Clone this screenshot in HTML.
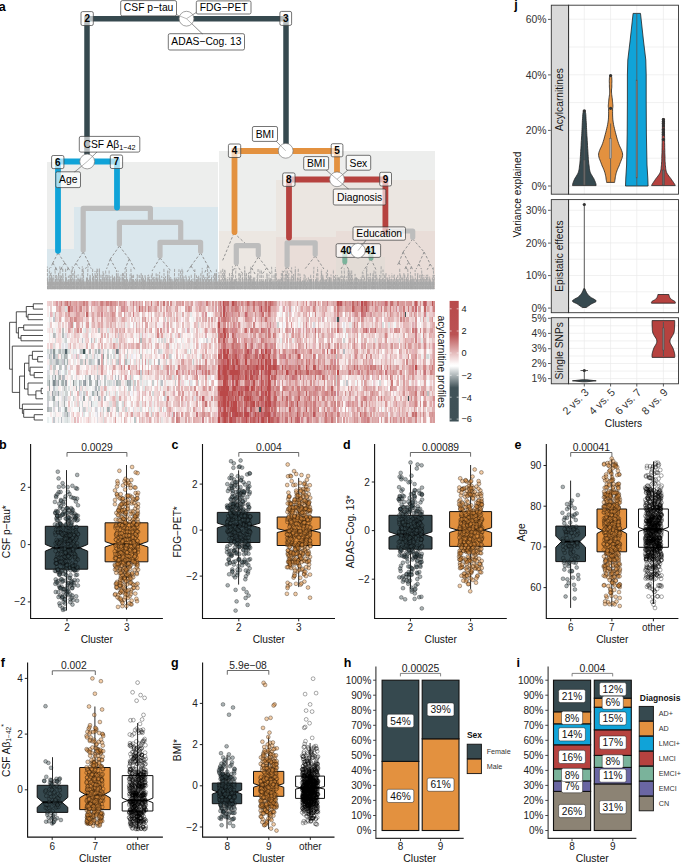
<!DOCTYPE html>
<html><head><meta charset="utf-8"><style>
html,body{margin:0;padding:0;background:#fff;}
svg{display:block;font-family:"Liberation Sans",sans-serif;}
</style></head><body>
<svg width="685" height="862" viewBox="0 0 685 862">
<g shape-rendering="crispEdges">
<rect x="47.2" y="162.3" width="171" height="127" fill="#edeeed"/>
<rect x="73.6" y="207" width="144.6" height="82.3" fill="#dae7ed"/>
<rect x="47.2" y="249" width="26.4" height="40.3" fill="#dae7ed"/>
<rect x="219.2" y="151" width="215.5" height="138.3" fill="#edeeed"/>
<rect x="275.5" y="179.5" width="159.2" height="109.8" fill="#ebe6e1"/>
<rect x="219.2" y="231" width="56.3" height="58.3" fill="#ece7e2"/>
<rect x="275.5" y="237" width="60" height="52.3" fill="#e9ddd8"/>
<rect x="335.5" y="231" width="99.2" height="58.3" fill="#e9ddd8"/>
<rect x="335.5" y="256.6" width="49.9" height="32.7" fill="#e3dcd6"/>
</g>
<path d="M58 253L52.8 263M58 253L64.8 263M52.8 263L50.7 267.9M52.8 263L55.9 267.9M55.9 267.9L54.4 271.4M55.9 267.9L57.5 271.4M64.8 263L61.4 267.9M64.8 263L68.2 267.9M61.4 267.9L59.7 271.4M61.4 267.9L63.2 271.4M68.2 267.9L66.8 271.4M68.2 267.9L70.2 271.4M83.2 252L75.9 263.3M83.2 252L88.9 263.3M75.9 263.3L72.6 268.8M75.9 263.3L79.9 268.8M88.9 263.3L85.5 268.7M88.9 263.3L91.2 268.7M119.4 246L110.3 259M119.4 246L129.3 259M110.3 259L106.6 268.9M110.3 259L115.7 268.9M129.3 259L124.8 269.3M129.3 259L134.7 269.3M160 258L152 271M160 258L171 271M200.6 253L191 266M200.6 253L208 266M191 266L186.1 273.4M191 266L195.7 273.4M208 266L204.5 273.1M208 266L211.9 273.1M236.3 264L231.8 274M236.3 264L242.8 274M258.3 257L251.7 267.9M258.3 257L266.7 267.9M251.7 267.9L248.5 274M251.7 267.9L255.1 274M266.7 267.9L262.3 274M266.7 267.9L270.7 274M287.1 267L282 274M287.1 267L293 274M315.2 256L304.9 269M315.2 256L323.9 269M344.8 263L340.2 270.2M344.8 263L349.2 270.2M371 259L363.5 270.8M371 259L376.5 270.8M412.7 239L403.1 252M412.7 239L424.1 252M403.1 252L399 262.5M403.1 252L408.6 262.5M399 262.5L396.8 266M399 262.5L400.8 266M408.6 262.5L405.9 266.7M408.6 262.5L411.4 266.7M405.9 266.7L404.4 270.2M405.9 266.7L407.2 270.2M411.4 266.7L410 270.2M411.4 266.7L412.8 270.2M424.1 252L418.8 264M424.1 252L430.2 264M418.8 264L416.1 269.1M418.8 264L421.4 269.1M430.2 264L427.2 269.7M430.2 264L433.3 269.7M234 233L222 262M234 233L247 245" fill="none" stroke="#939393" stroke-width="1" stroke-dasharray="2.6 1.9"/>
<rect x="47.5" y="281.5" width="386.8" height="7.6" fill="#b6b6b6"/>
<path d="M47.5 289.2L47.4 266.6M49 289.2L49.3 276.3M50.8 289.2L50.6 271.9M52.3 289.2L51.6 278M53.3 289.2L52.6 275.8M54.4 289.2L53.6 275.1M55.7 289.2L56.4 275M57.4 289.2L57.1 278.3M59.1 289.2L58.5 273M60.2 289.2L60.4 277.8M61.3 289.2L61.1 278.3M62.8 289.2L62.8 268.7M64.2 289.2L65 280.8M65.8 289.2L65.6 267.8M67.1 289.2L66.2 276.8M68 289.2L67.7 280.1M69 289.2L68.2 280.1M70.2 289.2L70.4 275.1M71.2 289.2L71 278.8M72.3 289.2L72.2 266.3M73.6 289.2L73.3 280.5M74.7 289.2L73.8 272.9M76.5 289.2L76.6 280.2M77.4 289.2L78.1 274.4M78.9 289.2L78.3 278.6M80.5 289.2L80.2 275.7M81.6 289.2L82.3 266.3M83.3 289.2L82.7 268.3M84.6 289.2L83.7 281M85.8 289.2L86.7 276.4M87.1 289.2L88 266.3M88.3 289.2L87.7 279.6M89.4 289.2L90.1 274.9M90.7 289.2L89.9 275.6M92.2 289.2L92.7 267.9M93.5 289.2L93.2 275.7M95.2 289.2L95 271M96.9 289.2L96.2 280M97.9 289.2L97.2 267.7M99.6 289.2L99.3 268.9M101 289.2L101.9 281.1M102.5 289.2L102.3 274.7M104.2 289.2L103.7 272.5M105.3 289.2L104.8 277.1M106.6 289.2L106.3 274.8M107.9 289.2L107.8 274.9M109.6 289.2L109.7 277.5M110.6 289.2L109.6 279.9M112.2 289.2L112.6 277.9M113.6 289.2L113.7 277.6M115.2 289.2L114.7 277.3M116.3 289.2L116.5 270.1M117.9 289.2L118.1 270.7M119.3 289.2L119.2 276.4M120.6 289.2L121 274.6M122.3 289.2L122.5 272.1M124.1 289.2L123.3 273.1M125.4 289.2L124.5 279.5M126.9 289.2L126.2 267M128.4 289.2L129.2 280.2M130.2 289.2L130 274.5M131.5 289.2L130.9 267.5M132.8 289.2L132.2 278.8M134 289.2L134.1 281.1M135.3 289.2L135.6 278.9M136.7 289.2L137.2 274.3M138.4 289.2L137.5 279.3M140 289.2L139.9 280.3M141.8 289.2L141.1 272.1M143.5 289.2L142.7 276.3M144.4 289.2L143.6 278.2M146.2 289.2L145.4 275.6M147.9 289.2L147.8 275.2M149.1 289.2L148.6 274.7M150.1 289.2L149.3 279.5M151.1 289.2L150.8 279.8M152.3 289.2L152.3 271.9M153.4 289.2L152.9 281.1M154.3 289.2L153.7 277.3M155.6 289.2L156.2 273.3M156.9 289.2L156.7 275.4M158.2 289.2L157.9 274.3M159.9 289.2L159.7 276.7M161.1 289.2L160.3 280.3M162.7 289.2L161.8 280.1M164.3 289.2L163.9 268.8M165.5 289.2L164.8 278M166.8 289.2L167.7 274.5M168.1 289.2L167.8 274.4M169.4 289.2L169.3 278.5M170.7 289.2L169.7 277.7M171.9 289.2L170.9 278.4M172.8 289.2L172.9 279.6M174.2 289.2L174.6 268.9M175.8 289.2L176.8 278.9M176.9 289.2L176 276.7M178.5 289.2L179 269.2M180.2 289.2L180.2 277.5M181.8 289.2L182 267.6M183.5 289.2L183 276.3M184.4 289.2L183.7 278.7M186.1 289.2L186.3 276.8M187.6 289.2L188.2 281.2M189.2 289.2L189.5 277.5M190.1 289.2L189.3 279.4M191.3 289.2L191.8 279.8M193.1 289.2L193 278.5M194.6 289.2L194.9 269.3M195.5 289.2L196 279.4M196.7 289.2L195.8 281.1M197.9 289.2L198.2 276.4M199 289.2L199 277.9M200 289.2L201 272.6M201.8 289.2L202.4 278M203.5 289.2L203 279.3M205.3 289.2L204.6 277.1M206.7 289.2L207.3 273.1M208 289.2L207.5 268.6M209.7 289.2L208.7 281M211.1 289.2L210.4 279.1M212.3 289.2L211.3 275.3M213.9 289.2L214.7 273.2M215.4 289.2L215.1 271.9M216.7 289.2L216.4 269.5M217.9 289.2L217.1 280.9M219.6 289.2L219.1 274.7M220.7 289.2L220.5 279.9M222.5 289.2L222.8 267.7M224.2 289.2L224.7 269.8M225.2 289.2L225.7 278M226.6 289.2L227.5 280.9M227.7 289.2L227.2 278.8M229.2 289.2L229.5 272.1M230.4 289.2L229.7 278.4M231.4 289.2L231.4 274.9M232.5 289.2L232.4 266.2M233.6 289.2L233.2 280.6M234.5 289.2L234.7 279.4M236.2 289.2L236.1 278.3M237.6 289.2L236.7 278.8M238.8 289.2L238.8 273.2M240.2 289.2L239.8 272.5M241.3 289.2L242.3 278.1M243 289.2L242.1 274M244.6 289.2L244.7 270.4M245.5 289.2L246.1 274.7M247.1 289.2L246.3 272.2M248.2 289.2L249 276.4M249.7 289.2L249.6 275.8M251.1 289.2L250.6 275.7M252.8 289.2L252.1 279.1M254 289.2L253.2 276.3M254.9 289.2L254.7 277.1M256 289.2L255.6 281.1M257.3 289.2L258.1 269M258.7 289.2L259.6 279.5M260.2 289.2L260.2 281M261.7 289.2L262 279.4M263.4 289.2L263.1 281M264.7 289.2L265.3 279.8M266.3 289.2L267.2 279.8M267.5 289.2L266.9 272.4M269.1 289.2L269 274.5M270.1 289.2L270.4 278.3M271.9 289.2L271.3 278.4M273.6 289.2L272.8 280.8M274.9 289.2L275.4 267.1M276.7 289.2L276.1 271.6M278.4 289.2L278.8 281M279.7 289.2L279 278.9M280.6 289.2L281.5 278.7M281.6 289.2L281.3 272.5M283.2 289.2L282.3 270.7M284.6 289.2L284 274.8M285.8 289.2L285.6 274M287.4 289.2L286.5 273.9M288.4 289.2L288.9 272.1M290.1 289.2L291 279.3M291.5 289.2L291.2 276.2M292.7 289.2L293.5 275.9M294.2 289.2L293.6 274M295.5 289.2L295.3 266.6M296.6 289.2L297.5 277.7M297.7 289.2L298.3 268.3M299.3 289.2L298.9 278.9M300.5 289.2L299.9 273.6M302.1 289.2L301.1 280.7M303.5 289.2L304.2 274.3M305.3 289.2L304.5 280.6M306.6 289.2L306.1 278.1M307.9 289.2L308.4 276.5M309.6 289.2L310.2 280.4M310.7 289.2L311.2 278.6M311.8 289.2L311.1 279.5M313.5 289.2L313.3 278.9M315.3 289.2L315.9 279.6M316.8 289.2L316.7 273.4M318.4 289.2L317.5 266.9M319.6 289.2L320.5 279.9M321 289.2L321.7 271.2M322.3 289.2L323.2 275.8M323.3 289.2L322.7 276.9M324.5 289.2L324 279.8M326 289.2L325 279.8M327.2 289.2L326.8 279.9M328.2 289.2L327.4 269.8M329.2 289.2L329.5 277.3M330.2 289.2L330 276.3M331.4 289.2L331 274.5M332.8 289.2L333.5 278.3M334.6 289.2L335 279.8M335.7 289.2L335.5 274.9M337.3 289.2L337.2 275M338.3 289.2L338.6 277.3M340.1 289.2L339.8 276.8M341.4 289.2L341.5 279.2M343.2 289.2L343.8 277.8M344.9 289.2L345.8 280.3M346.7 289.2L347.6 280.8M348 289.2L348.6 269.2M349 289.2L348.8 272.4M350.7 289.2L350.1 272.7M351.9 289.2L351.2 278.5M353 289.2L352.1 274.9M354.4 289.2L355.1 273.9M355.5 289.2L355.7 277.3M356.6 289.2L356.5 277.1M358.1 289.2L357.2 278.1M359.6 289.2L360.1 279.6M361.2 289.2L361.1 279.9M362.2 289.2L361.4 278.2M363.5 289.2L363.7 280.9M364.4 289.2L364.5 275.8M365.4 289.2L366.3 278.6M366.4 289.2L366.9 266.2M368.1 289.2L368 274.3M369.8 289.2L370.4 272.9M371.6 289.2L372.1 278.7M372.6 289.2L373.2 272M373.6 289.2L373 274.8M374.8 289.2L373.8 279M375.8 289.2L376.2 274.6M377.5 289.2L376.8 275.7M378.9 289.2L379.7 278.7M380.3 289.2L379.5 275M382.1 289.2L382.7 278.4M383.2 289.2L383 269.6M384.8 289.2L385.3 280M385.8 289.2L386 272.2M387.6 289.2L387.2 276.6M388.5 289.2L388.7 280.2M389.7 289.2L389 274.9M390.9 289.2L389.9 281M392.1 289.2L391.5 278.7M393.5 289.2L393.7 279.8M394.8 289.2L394.3 274.6M395.9 289.2L396.6 276.7M397.5 289.2L396.5 279.4M398.9 289.2L399.2 278.7M400.2 289.2L399.7 268.3M402 289.2L401.8 277.5M403.1 289.2L402.1 275.7M404.5 289.2L403.9 273.1M405.9 289.2L406.5 276.7M407 289.2L406.1 279.1M408.7 289.2L407.7 268.5M410.3 289.2L410.8 277.9M411.6 289.2L411.1 280.5M412.6 289.2L413 276M414.2 289.2L414.3 279.3M415.5 289.2L415.1 270M417 289.2L417.8 272.5M417.9 289.2L418.4 279.5M419.7 289.2L420.4 278.9M420.9 289.2L421.1 274.8M422.4 289.2L422.3 274.3M424 289.2L423.9 275.2M425.6 289.2L425 279M427.1 289.2L426.3 274.8M428 289.2L427.7 274.7M429 289.2L429.4 280.9M430.5 289.2L429.6 276M431.9 289.2L432.5 275.5M433.6 289.2L434.4 275.1" fill="none" stroke="#a3a3a3" stroke-width="0.95" stroke-dasharray="3.2 1.1" stroke-dashoffset="0"/>
<path d="M48.2 289.2L47.4 279.8M49.1 289.2L49.4 267.7M50.8 289.2L50 279.2M51.7 289.2L51.4 272.6M53 289.2L52.6 279.4M54.6 289.2L55.5 279M55.9 289.2L55 269.3M57.2 289.2L56.9 275.8M58.7 289.2L59.5 279.7M59.7 289.2L58.7 272.8M60.8 289.2L59.8 266.4M62.1 289.2L61.5 275.6M63.5 289.2L63 275.4M65.2 289.2L65.6 279.7M66.6 289.2L65.7 276.7M68.2 289.2L68.4 275.7M69.4 289.2L70.2 278.4M70.4 289.2L69.8 274M71.5 289.2L71.3 270.2M73.2 289.2L73.3 278M74.8 289.2L74.5 269M76 289.2L76.3 275.3M77.6 289.2L78.1 278.1M79 289.2L79.7 278M80.1 289.2L80.5 279.1M81.7 289.2L81.2 280.1M82.9 289.2L82.6 280.1M84 289.2L83.2 268.4M85.8 289.2L86.7 278.5M87.4 289.2L86.8 278.2M88.9 289.2L88.6 279.8M89.8 289.2L90.2 275.7M91.2 289.2L90.4 278M92.6 289.2L93.4 276M93.9 289.2L93.7 276M95 289.2L95.5 275M96.5 289.2L96.8 268.8M97.8 289.2L97 276.8M99.1 289.2L99.4 268.5M100.2 289.2L100.5 278M101.5 289.2L100.9 274.7M103 289.2L103 271.1M104.8 289.2L104.1 277.4M106.4 289.2L105.6 270M107.8 289.2L107.8 276.2M109.3 289.2L109.1 270M111 289.2L110.8 276.4M112.6 289.2L112.3 274.3M113.5 289.2L112.6 278.4M114.8 289.2L114.5 276.3M116 289.2L116.8 276M117.3 289.2L117.1 275.6M118.4 289.2L119 275.8M119.9 289.2L119.4 277.3M121.7 289.2L122.3 276.7M123.3 289.2L123.4 279.1M124.3 289.2L125 271.4M125.5 289.2L125.3 279.4M126.5 289.2L126.1 276.1M127.6 289.2L127.5 277.8M129.1 289.2L130 278.7M130.8 289.2L131.6 275.4M132.4 289.2L132.7 275.4M133.3 289.2L133.6 274.5M134.4 289.2L133.9 280.2M136 289.2L136.8 280.1M137.6 289.2L137.9 275M139.2 289.2L139.8 274.9M140.9 289.2L141 276.4M142.5 289.2L142.6 275M143.6 289.2L143.6 280.2M144.6 289.2L144.5 280.2M145.9 289.2L144.9 275.2M147.6 289.2L147.9 277.3M149.2 289.2L150.1 278.3M150.2 289.2L149.2 276.7M151.6 289.2L151.3 274.7M153.4 289.2L154.2 277.8M154.4 289.2L154 276.8M156 289.2L156.1 277.9M157.6 289.2L157.5 278.2M159 289.2L159.7 271.9M160.3 289.2L160.3 279.3M162.1 289.2L161.7 275.7M163.2 289.2L163.5 277.1M164.8 289.2L165.6 276.1M166.2 289.2L165.3 279.1M167.3 289.2L167.6 269.3M168.9 289.2L169.2 269.3M170.4 289.2L170.7 277M171.5 289.2L172 278M172.5 289.2L173 280.9M174.2 289.2L174.8 278.6M175.8 289.2L175.4 279.4M177.1 289.2L177.4 278.2M178.8 289.2L177.9 277.2M179.8 289.2L180.7 269.6M181.1 289.2L181.3 278.5M182.9 289.2L182.7 270.4M183.9 289.2L183.2 279.7M184.8 289.2L184 276.4M186.5 289.2L185.8 275.1M187.5 289.2L187.9 279.5M188.5 289.2L189 275.8M190.2 289.2L190.5 280.6M191.7 289.2L191.2 274.7M193.5 289.2L192.5 281.1M195 289.2L194.6 273.6M196.6 289.2L196.5 275.2M197.5 289.2L197.4 277.2M199 289.2L198.7 275.6M200.5 289.2L200.3 278.3M202.1 289.2L202.2 267.9M203.3 289.2L203.7 274.4M204.9 289.2L205.9 277M206.6 289.2L206.4 279M208.3 289.2L208.5 276.4M210 289.2L209 271.9M211.1 289.2L211.7 277.1M212.8 289.2L213.4 275.4M214.5 289.2L215.2 279.3M216.1 289.2L215.8 274.8M217.1 289.2L216.5 275.6M218.7 289.2L218.9 272.3M220.2 289.2L219.7 279.8M221.7 289.2L220.9 270.5M223.4 289.2L223.5 272.3M225.1 289.2L225 270M226.5 289.2L225.9 279.9M228 289.2L227.8 277.2M229.4 289.2L230.4 280.9M230.6 289.2L231.2 276.8M231.7 289.2L231.7 278.8M232.6 289.2L233.3 274.3M233.9 289.2L234.5 279.4M235.2 289.2L235.9 268.1M237 289.2L236.4 280.9M238 289.2L238.2 280.8M239.7 289.2L240.6 274.6M240.7 289.2L239.9 278.4M242.5 289.2L242.7 277.2M244.2 289.2L244.1 278.4M245.3 289.2L244.7 266.3M246.2 289.2L247 278.7M247.9 289.2L248.5 273.8M249.4 289.2L248.6 274.3M250.5 289.2L250.8 266.7M251.6 289.2L250.9 275.9M252.8 289.2L252.8 280.3M253.9 289.2L254.2 280.2M254.8 289.2L253.9 279.8M256.5 289.2L257.3 274.7M258.2 289.2L257.4 278.1M260 289.2L259.9 269.2M261.2 289.2L261.4 270.4M262.2 289.2L262.6 280.8M263.6 289.2L263.1 275.1M264.9 289.2L265.6 279.3M266.1 289.2L265.7 277.8M267.8 289.2L266.9 274.3M269.5 289.2L269.4 279.7M270.7 289.2L270.4 279.8M272.4 289.2L271.6 266.8M273.6 289.2L274.1 273.7M274.8 289.2L275.4 274.1M276 289.2L276.6 281.2M277.3 289.2L278.2 278.2M278.4 289.2L277.8 280.2M280 289.2L279.2 279.8M281 289.2L280.6 277.7M282.1 289.2L282.7 276.2M283.5 289.2L284 280.7M284.8 289.2L285.4 280.8M286 289.2L286 267.3M286.9 289.2L287.7 270.4M288 289.2L287.8 275.4M289.1 289.2L288.1 277M290.5 289.2L289.7 277.6M292 289.2L291.6 267.3M293.5 289.2L292.7 275.9M295.2 289.2L295.3 270.2M296.6 289.2L297.5 281.1M297.7 289.2L297.2 280.5M299.3 289.2L299.7 280.5M300.4 289.2L300.6 277M301.8 289.2L302.5 280.5M303.3 289.2L303.3 280.3M304.7 289.2L304.5 280.3M305.7 289.2L305 275.2M307.1 289.2L307.8 280M308.9 289.2L309.6 278.3M310.2 289.2L310.8 274.6M311.4 289.2L311.3 278.9M313.2 289.2L313.9 266.9M314.9 289.2L315.8 277.6M316.6 289.2L316.9 278.2M317.9 289.2L317.7 280.7M319.2 289.2L320.2 280.2M320.8 289.2L321.4 269.1M322.5 289.2L322.8 273.9M323.7 289.2L323.7 279.3M325.4 289.2L325.4 279.4M326.7 289.2L326.3 271.9M328.2 289.2L329.1 277M329.5 289.2L329.6 277.9M330.6 289.2L330.1 280.3M331.8 289.2L331 279.5M333.2 289.2L333.4 269.3M334.7 289.2L334.6 276.2M336.1 289.2L335.7 277.9M337.2 289.2L337 277.6M338.6 289.2L339.4 278.7M339.7 289.2L339.3 277.8M341.5 289.2L340.9 275.8M342.5 289.2L341.6 270.7M343.7 289.2L343 276.1M344.9 289.2L344.2 268.3M346.1 289.2L346.3 276.5M347.7 289.2L348.2 270.1M349.3 289.2L349.9 270.4M350.8 289.2L351.6 273.2M351.7 289.2L351.7 269.5M353.5 289.2L354.1 278.3M355.2 289.2L355.1 278.5M356.5 289.2L356.3 279.1M357.9 289.2L358.5 278.9M359.6 289.2L358.9 278.1M360.7 289.2L360.9 277.2M361.7 289.2L362.4 271.6M363.4 289.2L363.2 272.6M365.1 289.2L365.2 280.9M366.4 289.2L366.5 268M368.2 289.2L368.6 277.6M369.5 289.2L369.2 277M371.2 289.2L370.4 277.5M372.5 289.2L372.6 277.3M374.2 289.2L374 270.3M375.6 289.2L375.7 271.5M377.3 289.2L378.2 279M378.9 289.2L379.7 280.4M380.4 289.2L381.2 266.3M381.7 289.2L381.7 279.2M383.1 289.2L383.3 279.9M384.5 289.2L384.8 274.2M385.4 289.2L385.1 275.7M387 289.2L387.6 279.1M388.4 289.2L388.4 279.8M389.8 289.2L389.8 276.7M391.6 289.2L390.8 278.3M392.6 289.2L391.8 273.3M393.7 289.2L393.9 275.4M395.3 289.2L395.8 281.1M396.5 289.2L395.8 278.7M397.6 289.2L397.8 274.9M398.8 289.2L398 278.5M400.5 289.2L400.4 274.5M402 289.2L402.9 280.9M403.7 289.2L404.3 274.9M404.8 289.2L404.8 274.5M406.6 289.2L407 278.5M407.7 289.2L407.7 275.1M409.3 289.2L409 280M410.4 289.2L410.5 271.9M411.4 289.2L411.2 278.5M412.3 289.2L412 275.4M413.5 289.2L412.9 279.2M414.4 289.2L413.7 278.8M415.9 289.2L416.6 279.3M416.9 289.2L417.6 275.3M418 289.2L417.7 276.1M419.8 289.2L419.8 274.5M420.9 289.2L421.3 280.3M422 289.2L421.7 269.5M423.1 289.2L423.9 279.7M424.1 289.2L423.7 277.4M425.7 289.2L425.9 276.6M426.9 289.2L426.3 280.6M428.6 289.2L427.8 276.6M430 289.2L429.6 277.7M430.9 289.2L430.2 279.6M432.5 289.2L433.3 278.4M434.1 289.2L433.3 267.3" fill="none" stroke="#a8a8a8" stroke-width="0.95" stroke-dasharray="3.2 1.1" stroke-dashoffset="1.7"/>
<path d="M83.2 250V208.3H150.4V222.3M119.4 244V222.3H180.7V242.3M160 256V242.3H200.6V251.3M236.3 262.7V245.6H258.3V255.1M287.1 265.2V242.8H315.2V254.2M385.4 231H412.7V237.3" fill="none" stroke="#bdbdbd" stroke-width="5.2" stroke-linecap="round" stroke-linejoin="round"/>
<path d="M344.8 261.7V250.6H371V257.9" fill="none" stroke="#7ab39b" stroke-width="5" stroke-linecap="round"/>
<path d="M289 237.5V179.5H385.4V232" fill="none" stroke="#b6423f" stroke-width="5.8" stroke-linecap="round"/>
<path d="M234.5 232V151H337V179.5" fill="none" stroke="#e3913f" stroke-width="5.8" stroke-linecap="round"/>
<path d="M58 250.8V161.5H117V207.5" fill="none" stroke="#10a3d8" stroke-width="5.8" stroke-linecap="round"/>
<path d="M87 161.5V18.7H286V151" fill="none" stroke="#36494f" stroke-width="5.5"/>
<path d="M186.5 18.7L176 14.5M186.5 18.7L197 12M186.5 18.7L203 34.5M87.2 161.5L97 152M87.2 161.5L74 172.5M285.7 150.8L276 141M337 179.3L326 170M337 179.3L348 170M337 179.3L349 189.5M358 250.6L366 240" stroke="#8a8a8a" stroke-width="0.6" fill="none"/>
<circle cx="186.5" cy="18.7" r="7.4" fill="#fff" stroke="#7a7a7a" stroke-width="0.7"/>
<circle cx="87.2" cy="161.5" r="7.4" fill="#fff" stroke="#7a7a7a" stroke-width="0.7"/>
<circle cx="285.7" cy="150.8" r="7.4" fill="#fff" stroke="#7a7a7a" stroke-width="0.7"/>
<circle cx="337" cy="179.3" r="7.4" fill="#fff" stroke="#7a7a7a" stroke-width="0.7"/>
<circle cx="358" cy="250.6" r="7.4" fill="#fff" stroke="#7a7a7a" stroke-width="0.7"/>
<path d="M186.5 18.7L176 14.5M186.5 18.7L197 12M186.5 18.7L203 34.5M87.2 161.5L97 152M87.2 161.5L74 172.5M285.7 150.8L276 141M337 179.3L326 170M337 179.3L348 170M337 179.3L349 189.5M358 250.6L366 240" stroke="#8a8a8a" stroke-width="0.6" fill="none"/>
<rect x="120.7" y="0.6" width="55.8" height="15.3" rx="1.6" fill="#fff" fill-opacity="0.63" stroke="#3a3a3a" stroke-width="0.7"/>
<text x="148.6" y="11" font-size="10.3" text-anchor="middle" fill="#000">CSF p−tau</text>
<rect x="196.3" y="0.9" width="54.7" height="13.1" rx="1.6" fill="#fff" fill-opacity="0.63" stroke="#3a3a3a" stroke-width="0.7"/>
<text x="223.7" y="11" font-size="10.3" text-anchor="middle" fill="#000">FDG−PET</text>
<rect x="168.3" y="33.7" width="76.2" height="16.3" rx="1.6" fill="#fff" fill-opacity="0.63" stroke="#3a3a3a" stroke-width="0.7"/>
<text x="206.4" y="44.9" font-size="10.3" text-anchor="middle" fill="#000">ADAS−Cog. 13</text>
<rect x="81" y="11.6" width="12.3" height="13.9" rx="1.6" fill="#fff" fill-opacity="0.63" stroke="#3a3a3a" stroke-width="0.7"/>
<text x="87.2" y="22.1" font-size="10" text-anchor="middle" font-weight="bold" fill="#000">2</text>
<rect x="279.9" y="11.4" width="11.7" height="14" rx="1.6" fill="#fff" fill-opacity="0.63" stroke="#3a3a3a" stroke-width="0.7"/>
<text x="285.8" y="22" font-size="10" text-anchor="middle" font-weight="bold" fill="#000">3</text>
<rect x="252.4" y="126.5" width="25.1" height="14.9" rx="1.6" fill="#fff" fill-opacity="0.63" stroke="#3a3a3a" stroke-width="0.7"/>
<text x="264.9" y="137.7" font-size="10.3" text-anchor="middle" fill="#000">BMI</text>
<rect x="228.4" y="144" width="12.3" height="13.5" rx="1.6" fill="#fff" fill-opacity="0.63" stroke="#3a3a3a" stroke-width="0.7"/>
<text x="234.6" y="154.3" font-size="10" text-anchor="middle" font-weight="bold" fill="#000">4</text>
<rect x="331.2" y="143.7" width="11.7" height="13.1" rx="1.6" fill="#fff" fill-opacity="0.63" stroke="#3a3a3a" stroke-width="0.7"/>
<text x="337" y="153.8" font-size="10" text-anchor="middle" font-weight="bold" fill="#000">5</text>
<rect x="303.7" y="156.6" width="24.9" height="13.4" rx="1.6" fill="#fff" fill-opacity="0.63" stroke="#3a3a3a" stroke-width="0.7"/>
<text x="316.1" y="167" font-size="10.3" text-anchor="middle" fill="#000">BMI</text>
<rect x="346.2" y="155.3" width="24.5" height="14.9" rx="1.6" fill="#fff" fill-opacity="0.63" stroke="#3a3a3a" stroke-width="0.7"/>
<text x="358.4" y="166.5" font-size="10.3" text-anchor="middle" fill="#000">Sex</text>
<rect x="282.7" y="172.9" width="12.3" height="13.5" rx="1.6" fill="#fff" fill-opacity="0.63" stroke="#3a3a3a" stroke-width="0.7"/>
<text x="288.9" y="183.2" font-size="10" text-anchor="middle" font-weight="bold" fill="#000">8</text>
<rect x="379.7" y="172.3" width="11.8" height="13.7" rx="1.6" fill="#fff" fill-opacity="0.63" stroke="#3a3a3a" stroke-width="0.7"/>
<text x="385.6" y="182.8" font-size="10" text-anchor="middle" font-weight="bold" fill="#000">9</text>
<rect x="333.3" y="189" width="52.5" height="16" rx="1.6" fill="#fff" fill-opacity="0.63" stroke="#3a3a3a" stroke-width="0.7"/>
<text x="359.6" y="200.7" font-size="10.3" text-anchor="middle" fill="#000">Diagnosis</text>
<rect x="79.3" y="136.4" width="60.5" height="15.7" rx="1.6" fill="#fff" fill-opacity="0.63" stroke="#3a3a3a" stroke-width="0.7"/>
<text x="109.6" y="148" font-size="10.3" text-anchor="middle" fill="#000">CSF Aβ<tspan font-size="7.3" dy="2">1−42</tspan></text>
<rect x="51.6" y="155.5" width="12.3" height="13.1" rx="1.6" fill="#fff" fill-opacity="0.63" stroke="#3a3a3a" stroke-width="0.7"/>
<text x="57.8" y="165.7" font-size="10" text-anchor="middle" font-weight="bold" fill="#000">6</text>
<rect x="110.3" y="155" width="12.3" height="13.5" rx="1.6" fill="#fff" fill-opacity="0.63" stroke="#3a3a3a" stroke-width="0.7"/>
<text x="116.4" y="165.3" font-size="10" text-anchor="middle" font-weight="bold" fill="#000">7</text>
<rect x="55.8" y="171.8" width="24.7" height="15.8" rx="1.6" fill="#fff" fill-opacity="0.63" stroke="#3a3a3a" stroke-width="0.7"/>
<text x="68.2" y="183.4" font-size="10.3" text-anchor="middle" fill="#000">Age</text>
<rect x="353" y="226.9" width="52.5" height="13.3" rx="1.6" fill="#fff" fill-opacity="0.63" stroke="#3a3a3a" stroke-width="0.7"/>
<text x="379.2" y="237.3" font-size="10.3" text-anchor="middle" fill="#000">Education</text>
<rect x="336.1" y="243.7" width="19.9" height="13.7" rx="1.6" fill="#fff" fill-opacity="0.63" stroke="#3a3a3a" stroke-width="0.7"/>
<text x="346.1" y="254.1" font-size="10" text-anchor="middle" font-weight="bold" fill="#000">40</text>
<rect x="360" y="243.7" width="20.6" height="13.7" rx="1.6" fill="#fff" fill-opacity="0.63" stroke="#3a3a3a" stroke-width="0.7"/>
<text x="370.3" y="254.1" font-size="10" text-anchor="middle" font-weight="bold" fill="#000">41</text>
<circle cx="358" cy="250.6" r="7.2" fill="#fff" stroke="#7a7a7a" stroke-width="0.7"/>
<path d="M358 250.6L366 240.5" stroke="#8a8a8a" stroke-width="0.6"/>
<text x="-1.2" y="10.8" font-size="12.5" font-weight="bold" fill="#000">a</text>
<g transform="translate(47.3 301.2) scale(1.5019 5.2783)" fill="none" stroke-width="1.08" shape-rendering="crispEdges">
<path stroke="#f0d2d2" d="M0.5 0v1M3.5 8v1M7.5 6v2M7.5 10v1M8.5 4v1M8.5 8v1M10.5 2v1M16.5 5v1M20.5 18v1M20.5 21v1M21.5 5v1M21.5 8v1M25.5 6v2M26.5 7v1M27.5 12v1M29.5 6v1M34.5 3v1M35.5 5v1M35.5 12v1M36.5 16v1M39.5 5v1M41.5 17v1M42.5 5v1M45.5 21v1M46.5 6v1M49.5 22v1M50.5 13v1M52.5 6v1M52.5 21v1M55.5 6v1M58.5 2v1M58.5 8v1M59.5 11v1M68.5 0v1M69.5 20v1M71.5 17v1M72.5 3v1M72.5 16v1M73.5 2v1M75.5 12v1M77.5 8v1M80.5 19v1M82.5 5v1M82.5 9v1M83.5 17v1M84.5 0v1M84.5 13v1M85.5 6v1M86.5 12v1M88.5 1v1M88.5 10v1M88.5 20v1M88.5 22v1M89.5 13v1M90.5 18v1M90.5 21v1M92.5 11v1M93.5 7v1M93.5 10v1M93.5 13v1M94.5 19v1M96.5 16v1M98.5 13v1M98.5 19v1M100.5 2v1M100.5 16v1M100.5 21v1M101.5 6v1M101.5 14v1M101.5 19v1M102.5 15v1M103.5 6v1M107.5 17v1M107.5 22v1M108.5 5v1M108.5 14v1M109.5 17v1M109.5 20v1M110.5 2v1M111.5 2v1M111.5 4v1M111.5 8v1M112.5 9v1M113.5 12v1M131.5 1v1M131.5 3v1M139.5 3v1M139.5 6v1M141.5 9v1M144.5 4v1M150.5 3v1M156.5 2v1M156.5 6v1M157.5 0v1M160.5 6v1M163.5 8v1M166.5 2v1M171.5 0v1M173.5 4v1M173.5 15v1M175.5 1v1M176.5 3v1M177.5 3v1M179.5 0v1M181.5 2v1M182.5 14v2M182.5 20v1M186.5 2v1M187.5 19v1M189.5 4v1M196.5 2v1M196.5 9v1M197.5 12v1M201.5 8v1M205.5 6v1M205.5 14v1M205.5 20v1M207.5 17v1M208.5 14v1M208.5 22v1M213.5 3v1M213.5 6v1M214.5 4v1M214.5 7v1M215.5 6v1M218.5 14v1M219.5 10v1M221.5 3v2M223.5 1v1M224.5 7v1M225.5 4v1M227.5 20v1M228.5 4v1M231.5 14v1M232.5 4v1M233.5 13v1M235.5 4v1M235.5 17v1M237.5 9v1M238.5 12v1M239.5 19v1M240.5 17v1M242.5 3v1M248.5 14v1M249.5 14v1M252.5 6v1M252.5 13v2M253.5 18v1M255.5 8v1M255.5 15v1M256.5 14v1"/>
<path stroke="#f6eaea" d="M0.5 1v2M0.5 5v1M0.5 11v1M1.5 6v2M2.5 3v1M2.5 5v1M2.5 17v1M2.5 21v1M3.5 7v1M3.5 10v1M6.5 6v1M7.5 16v1M11.5 3v1M12.5 14v1M13.5 5v1M13.5 15v1M15.5 14v2M15.5 18v1M18.5 16v1M19.5 7v2M20.5 8v1M20.5 14v1M21.5 11v1M22.5 4v1M22.5 7v1M22.5 10v1M23.5 6v1M23.5 14v1M24.5 8v1M24.5 22v1M25.5 2v1M27.5 10v1M27.5 13v1M31.5 6v1M31.5 8v1M32.5 14v1M33.5 8v1M34.5 22v1M35.5 6v1M35.5 17v1M36.5 20v1M38.5 5v1M38.5 12v1M39.5 10v1M39.5 19v1M40.5 8v1M40.5 14v1M41.5 18v1M41.5 22v1M42.5 6v1M42.5 20v1M43.5 16v1M44.5 6v1M44.5 16v1M45.5 15v1M46.5 4v1M46.5 12v1M47.5 3v1M47.5 7v1M47.5 13v1M49.5 15v1M50.5 18v1M51.5 6v1M52.5 16v1M53.5 6v1M53.5 8v1M54.5 14v1M54.5 21v1M57.5 18v1M58.5 1v1M58.5 19v1M59.5 20v1M60.5 6v1M60.5 11v2M64.5 14v1M65.5 2v1M65.5 22v1M66.5 7v1M66.5 17v1M67.5 5v1M67.5 10v1M68.5 2v1M68.5 6v1M68.5 21v1M70.5 14v1M71.5 3v2M71.5 14v1M72.5 19v1M73.5 10v1M74.5 0v2M74.5 8v1M76.5 4v1M77.5 22v1M78.5 1v1M78.5 5v1M80.5 15v1M81.5 17v1M82.5 16v1M82.5 19v1M83.5 2v1M83.5 16v1M84.5 10v1M85.5 3v1M85.5 13v1M85.5 17v1M88.5 11v1M88.5 16v1M89.5 5v1M90.5 16v1M91.5 14v1M91.5 17v2M91.5 21v1M92.5 10v1M93.5 6v1M93.5 8v1M93.5 17v1M93.5 22v1M94.5 6v1M94.5 16v1M95.5 6v2M96.5 1v2M98.5 15v1M100.5 5v1M100.5 7v1M101.5 10v1M101.5 17v1M102.5 19v1M104.5 6v1M104.5 9v1M104.5 14v1M104.5 22v1M106.5 15v1M107.5 6v2M108.5 4v1M108.5 6v1M109.5 6v1M110.5 4v1M110.5 19v2M112.5 3v1M113.5 3v1M113.5 8v1M126.5 7v1M129.5 5v1M134.5 5v1M136.5 4v1M152.5 15v1M153.5 7v1M154.5 1v1M155.5 5v1M155.5 8v1M157.5 8v1M158.5 1v1M163.5 1v1M165.5 4v1M166.5 8v1M168.5 3v1M173.5 7v1M179.5 8v1M182.5 5v1M183.5 4v1M185.5 9v1M185.5 15v1M190.5 4v1M192.5 5v1M192.5 16v1M195.5 9v1M196.5 11v1M196.5 14v1M196.5 20v1M197.5 10v1M197.5 14v1M198.5 7v1M198.5 16v1M202.5 11v1M202.5 21v1M205.5 7v1M206.5 14v1M207.5 14v1M208.5 3v1M208.5 9v1M211.5 6v1M216.5 7v1M218.5 9v1M219.5 16v1M221.5 11v1M223.5 7v1M223.5 12v1M223.5 22v1M224.5 13v2M227.5 10v1M227.5 15v1M227.5 19v1M230.5 9v1M230.5 14v1M230.5 18v1M231.5 6v1M232.5 9v1M234.5 6v1M240.5 2v1M247.5 19v1M248.5 9v1M249.5 4v1M249.5 15v1M253.5 4v1M253.5 6v1M253.5 19v1M254.5 4v1M254.5 9v1M254.5 11v1"/>
<path stroke="#fcfcfc" d="M0.5 3v1M0.5 6v2M0.5 21v1M1.5 1v1M1.5 19v1M1.5 21v1M2.5 19v1M3.5 1v1M3.5 3v2M3.5 19v1M3.5 21v1M4.5 1v1M5.5 1v1M6.5 20v1M7.5 12v1M9.5 16v1M9.5 20v1M10.5 3v1M10.5 12v1M11.5 5v1M13.5 7v1M13.5 19v1M14.5 10v1M14.5 17v1M15.5 10v1M15.5 19v1M15.5 21v1M16.5 11v1M16.5 13v1M16.5 18v1M17.5 14v1M17.5 17v1M17.5 19v2M19.5 11v1M19.5 17v1M19.5 20v1M20.5 9v1M21.5 18v1M21.5 22v1M22.5 14v1M22.5 21v1M23.5 5v1M23.5 22v1M24.5 10v1M24.5 14v1M25.5 12v1M25.5 18v1M25.5 21v1M26.5 9v1M26.5 21v1M27.5 8v1M27.5 15v1M27.5 17v1M28.5 3v1M28.5 6v2M29.5 9v1M29.5 14v1M29.5 16v1M30.5 14v1M30.5 18v1M30.5 20v1M31.5 15v1M33.5 7v1M34.5 20v1M35.5 11v1M35.5 14v1M37.5 7v2M37.5 14v2M37.5 19v1M38.5 7v1M38.5 11v1M40.5 12v2M40.5 18v1M41.5 10v1M41.5 21v1M42.5 9v1M43.5 10v1M43.5 22v1M46.5 1v1M46.5 13v1M46.5 16v1M47.5 17v1M48.5 19v1M49.5 11v1M50.5 2v1M50.5 14v1M50.5 21v2M53.5 19v1M54.5 7v1M54.5 13v1M54.5 19v1M54.5 22v1M55.5 3v1M55.5 9v1M55.5 20v1M56.5 4v1M56.5 11v1M56.5 16v1M56.5 18v1M57.5 19v1M57.5 22v1M58.5 7v1M58.5 14v1M59.5 14v2M60.5 14v1M60.5 22v1M62.5 2v1M62.5 12v1M62.5 16v1M64.5 0v1M64.5 18v1M64.5 20v1M66.5 12v1M66.5 20v1M67.5 4v1M67.5 15v1M68.5 12v1M68.5 15v1M70.5 2v1M70.5 5v1M70.5 9v1M70.5 16v1M72.5 11v1M72.5 15v1M73.5 7v1M74.5 3v1M74.5 5v1M74.5 18v1M75.5 17v1M76.5 3v1M76.5 18v1M76.5 20v1M78.5 10v1M80.5 7v1M81.5 4v2M83.5 10v1M85.5 4v2M85.5 10v1M85.5 16v1M85.5 20v3M87.5 7v1M87.5 9v1M88.5 5v1M88.5 7v1M88.5 18v1M88.5 21v1M89.5 4v1M90.5 14v1M91.5 1v1M92.5 7v1M94.5 9v1M95.5 3v1M95.5 19v1M96.5 6v1M97.5 9v1M97.5 15v1M98.5 8v1M100.5 14v1M100.5 19v1M102.5 7v1M102.5 11v1M102.5 20v1M103.5 7v1M104.5 15v1M106.5 6v1M108.5 2v1M109.5 10v1M110.5 8v1M110.5 14v1M110.5 16v1M111.5 15v1M112.5 15v1M152.5 3v1M154.5 2v1M155.5 4v1M157.5 2v2M158.5 7v1M160.5 3v1M160.5 7v2M163.5 2v1M164.5 1v1M164.5 4v2M175.5 2v1M179.5 7v1M185.5 3v1M188.5 4v1M188.5 7v1M190.5 7v1M192.5 6v1M192.5 22v1M194.5 20v1M195.5 15v1M196.5 4v1M196.5 7v1M196.5 15v1M197.5 2v1M197.5 6v1M197.5 20v1M199.5 14v1M199.5 20v1M201.5 15v1M207.5 7v1M208.5 6v1M208.5 15v1M215.5 14v1M220.5 15v1M223.5 3v1M223.5 9v1M224.5 4v1M224.5 15v1M225.5 15v1M227.5 16v1M233.5 9v1M234.5 8v1M234.5 14v2M238.5 6v1M238.5 13v1M246.5 3v1M246.5 20v1M247.5 15v1M248.5 4v1M249.5 18v1M253.5 9v1M253.5 15v1M253.5 22v1"/>
<path stroke="#fcf6f6" d="M0.5 4v1M1.5 8v1M2.5 7v1M2.5 16v1M3.5 13v1M3.5 16v1M4.5 4v1M6.5 8v1M6.5 12v1M6.5 18v1M7.5 8v1M8.5 18v1M9.5 21v1M11.5 4v1M14.5 7v1M14.5 14v1M15.5 6v1M17.5 12v1M18.5 4v1M18.5 21v1M20.5 16v1M22.5 20v1M23.5 13v1M24.5 12v1M26.5 18v1M28.5 1v1M30.5 22v1M31.5 21v1M32.5 8v1M32.5 11v1M32.5 22v1M33.5 6v1M34.5 6v1M34.5 21v1M35.5 10v1M37.5 18v1M38.5 10v1M38.5 21v1M39.5 9v1M39.5 18v1M40.5 22v1M41.5 9v1M41.5 11v1M41.5 14v1M42.5 13v1M42.5 16v1M44.5 20v2M46.5 2v1M46.5 22v1M48.5 20v1M48.5 22v1M50.5 10v1M50.5 16v1M52.5 9v1M53.5 14v1M56.5 20v1M56.5 22v1M58.5 17v2M60.5 10v1M61.5 10v1M62.5 17v2M64.5 4v1M64.5 11v1M65.5 9v1M66.5 2v1M67.5 9v1M67.5 17v1M70.5 10v1M70.5 22v1M71.5 5v1M71.5 7v2M72.5 20v1M73.5 9v1M73.5 11v1M74.5 10v1M75.5 3v1M75.5 7v1M75.5 11v1M76.5 8v1M77.5 15v1M81.5 6v1M82.5 15v1M83.5 19v1M84.5 7v1M87.5 5v1M87.5 10v1M88.5 19v1M89.5 8v1M90.5 6v1M91.5 2v3M92.5 6v1M92.5 15v1M95.5 5v1M96.5 4v1M98.5 2v1M98.5 5v1M98.5 7v1M101.5 9v1M101.5 15v1M105.5 7v1M106.5 2v1M106.5 9v1M106.5 22v1M109.5 21v1M110.5 9v1M113.5 7v1M113.5 9v2M152.5 8v1M153.5 2v1M154.5 4v1M155.5 6v1M155.5 16v1M158.5 4v1M162.5 3v1M166.5 1v1M174.5 4v1M179.5 4v1M179.5 6v1M182.5 0v1M184.5 7v1M185.5 7v1M188.5 5v1M190.5 15v1M192.5 9v1M196.5 22v1M197.5 19v1M198.5 4v1M199.5 7v1M202.5 3v1M202.5 8v1M207.5 15v1M208.5 16v1M217.5 11v1M218.5 6v1M221.5 14v1M221.5 20v1M221.5 22v1M226.5 20v1M230.5 15v1M238.5 11v1M241.5 10v1M246.5 4v1M246.5 11v1M249.5 9v1M249.5 19v1"/>
<path stroke="#f0d8d8" d="M0.5 8v1M7.5 2v1M7.5 5v1M8.5 6v2M12.5 4v1M14.5 8v1M14.5 13v1M15.5 7v1M16.5 7v1M18.5 7v1M21.5 6v1M21.5 21v1M22.5 16v1M24.5 3v1M26.5 12v1M27.5 5v1M27.5 18v1M28.5 0v1M28.5 21v1M29.5 4v1M29.5 12v1M30.5 1v1M30.5 5v1M31.5 13v1M32.5 3v2M32.5 12v1M34.5 13v1M35.5 13v1M36.5 9v1M37.5 2v1M37.5 4v1M37.5 13v1M37.5 17v1M38.5 3v1M38.5 13v1M39.5 8v1M39.5 13v1M39.5 22v1M41.5 4v1M41.5 8v1M41.5 12v1M42.5 14v1M43.5 6v1M43.5 8v1M43.5 19v1M44.5 22v1M45.5 10v2M46.5 3v1M47.5 0v1M48.5 21v1M49.5 17v1M50.5 4v1M50.5 8v1M51.5 20v1M53.5 5v1M54.5 1v1M54.5 3v2M56.5 5v1M57.5 17v1M58.5 13v1M58.5 21v1M59.5 21v2M61.5 16v1M64.5 19v1M65.5 12v1M66.5 5v1M66.5 8v1M67.5 7v1M68.5 4v1M68.5 10v1M70.5 12v1M71.5 2v1M71.5 18v1M72.5 10v1M72.5 17v1M72.5 22v1M74.5 12v2M75.5 2v1M75.5 6v1M77.5 7v1M77.5 11v1M77.5 16v1M77.5 19v1M78.5 0v1M78.5 13v1M78.5 15v2M79.5 17v1M80.5 17v1M81.5 7v1M81.5 11v1M82.5 17v1M83.5 1v1M83.5 7v1M83.5 12v1M84.5 1v1M86.5 11v1M87.5 2v2M87.5 20v1M88.5 2v2M89.5 6v1M89.5 15v1M89.5 17v1M89.5 20v1M91.5 22v1M93.5 11v2M96.5 17v1M96.5 21v1M97.5 16v1M97.5 19v1M98.5 6v1M98.5 21v1M100.5 3v1M101.5 16v1M101.5 20v1M102.5 2v1M102.5 16v1M102.5 18v1M102.5 22v1M103.5 8v1M104.5 2v1M105.5 10v1M106.5 12v1M109.5 22v1M111.5 0v1M111.5 14v1M112.5 13v1M121.5 4v1M133.5 8v1M138.5 4v1M144.5 2v1M152.5 7v1M153.5 6v1M153.5 8v1M155.5 3v1M156.5 4v1M157.5 15v1M158.5 2v1M160.5 1v1M160.5 4v1M164.5 0v1M164.5 2v2M164.5 6v2M165.5 0v1M166.5 4v1M167.5 0v1M168.5 2v1M169.5 6v1M171.5 3v1M173.5 8v1M175.5 5v1M175.5 8v1M176.5 9v1M178.5 4v1M181.5 15v1M181.5 18v1M182.5 9v1M183.5 15v1M184.5 3v1M185.5 2v1M185.5 5v1M185.5 10v1M186.5 4v1M187.5 1v2M187.5 14v1M189.5 2v1M189.5 8v1M190.5 1v1M191.5 4v1M191.5 6v1M195.5 4v1M196.5 3v1M196.5 6v1M196.5 10v1M197.5 3v1M197.5 16v1M198.5 12v1M198.5 14v1M198.5 18v1M199.5 10v1M199.5 18v1M200.5 17v1M201.5 16v1M203.5 9v2M203.5 15v1M203.5 18v1M204.5 14v3M207.5 5v1M207.5 9v3M207.5 21v1M208.5 11v1M210.5 19v1M211.5 4v1M214.5 10v1M215.5 7v1M215.5 9v1M216.5 8v2M220.5 6v1M220.5 11v1M221.5 19v1M222.5 15v1M223.5 10v2M223.5 16v1M225.5 16v1M226.5 4v1M226.5 10v1M226.5 15v1M227.5 8v2M227.5 11v1M228.5 9v1M229.5 11v1M230.5 8v1M230.5 10v1M231.5 3v1M231.5 7v1M231.5 21v1M232.5 17v1M233.5 6v1M233.5 17v1M234.5 12v1M234.5 16v1M235.5 11v2M235.5 20v1M236.5 8v1M236.5 10v1M238.5 10v1M238.5 15v1M238.5 17v1M238.5 22v1M239.5 20v1M240.5 19v1M241.5 3v1M242.5 15v1M243.5 20v1M246.5 6v2M247.5 13v2M247.5 17v2M248.5 6v1M248.5 15v1M249.5 8v1M250.5 1v1M252.5 7v1M252.5 16v1M252.5 18v1M254.5 7v1M254.5 14v1M255.5 20v1M256.5 16v1M256.5 19v1"/>
<path stroke="#d2d8d8" d="M0.5 9v1M0.5 14v1M1.5 12v1M8.5 11v1M11.5 20v1M12.5 16v1M13.5 22v1M16.5 17v1M18.5 15v1M19.5 15v1M23.5 16v1M30.5 11v1M31.5 17v1M33.5 12v1M44.5 10v1M47.5 10v1M50.5 19v1M70.5 17v1M75.5 15v1M77.5 20v1M78.5 7v1M79.5 11v1M83.5 21v1M100.5 4v1M192.5 14v2M221.5 15v1M253.5 10v1"/>
<path stroke="#e4e4ea" d="M0.5 10v1M9.5 17v1M10.5 8v1M12.5 8v1M17.5 10v1M21.5 9v1M22.5 18v1M39.5 14v1M197.5 4v1"/>
<path stroke="#f0f0f6" d="M0.5 12v1M14.5 12v1M32.5 21v1M56.5 17v1M157.5 4v1M210.5 15v1M227.5 21v1M254.5 15v1"/>
<path stroke="#d8d8de" d="M0.5 13v1M3.5 11v1M4.5 20v1M8.5 20v1M11.5 12v1M14.5 21v1M19.5 14v1M25.5 17v1M33.5 21v1M44.5 15v1M82.5 10v1M177.5 4v1"/>
<path stroke="#c6cccc" d="M0.5 15v1M0.5 17v2M2.5 11v1M5.5 11v1M7.5 9v1M9.5 12v1M10.5 9v1M12.5 21v1M13.5 10v1M17.5 18v1M22.5 15v1M23.5 11v1M24.5 17v1M24.5 20v1M31.5 10v1M37.5 20v1M39.5 17v1M46.5 11v1M46.5 19v1M53.5 9v1M54.5 16v1M55.5 16v1M58.5 15v1M62.5 10v1M69.5 21v1M70.5 15v1M81.5 10v1M85.5 15v1M95.5 9v1M97.5 11v1"/>
<path stroke="#fcf0f0" d="M0.5 16v1M2.5 13v1M4.5 7v1M5.5 20v1M6.5 21v1M7.5 21v1M8.5 10v1M8.5 16v1M9.5 5v1M13.5 4v1M15.5 16v1M16.5 20v1M18.5 12v1M18.5 14v1M18.5 17v1M21.5 14v1M23.5 12v1M23.5 18v1M24.5 19v1M25.5 22v1M26.5 19v1M28.5 13v1M28.5 19v1M31.5 5v1M31.5 20v1M32.5 6v1M33.5 18v1M38.5 19v1M43.5 17v1M43.5 21v1M44.5 11v1M49.5 10v1M51.5 21v1M52.5 5v1M52.5 12v1M53.5 22v1M54.5 9v1M54.5 18v1M55.5 7v1M56.5 7v1M57.5 10v1M58.5 5v1M62.5 4v1M62.5 21v1M64.5 9v2M64.5 12v1M66.5 18v1M68.5 3v1M71.5 13v1M76.5 1v1M76.5 14v1M76.5 17v1M78.5 2v1M79.5 3v1M79.5 21v1M80.5 11v1M85.5 9v1M86.5 7v1M86.5 15v1M86.5 17v1M88.5 9v1M89.5 1v1M90.5 1v1M91.5 0v1M91.5 6v2M94.5 3v1M95.5 21v1M96.5 22v1M97.5 2v1M97.5 4v1M99.5 16v1M100.5 6v1M104.5 4v1M107.5 19v1M112.5 5v1M153.5 3v1M161.5 4v1M164.5 8v1M169.5 10v1M189.5 1v1M190.5 8v1M192.5 4v1M192.5 19v1M199.5 16v1M207.5 4v1M208.5 8v1M221.5 10v1M221.5 17v1M227.5 14v1M229.5 6v1M229.5 17v1M230.5 4v1M231.5 15v1M233.5 10v1M233.5 16v1M234.5 4v1M234.5 18v1M238.5 14v1M249.5 20v1M249.5 22v1M253.5 7v1M253.5 11v1M254.5 22v1"/>
<path stroke="#ccccd2" d="M0.5 19v1M11.5 21v1M33.5 11v1M34.5 14v1M37.5 9v1M47.5 6v1M74.5 9v1"/>
<path stroke="#aeb4b4" d="M0.5 20v1M8.5 14v1M12.5 10v1M28.5 9v1"/>
<path stroke="#eaf0f0" d="M0.5 22v1M6.5 9v1M11.5 17v1M17.5 5v1M18.5 9v1M32.5 19v1M46.5 10v1M62.5 11v1M65.5 15v1M70.5 20v1M76.5 9v1M96.5 11v1M155.5 7v1"/>
<path stroke="#eacccc" d="M1.5 0v1M2.5 0v2M2.5 4v1M2.5 12v1M3.5 2v1M3.5 5v1M7.5 0v1M10.5 1v1M10.5 4v1M11.5 1v1M15.5 12v1M17.5 8v1M18.5 8v1M20.5 6v1M20.5 19v1M21.5 13v1M23.5 1v1M26.5 5v1M29.5 13v1M31.5 1v1M32.5 2v1M32.5 5v1M34.5 12v1M36.5 7v1M37.5 12v1M38.5 8v1M38.5 22v1M39.5 12v1M42.5 7v1M43.5 11v2M45.5 9v1M45.5 17v2M46.5 8v1M49.5 5v1M50.5 6v2M52.5 18v1M52.5 22v1M55.5 1v1M55.5 5v1M55.5 11v1M55.5 18v1M55.5 21v1M56.5 13v2M56.5 19v1M57.5 15v1M58.5 3v1M58.5 12v1M59.5 2v1M59.5 19v1M60.5 18v1M61.5 3v1M63.5 10v1M63.5 21v1M64.5 2v1M64.5 17v1M64.5 22v1M65.5 10v1M66.5 1v1M67.5 20v1M68.5 13v1M69.5 4v1M69.5 10v1M71.5 19v1M72.5 6v1M72.5 13v1M75.5 16v1M75.5 19v1M75.5 22v1M76.5 19v1M77.5 13v1M78.5 9v1M79.5 18v1M80.5 10v1M81.5 19v1M82.5 1v1M82.5 20v1M82.5 22v1M83.5 0v1M83.5 20v1M84.5 2v1M84.5 18v1M84.5 22v1M85.5 19v1M86.5 4v1M88.5 12v1M90.5 5v1M90.5 19v1M91.5 5v1M91.5 9v1M91.5 13v1M92.5 3v1M92.5 14v1M93.5 4v1M93.5 18v1M94.5 0v1M94.5 2v1M94.5 4v1M94.5 7v1M94.5 10v1M94.5 15v1M95.5 20v1M95.5 22v1M97.5 7v1M97.5 12v1M97.5 14v1M97.5 18v1M97.5 21v1M98.5 1v1M99.5 2v1M99.5 10v1M102.5 4v1M102.5 17v1M103.5 4v1M103.5 14v2M105.5 4v1M105.5 18v1M105.5 22v1M106.5 18v1M108.5 12v1M109.5 1v1M109.5 5v1M109.5 12v1M109.5 16v1M110.5 6v1M110.5 10v2M110.5 21v1M111.5 9v1M111.5 19v1M112.5 12v1M112.5 17v1M112.5 19v1M122.5 3v1M126.5 4v1M128.5 2v1M130.5 4v1M136.5 6v1M143.5 4v1M149.5 6v1M150.5 5v1M152.5 2v1M152.5 6v1M153.5 0v1M159.5 20v1M160.5 19v1M161.5 8v1M163.5 0v1M163.5 3v1M163.5 18v1M165.5 1v1M166.5 5v1M168.5 0v1M170.5 1v1M171.5 15v1M171.5 22v1M172.5 14v1M173.5 20v1M174.5 15v1M175.5 4v1M176.5 2v1M176.5 8v1M176.5 14v1M179.5 5v1M182.5 1v2M182.5 16v1M184.5 4v1M185.5 20v1M186.5 11v1M187.5 4v1M187.5 11v1M188.5 2v1M188.5 8v1M188.5 20v1M189.5 3v1M190.5 5v1M192.5 1v1M192.5 8v1M194.5 9v1M194.5 17v1M195.5 21v1M198.5 3v1M198.5 6v1M199.5 2v1M200.5 7v1M200.5 9v2M201.5 6v1M202.5 9v1M203.5 6v1M208.5 13v1M208.5 20v1M209.5 9v1M211.5 3v1M213.5 4v1M213.5 10v1M213.5 17v1M213.5 19v1M214.5 21v1M217.5 6v1M218.5 11v1M220.5 19v1M220.5 21v1M227.5 17v1M228.5 15v1M229.5 10v1M230.5 7v1M230.5 21v1M232.5 3v1M233.5 4v1M235.5 16v1M235.5 19v1M235.5 21v1M236.5 2v1M236.5 22v1M237.5 18v1M238.5 1v1M238.5 16v1M238.5 21v1M239.5 8v1M239.5 10v1M240.5 11v1M241.5 4v1M242.5 20v1M243.5 0v1M243.5 2v2M243.5 8v1M243.5 18v1M245.5 14v1M246.5 8v2M246.5 21v1M247.5 0v1M247.5 6v1M247.5 20v1M247.5 22v1M248.5 3v1M248.5 7v1M249.5 0v1M249.5 12v1M249.5 21v1M250.5 18v1M251.5 3v1M251.5 20v1M253.5 12v1M253.5 20v1M254.5 2v1M254.5 16v1M254.5 20v1M255.5 2v1M256.5 11v1M257.5 17v1"/>
<path stroke="#f0f6f6" d="M1.5 2v1M5.5 5v1M10.5 13v1M10.5 20v1M13.5 13v1M20.5 15v1M21.5 7v1M28.5 4v1M38.5 20v1M41.5 6v1M49.5 20v1M62.5 9v1M67.5 6v1M78.5 20v1M93.5 15v1M107.5 2v1M167.5 4v1M199.5 6v1M205.5 15v1M223.5 20v1M231.5 4v1M252.5 15v1"/>
<path stroke="#e4eaea" d="M1.5 3v1M4.5 5v1M5.5 16v1M6.5 16v1M7.5 18v1M11.5 22v1M12.5 11v1M13.5 8v1M14.5 22v1M27.5 20v1M28.5 5v1M28.5 10v1M30.5 19v1M40.5 11v1M44.5 7v1M54.5 11v1M57.5 14v1M62.5 19v1M66.5 11v1M68.5 20v1M76.5 12v1M93.5 9v1M95.5 2v1M110.5 18v1M160.5 2v1M201.5 4v1M249.5 7v1"/>
<path stroke="#eaeaea" d="M1.5 4v1M1.5 9v1M3.5 12v1M9.5 19v1M11.5 6v1M15.5 20v1M16.5 19v1M18.5 11v1M24.5 5v1M25.5 8v1M26.5 16v1M27.5 21v1M28.5 20v1M30.5 7v1M33.5 19v1M40.5 17v1M41.5 13v1M43.5 15v1M44.5 17v1M52.5 4v1M57.5 9v1M60.5 20v1M64.5 15v1M66.5 9v1M70.5 19v1M78.5 6v1M81.5 3v1M85.5 7v1M88.5 8v1M89.5 2v1M91.5 8v1M92.5 19v1M96.5 5v1M96.5 15v1M97.5 3v1M104.5 7v1M161.5 6v1M163.5 7v1M197.5 5v1M198.5 5v1M202.5 4v1M249.5 3v1M254.5 10v1"/>
<path stroke="#f0dede" d="M1.5 5v1M3.5 22v1M6.5 2v1M7.5 3v1M9.5 3v1M12.5 5v1M14.5 6v1M14.5 11v1M14.5 18v1M15.5 13v1M16.5 6v1M16.5 10v1M16.5 21v1M17.5 6v1M17.5 11v1M18.5 19v1M22.5 8v1M22.5 13v1M23.5 8v1M24.5 6v1M24.5 11v1M25.5 3v1M25.5 13v1M28.5 2v1M28.5 22v1M29.5 20v1M30.5 10v1M30.5 12v2M31.5 18v1M35.5 19v1M36.5 21v2M38.5 4v1M40.5 1v1M40.5 7v1M40.5 19v1M41.5 5v1M42.5 12v1M42.5 18v1M44.5 5v1M45.5 7v1M45.5 13v1M47.5 5v1M48.5 4v1M48.5 13v1M48.5 16v2M49.5 18v1M50.5 17v1M52.5 7v1M52.5 19v1M53.5 3v2M54.5 20v1M55.5 12v1M55.5 22v1M59.5 6v1M59.5 9v1M60.5 3v2M61.5 2v1M61.5 14v1M61.5 19v1M62.5 5v1M63.5 14v1M63.5 16v1M64.5 5v1M64.5 13v1M64.5 21v1M65.5 18v1M68.5 14v1M68.5 18v1M69.5 7v1M70.5 4v1M70.5 6v1M70.5 13v1M72.5 9v1M72.5 18v1M74.5 19v1M75.5 14v1M76.5 2v1M76.5 5v1M77.5 6v1M78.5 8v1M78.5 19v1M79.5 5v2M79.5 16v1M80.5 22v1M81.5 9v1M82.5 18v1M83.5 4v1M83.5 9v1M84.5 5v1M84.5 8v1M85.5 0v1M85.5 11v1M86.5 20v1M87.5 8v1M89.5 7v1M89.5 14v1M90.5 3v1M92.5 2v1M92.5 4v1M92.5 17v1M92.5 20v1M94.5 8v1M94.5 20v1M95.5 13v1M96.5 12v1M97.5 5v2M97.5 8v1M98.5 10v1M98.5 17v1M100.5 17v2M101.5 5v1M102.5 14v1M104.5 11v1M106.5 8v1M106.5 20v1M107.5 5v1M107.5 9v2M107.5 15v1M108.5 17v1M109.5 0v1M109.5 8v2M109.5 19v1M110.5 3v1M111.5 1v1M111.5 6v1M112.5 20v1M113.5 20v1M127.5 3v1M129.5 1v1M129.5 4v1M140.5 7v1M153.5 20v1M154.5 8v1M158.5 3v1M162.5 5v1M165.5 2v1M168.5 4v1M169.5 3v1M171.5 5v1M176.5 7v1M176.5 10v1M176.5 15v1M176.5 18v1M177.5 2v1M179.5 2v2M180.5 1v2M182.5 8v1M184.5 8v1M185.5 4v1M187.5 3v1M187.5 9v1M188.5 1v1M188.5 3v1M192.5 7v1M194.5 8v1M196.5 16v1M196.5 18v1M198.5 15v1M198.5 22v1M199.5 4v1M199.5 8v2M200.5 15v1M201.5 9v1M202.5 5v1M202.5 7v1M202.5 14v2M202.5 18v1M203.5 3v1M203.5 14v1M204.5 18v1M205.5 17v1M207.5 19v1M210.5 7v1M210.5 10v1M211.5 17v1M213.5 20v1M215.5 4v1M216.5 21v1M217.5 4v1M219.5 6v3M219.5 11v1M219.5 19v2M221.5 9v1M223.5 2v1M223.5 17v1M223.5 19v1M224.5 10v1M225.5 2v1M227.5 5v1M228.5 6v1M229.5 4v1M229.5 7v1M229.5 18v2M232.5 11v1M232.5 18v1M233.5 7v1M234.5 2v1M234.5 11v1M235.5 6v1M236.5 7v1M236.5 9v1M236.5 15v1M237.5 10v1M239.5 2v1M240.5 9v1M241.5 21v1M242.5 4v1M244.5 3v1M244.5 7v1M246.5 1v1M246.5 14v1M246.5 17v1M246.5 22v1M248.5 16v1M249.5 2v1M250.5 10v1M250.5 15v1M252.5 3v1M253.5 2v1M253.5 8v1M255.5 7v1M255.5 17v1"/>
<path stroke="#b4baba" d="M1.5 10v1M4.5 6v1M8.5 9v1M10.5 6v1M21.5 20v1M29.5 15v1M52.5 11v1"/>
<path stroke="#dedede" d="M1.5 11v1M4.5 8v1M5.5 19v1M10.5 18v1M16.5 14v1M32.5 17v1M42.5 10v2M42.5 19v1M46.5 18v1M47.5 8v1M52.5 15v1M57.5 21v1M58.5 11v1M74.5 7v1M88.5 15v1M107.5 14v1M197.5 15v1"/>
<path stroke="#dee4e4" d="M1.5 13v1M1.5 17v1M4.5 2v1M9.5 9v1M10.5 10v1M10.5 21v1M11.5 7v1M11.5 15v1M12.5 22v1M14.5 16v1M19.5 19v1M24.5 21v1M27.5 11v1M27.5 14v1M27.5 19v1M29.5 10v1M32.5 7v1M40.5 5v1M41.5 19v1M46.5 17v1M47.5 18v1M53.5 11v1M56.5 15v1M62.5 6v1M62.5 15v1M64.5 16v1M113.5 6v1M227.5 4v1M253.5 3v1"/>
<path stroke="#ccd2d2" d="M1.5 14v1M1.5 18v1M2.5 10v1M3.5 15v1M4.5 13v1M4.5 17v1M4.5 19v1M6.5 10v1M9.5 11v1M12.5 7v1M12.5 13v1M12.5 17v1M13.5 17v1M21.5 17v1M23.5 19v1M26.5 10v1M28.5 18v1M31.5 14v1M35.5 15v1M40.5 9v1M41.5 15v1M52.5 20v1M62.5 14v1M78.5 3v1M78.5 17v1M100.5 15v1M153.5 4v1M197.5 7v1"/>
<path stroke="#96a2a2" d="M1.5 15v2M4.5 18v1M12.5 20v1M24.5 18v1"/>
<path stroke="#c0c6cc" d="M1.5 20v1M4.5 3v1M4.5 16v1M4.5 22v1M5.5 6v1M5.5 10v1M23.5 7v1M29.5 11v1M199.5 15v1"/>
<path stroke="#f6fcfc" d="M1.5 22v1M2.5 22v1M14.5 15v1M18.5 20v1M29.5 21v1M53.5 16v1M77.5 18v1M108.5 15v1M174.5 3v1M208.5 4v1M216.5 15v1"/>
<path stroke="#e4b4ba" d="M2.5 2v1M29.5 0v1M48.5 11v1M52.5 0v1M59.5 13v1M61.5 12v1M65.5 17v1M106.5 5v1M113.5 17v1M130.5 7v1M152.5 1v1M160.5 17v1M164.5 19v1M171.5 14v1M177.5 8v1M188.5 9v1M203.5 2v1M214.5 12v1M221.5 21v1M222.5 3v2M223.5 8v1M232.5 8v1M232.5 16v1M235.5 10v1M243.5 9v1M244.5 1v1M248.5 18v1"/>
<path stroke="#f6f6f6" d="M2.5 6v1M2.5 14v2M3.5 20v1M6.5 22v1M8.5 22v1M9.5 4v1M9.5 13v1M11.5 8v1M13.5 16v1M15.5 22v1M16.5 15v1M18.5 13v1M20.5 20v1M22.5 6v1M22.5 19v1M23.5 10v1M23.5 15v1M23.5 17v1M24.5 4v1M28.5 16v1M30.5 15v1M39.5 6v1M39.5 15v1M41.5 7v1M41.5 16v1M44.5 14v1M46.5 14v1M46.5 21v1M49.5 9v1M49.5 16v1M50.5 11v1M53.5 18v1M55.5 4v1M58.5 6v1M60.5 7v1M62.5 3v1M67.5 19v1M68.5 9v1M69.5 17v1M70.5 8v1M70.5 11v1M70.5 18v1M71.5 6v1M71.5 15v1M74.5 14v1M78.5 14v1M81.5 0v1M83.5 8v1M85.5 2v1M86.5 14v1M89.5 10v1M91.5 10v1M95.5 4v1M96.5 3v1M96.5 8v1M100.5 10v2M101.5 7v1M110.5 7v1M155.5 1v1M157.5 5v1M167.5 3v1M170.5 7v1M176.5 4v1M179.5 10v1M207.5 6v1M208.5 7v1M226.5 7v1M249.5 6v1M252.5 11v1M252.5 20v1"/>
<path stroke="#eac6c6" d="M2.5 8v1M7.5 4v1M13.5 1v1M14.5 3v1M14.5 19v1M15.5 2v1M15.5 17v1M16.5 2v1M17.5 2v1M20.5 7v1M25.5 1v1M26.5 6v1M26.5 13v1M27.5 3v1M27.5 7v1M27.5 22v1M30.5 8v1M31.5 2v2M32.5 1v1M33.5 4v1M35.5 2v1M35.5 4v1M36.5 18v1M37.5 1v1M39.5 16v1M41.5 1v2M42.5 8v1M43.5 18v1M44.5 4v1M44.5 19v1M48.5 1v1M48.5 6v1M48.5 12v1M49.5 4v1M51.5 14v1M52.5 3v1M53.5 10v1M56.5 1v1M56.5 3v1M56.5 6v1M56.5 12v1M57.5 5v1M60.5 5v1M60.5 16v1M60.5 21v1M63.5 9v1M63.5 19v1M66.5 13v1M66.5 22v1M67.5 2v1M67.5 11v1M68.5 19v1M70.5 1v1M70.5 21v1M71.5 0v1M71.5 22v1M72.5 5v1M72.5 14v1M72.5 21v1M73.5 1v1M73.5 15v2M73.5 18v2M74.5 17v1M76.5 0v1M77.5 3v1M78.5 21v1M79.5 9v1M79.5 13v1M80.5 3v1M80.5 9v1M82.5 3v1M84.5 14v1M84.5 19v1M86.5 5v1M86.5 8v2M87.5 4v1M87.5 11v1M88.5 13v2M91.5 11v1M91.5 16v1M93.5 2v1M94.5 17v2M95.5 12v1M96.5 10v1M97.5 17v1M98.5 9v1M98.5 20v1M99.5 4v1M99.5 7v1M99.5 9v1M99.5 11v1M99.5 20v1M100.5 1v1M102.5 8v1M103.5 9v1M103.5 17v1M104.5 3v1M104.5 5v1M104.5 8v1M104.5 10v1M104.5 17v1M106.5 19v1M107.5 16v1M108.5 1v1M108.5 10v1M108.5 20v2M109.5 4v1M109.5 7v1M109.5 13v1M109.5 15v1M111.5 16v1M112.5 6v1M112.5 8v1M112.5 14v1M112.5 16v1M112.5 22v1M116.5 2v1M120.5 7v1M121.5 7v1M128.5 4v2M130.5 3v1M130.5 5v1M130.5 15v1M137.5 2v1M140.5 15v1M141.5 4v1M149.5 5v1M150.5 2v1M152.5 5v1M153.5 1v1M153.5 9v1M155.5 20v1M156.5 3v1M156.5 5v1M157.5 6v2M157.5 17v1M159.5 0v1M159.5 8v1M160.5 14v2M160.5 22v1M162.5 0v1M164.5 10v1M164.5 16v1M167.5 14v1M168.5 18v1M168.5 22v1M169.5 7v1M169.5 14v2M169.5 20v1M170.5 3v1M171.5 7v1M171.5 11v1M172.5 9v1M174.5 0v1M174.5 6v2M175.5 3v1M176.5 1v1M176.5 22v1M182.5 11v1M182.5 18v1M183.5 5v1M184.5 6v1M185.5 18v1M188.5 6v1M188.5 10v1M188.5 15v1M190.5 6v1M191.5 16v1M191.5 18v1M192.5 2v1M192.5 20v2M194.5 4v1M194.5 6v1M195.5 14v1M195.5 19v2M196.5 5v1M197.5 21v1M198.5 8v1M198.5 10v1M199.5 21v1M200.5 6v1M200.5 14v1M203.5 16v1M205.5 3v1M208.5 17v3M212.5 4v1M213.5 11v1M215.5 19v1M216.5 2v1M216.5 16v1M217.5 19v1M218.5 8v1M218.5 16v1M219.5 9v1M221.5 7v1M222.5 6v1M222.5 9v1M222.5 20v1M223.5 5v1M223.5 18v1M224.5 16v2M224.5 21v1M225.5 14v1M226.5 3v1M226.5 19v1M227.5 2v1M227.5 12v1M228.5 18v2M230.5 6v1M231.5 2v1M231.5 10v1M231.5 20v1M232.5 10v1M232.5 15v1M236.5 5v1M236.5 13v1M236.5 16v1M237.5 5v1M237.5 7v1M238.5 0v1M238.5 20v1M239.5 1v1M239.5 14v1M239.5 17v1M241.5 6v1M242.5 6v1M242.5 11v1M242.5 21v1M244.5 12v2M246.5 18v1M247.5 10v1M247.5 16v1M247.5 21v1M248.5 20v1M250.5 2v1M252.5 8v1M253.5 13v1M254.5 5v1M254.5 13v1M254.5 18v2M255.5 10v1M255.5 14v1M257.5 7v1"/>
<path stroke="#bac0c6" d="M2.5 9v1M3.5 18v1M9.5 22v1M11.5 14v1M21.5 16v1M29.5 7v1M38.5 18v1M45.5 14v1M76.5 15v1"/>
<path stroke="#e4e4e4" d="M2.5 18v1M5.5 21v1M8.5 17v1M10.5 16v2M10.5 19v1M13.5 18v1M13.5 20v1M18.5 18v1M19.5 9v1M26.5 14v2M27.5 6v1M31.5 9v1M31.5 16v1M34.5 17v1M53.5 17v1M66.5 15v1M69.5 11v1M76.5 22v1M83.5 6v1"/>
<path stroke="#c0c6c6" d="M2.5 20v1M3.5 14v1M4.5 12v1M5.5 12v1M5.5 17v1M7.5 14v1M9.5 10v1M11.5 9v1M19.5 10v1M22.5 11v1M38.5 14v2M46.5 20v1M47.5 15v1M192.5 10v1"/>
<path stroke="#f6f0f0" d="M3.5 0v1M3.5 6v1M5.5 4v1M5.5 22v1M6.5 4v1M8.5 19v1M8.5 21v1M9.5 6v1M16.5 8v1M17.5 13v1M19.5 22v1M22.5 12v1M24.5 16v1M25.5 19v1M28.5 8v1M28.5 12v1M29.5 22v1M30.5 21v1M35.5 8v1M36.5 15v1M37.5 6v1M38.5 17v1M43.5 7v1M47.5 22v1M49.5 19v1M51.5 15v1M53.5 7v1M53.5 12v1M57.5 3v1M59.5 17v1M60.5 9v1M62.5 8v1M65.5 14v1M66.5 19v1M67.5 14v1M71.5 10v1M71.5 21v1M73.5 4v1M74.5 16v1M74.5 22v1M75.5 4v1M76.5 11v1M81.5 13v1M81.5 15v1M81.5 22v1M83.5 15v1M84.5 4v1M84.5 6v1M84.5 11v1M85.5 8v1M91.5 20v1M95.5 17v1M96.5 20v1M98.5 3v1M100.5 9v1M101.5 2v1M102.5 3v1M106.5 3v1M107.5 20v1M108.5 3v1M109.5 2v1M111.5 11v1M113.5 1v1M154.5 6v1M158.5 6v1M169.5 4v1M181.5 20v1M182.5 4v1M192.5 11v1M192.5 13v1M195.5 12v1M199.5 11v1M212.5 8v1M213.5 7v1M217.5 3v1M219.5 15v1M222.5 10v1M231.5 11v1M231.5 17v1M232.5 14v1M236.5 18v1M242.5 5v1M246.5 2v1M247.5 4v2M249.5 1v1M253.5 14v1M257.5 3v1"/>
<path stroke="#d8dede" d="M3.5 9v1M5.5 7v1M5.5 9v1M7.5 22v1M12.5 1v1M14.5 9v1M17.5 4v1M21.5 19v1M25.5 5v1M25.5 10v1M31.5 11v1M33.5 10v1M33.5 13v1M35.5 18v1M37.5 22v1M40.5 15v1M42.5 15v1M43.5 9v1M44.5 9v1M46.5 7v1M47.5 19v1M52.5 10v1M62.5 20v1M68.5 11v1M74.5 20v1M75.5 9v1M81.5 8v1M83.5 14v1M218.5 7v1M223.5 4v1M234.5 7v1M252.5 10v1"/>
<path stroke="#9ca2a8" d="M3.5 17v1M12.5 15v1M28.5 14v1"/>
<path stroke="#eac0c0" d="M4.5 0v1M8.5 5v1M17.5 3v1M17.5 21v1M18.5 6v1M19.5 13v1M22.5 2v1M38.5 1v1M44.5 1v1M45.5 8v1M51.5 7v1M51.5 13v1M57.5 12v1M69.5 18v1M75.5 20v1M79.5 14v1M82.5 6v1M82.5 14v1M93.5 16v1M96.5 14v1M105.5 17v1M122.5 15v1M125.5 3v1M150.5 7v1M153.5 5v1M162.5 7v1M165.5 8v1M169.5 0v1M171.5 1v1M176.5 20v1M178.5 3v1M178.5 15v1M181.5 0v1M181.5 17v1M188.5 0v1M207.5 2v1M208.5 10v1M209.5 5v1M214.5 14v1M214.5 20v1M215.5 1v1M220.5 3v1M221.5 18v1M229.5 1v1M233.5 20v1M236.5 11v1M242.5 9v1M244.5 14v1M248.5 10v1M254.5 3v1"/>
<path stroke="#8a9696" d="M4.5 9v1M17.5 15v1"/>
<path stroke="#909ca2" d="M4.5 10v1"/>
<path stroke="#d8d8d8" d="M4.5 11v1M37.5 21v1M76.5 7v1M102.5 10v1"/>
<path stroke="#dedee4" d="M4.5 14v1M6.5 19v1M8.5 13v1M11.5 13v1M12.5 6v1M17.5 9v1M21.5 10v1M22.5 17v1M23.5 20v1M33.5 20v1M33.5 22v1M35.5 20v1M37.5 16v1M47.5 21v1M57.5 20v1M58.5 16v1M95.5 15v1M98.5 18v1M162.5 1v1"/>
<path stroke="#7e8a90" d="M4.5 15v1"/>
<path stroke="#f0f0f0" d="M4.5 21v1M5.5 18v1M6.5 14v1M8.5 15v1M9.5 8v1M10.5 7v1M10.5 22v1M12.5 19v1M16.5 9v1M16.5 16v1M17.5 22v1M24.5 7v1M27.5 16v1M28.5 17v1M30.5 16v1M31.5 19v1M32.5 18v1M33.5 16v1M34.5 10v1M38.5 9v1M40.5 16v1M42.5 17v1M47.5 16v1M54.5 10v1M55.5 19v1M58.5 4v1M58.5 9v1M70.5 7v1M74.5 15v1M76.5 16v1M79.5 15v1M83.5 11v1M84.5 9v1M85.5 12v1M90.5 7v1M91.5 15v1M95.5 8v1M96.5 7v1M102.5 5v1M108.5 7v1M155.5 2v1M182.5 3v1M192.5 18v1M202.5 10v1M241.5 15v1M249.5 10v1"/>
<path stroke="#e4baba" d="M5.5 0v1M12.5 3v1M13.5 3v1M15.5 5v1M18.5 2v1M18.5 5v1M18.5 22v1M21.5 4v1M26.5 3v1M30.5 4v1M31.5 7v1M34.5 0v1M36.5 17v1M36.5 19v1M38.5 6v1M39.5 2v1M40.5 3v2M45.5 2v1M45.5 12v1M45.5 19v1M49.5 3v1M49.5 6v1M49.5 13v2M50.5 5v1M54.5 8v1M58.5 0v1M60.5 0v2M60.5 19v1M61.5 17v2M61.5 22v1M63.5 2v1M63.5 6v2M64.5 1v1M65.5 13v1M65.5 16v1M67.5 8v1M68.5 5v1M68.5 7v1M68.5 17v1M69.5 2v1M69.5 8v1M71.5 9v1M72.5 4v1M73.5 3v1M73.5 13v1M73.5 22v1M76.5 13v1M77.5 5v1M78.5 12v1M79.5 0v1M80.5 1v1M81.5 2v1M83.5 5v1M86.5 2v1M86.5 10v1M86.5 16v1M87.5 21v1M88.5 17v1M89.5 0v1M89.5 12v1M90.5 4v1M93.5 14v1M93.5 19v1M94.5 11v2M94.5 21v1M95.5 0v1M95.5 11v1M98.5 4v1M99.5 3v1M99.5 5v1M99.5 18v1M101.5 13v1M103.5 1v1M104.5 0v1M106.5 13v1M106.5 17v1M107.5 1v1M107.5 4v1M107.5 12v1M108.5 0v1M111.5 21v2M112.5 10v1M113.5 5v1M113.5 11v1M115.5 3v1M115.5 8v1M116.5 10v1M128.5 6v1M129.5 6v1M130.5 2v1M130.5 9v1M131.5 6v1M132.5 6v1M133.5 4v1M133.5 6v1M135.5 4v1M136.5 9v1M137.5 8v1M139.5 2v1M140.5 2v1M141.5 13v1M143.5 8v1M144.5 6v1M149.5 2v1M151.5 3v1M156.5 9v1M157.5 14v1M159.5 6v1M159.5 10v1M160.5 9v1M160.5 11v1M161.5 2v1M161.5 7v1M162.5 10v1M162.5 15v1M165.5 5v1M166.5 6v1M167.5 2v1M168.5 1v1M168.5 9v1M171.5 2v1M171.5 10v1M171.5 12v1M173.5 6v1M173.5 10v1M173.5 17v1M174.5 8v1M177.5 7v1M177.5 9v1M178.5 8v2M179.5 9v1M180.5 14v1M181.5 7v1M181.5 9v1M181.5 12v1M182.5 19v1M182.5 21v1M183.5 7v1M183.5 22v1M184.5 1v1M185.5 8v1M185.5 14v1M187.5 0v1M187.5 5v1M189.5 18v1M190.5 10v1M194.5 2v1M195.5 13v1M196.5 12v1M196.5 17v1M196.5 21v1M197.5 13v1M199.5 12v1M201.5 10v1M201.5 22v1M203.5 17v1M204.5 20v1M205.5 8v1M205.5 16v1M206.5 8v1M206.5 10v1M207.5 12v1M209.5 6v1M209.5 15v1M211.5 11v1M211.5 19v1M212.5 2v2M212.5 7v1M212.5 20v1M213.5 8v1M213.5 18v1M214.5 6v1M214.5 8v1M214.5 18v1M215.5 3v1M216.5 4v1M216.5 18v1M217.5 1v1M217.5 9v1M217.5 18v1M218.5 13v1M218.5 19v2M219.5 4v1M219.5 14v1M219.5 21v1M220.5 5v1M220.5 10v1M221.5 1v1M221.5 16v1M222.5 7v1M222.5 11v1M222.5 16v2M224.5 2v1M224.5 6v1M224.5 8v1M225.5 11v2M225.5 18v1M226.5 8v1M226.5 18v1M227.5 0v2M227.5 13v1M227.5 18v1M228.5 3v1M228.5 21v1M229.5 20v1M230.5 2v2M231.5 1v1M232.5 2v1M233.5 3v1M234.5 17v1M234.5 19v1M235.5 8v1M236.5 3v1M236.5 17v1M237.5 13v1M237.5 20v2M238.5 4v2M239.5 4v1M239.5 12v1M240.5 4v1M240.5 7v1M241.5 2v1M241.5 9v1M241.5 18v1M246.5 16v1M247.5 12v1M251.5 17v1M252.5 12v1M254.5 1v1M255.5 18v1M256.5 9v1M257.5 2v1M257.5 5v1M257.5 14v1"/>
<path stroke="#deb4b4" d="M5.5 2v1M6.5 1v1M19.5 5v1M23.5 4v1M31.5 4v1M33.5 3v1M40.5 2v1M45.5 4v1M48.5 8v1M49.5 7v1M63.5 4v1M63.5 8v1M63.5 18v1M64.5 3v1M71.5 11v1M84.5 3v1M89.5 19v1M95.5 16v1M96.5 18v1M113.5 19v1M114.5 2v1M116.5 4v1M122.5 11v1M128.5 15v1M134.5 8v1M135.5 1v1M143.5 3v1M154.5 0v1M154.5 18v1M155.5 12v1M155.5 14v1M159.5 9v1M169.5 21v1M170.5 20v1M173.5 3v1M178.5 11v1M180.5 4v1M183.5 10v1M187.5 7v1M187.5 15v1M187.5 18v1M189.5 0v1M195.5 10v1M195.5 22v1M200.5 18v1M202.5 13v1M208.5 0v1M209.5 4v1M211.5 13v1M212.5 17v1M213.5 21v1M220.5 1v1M221.5 12v1M225.5 17v1M225.5 21v1M226.5 1v1M231.5 12v1M237.5 12v1M251.5 11v1M255.5 11v1"/>
<path stroke="#e4c0c0" d="M5.5 3v1M9.5 1v1M10.5 0v1M13.5 2v1M19.5 12v1M21.5 12v1M23.5 2v1M26.5 17v1M27.5 0v1M29.5 2v1M29.5 8v1M31.5 12v1M34.5 8v1M35.5 21v1M36.5 5v1M39.5 3v2M40.5 6v1M41.5 3v1M42.5 21v1M43.5 14v1M47.5 2v1M48.5 7v1M48.5 10v1M49.5 21v1M51.5 4v1M51.5 9v1M51.5 16v3M52.5 8v1M54.5 2v1M54.5 5v1M56.5 0v1M57.5 7v1M57.5 16v1M60.5 2v1M60.5 15v1M61.5 4v1M61.5 9v1M61.5 11v1M62.5 0v1M63.5 5v1M63.5 17v1M64.5 7v2M65.5 7v1M66.5 0v1M67.5 3v1M67.5 12v1M69.5 13v1M72.5 2v1M72.5 8v1M72.5 12v1M73.5 14v1M74.5 2v1M75.5 13v1M77.5 1v1M77.5 12v1M77.5 14v1M80.5 14v1M80.5 21v1M82.5 4v1M82.5 11v1M83.5 13v1M84.5 12v1M84.5 16v1M85.5 18v1M86.5 19v1M92.5 9v1M92.5 12v1M92.5 16v1M93.5 3v1M93.5 20v1M94.5 5v1M98.5 0v1M98.5 12v1M99.5 6v1M101.5 3v1M101.5 11v1M101.5 22v1M103.5 16v1M104.5 20v1M105.5 0v2M106.5 10v1M108.5 11v1M108.5 13v1M109.5 11v1M111.5 3v1M111.5 13v1M111.5 17v1M116.5 1v1M122.5 7v1M123.5 4v1M129.5 2v1M129.5 8v1M132.5 4v1M136.5 3v1M138.5 1v1M139.5 7v1M140.5 3v1M140.5 6v1M141.5 5v1M145.5 4v1M146.5 5v2M149.5 3v2M149.5 7v1M149.5 9v1M153.5 18v1M154.5 11v1M155.5 17v1M156.5 0v1M156.5 7v2M156.5 14v1M157.5 20v1M159.5 2v1M160.5 20v1M161.5 3v1M162.5 8v1M164.5 15v1M165.5 7v1M165.5 20v1M167.5 15v1M168.5 6v1M171.5 17v1M176.5 0v1M176.5 12v1M177.5 6v1M179.5 11v1M180.5 9v1M181.5 1v1M181.5 3v1M182.5 6v2M183.5 19v1M186.5 3v1M186.5 6v3M186.5 13v1M188.5 13v1M190.5 3v1M190.5 14v1M192.5 12v1M193.5 7v1M194.5 7v1M194.5 10v1M194.5 13v1M195.5 7v1M195.5 17v1M197.5 1v1M198.5 11v1M199.5 13v1M200.5 11v1M200.5 20v1M201.5 5v1M202.5 20v1M202.5 22v1M203.5 4v1M203.5 7v1M203.5 11v1M204.5 13v1M205.5 4v1M205.5 11v1M206.5 15v2M207.5 22v1M208.5 5v1M209.5 7v1M209.5 14v1M209.5 20v1M210.5 6v1M214.5 3v1M215.5 8v1M215.5 22v1M216.5 6v1M218.5 10v1M219.5 2v1M219.5 5v1M220.5 7v1M220.5 17v1M221.5 5v2M222.5 8v1M222.5 19v1M224.5 5v1M224.5 22v1M225.5 3v1M225.5 9v1M225.5 20v1M226.5 5v1M226.5 17v1M229.5 12v1M229.5 22v1M230.5 11v1M232.5 21v1M233.5 22v1M234.5 10v1M234.5 22v1M235.5 14v1M236.5 19v1M237.5 8v1M238.5 3v1M239.5 13v1M239.5 18v1M240.5 20v1M241.5 1v1M241.5 5v1M241.5 11v1M241.5 14v1M243.5 6v1M243.5 15v1M243.5 22v1M244.5 6v1M244.5 16v1M244.5 22v1M245.5 20v1M246.5 5v1M247.5 2v1M248.5 2v1M248.5 12v1M250.5 4v1M251.5 4v1M251.5 6v1M252.5 1v1M252.5 5v1M253.5 0v1M254.5 17v1M255.5 4v1M256.5 6v2M257.5 15v2"/>
<path stroke="#f6e4e4" d="M5.5 8v1M5.5 13v1M6.5 5v1M6.5 13v1M9.5 7v1M9.5 14v1M11.5 2v1M13.5 12v1M13.5 14v1M14.5 20v1M15.5 9v1M15.5 11v1M16.5 22v1M17.5 7v1M17.5 16v1M19.5 18v1M19.5 21v1M20.5 11v1M22.5 22v1M24.5 13v1M25.5 4v1M25.5 16v1M26.5 11v1M26.5 20v1M27.5 9v1M29.5 3v1M29.5 5v1M30.5 6v1M30.5 9v1M31.5 22v1M32.5 13v1M33.5 5v1M34.5 7v1M34.5 19v1M35.5 3v1M35.5 22v1M36.5 14v1M37.5 3v1M37.5 5v1M39.5 7v1M39.5 11v1M39.5 20v2M42.5 22v1M44.5 13v1M45.5 20v1M48.5 14v1M49.5 8v1M50.5 9v1M50.5 15v1M52.5 17v1M53.5 0v1M54.5 0v1M54.5 6v1M55.5 10v1M56.5 2v1M56.5 9v1M57.5 6v1M57.5 11v1M58.5 20v1M59.5 3v1M59.5 7v1M59.5 18v1M61.5 15v1M61.5 20v1M63.5 15v1M63.5 20v1M65.5 20v1M66.5 3v1M66.5 6v1M66.5 10v1M66.5 14v1M67.5 18v1M68.5 8v1M68.5 16v1M69.5 14v2M70.5 3v1M71.5 16v1M71.5 20v1M72.5 7v1M73.5 20v1M74.5 21v1M75.5 8v1M75.5 18v1M75.5 21v1M76.5 21v1M77.5 9v1M78.5 4v1M78.5 22v1M79.5 7v1M80.5 6v1M81.5 12v1M81.5 18v1M82.5 8v1M83.5 18v1M84.5 15v1M84.5 20v1M87.5 1v1M88.5 4v1M89.5 9v1M90.5 8v2M90.5 20v1M92.5 8v1M95.5 10v1M95.5 14v1M95.5 18v1M96.5 9v1M96.5 19v1M97.5 0v2M97.5 10v1M98.5 11v1M101.5 4v1M102.5 6v1M103.5 5v1M105.5 20v1M106.5 1v1M106.5 4v1M106.5 11v1M106.5 14v1M106.5 16v1M107.5 8v1M107.5 11v1M110.5 17v1M111.5 20v1M112.5 4v1M112.5 7v1M113.5 15v1M119.5 4v1M121.5 6v1M128.5 3v1M128.5 7v1M129.5 3v1M137.5 3v1M139.5 4v1M153.5 11v1M155.5 9v1M155.5 15v1M163.5 4v1M165.5 3v1M168.5 15v1M169.5 2v1M171.5 6v1M171.5 8v1M173.5 0v1M173.5 2v1M175.5 7v1M176.5 6v1M180.5 8v1M181.5 4v1M185.5 16v1M191.5 7v1M193.5 6v1M194.5 11v1M195.5 6v1M195.5 11v1M195.5 16v1M197.5 11v1M197.5 17v1M198.5 9v1M199.5 3v1M200.5 2v1M200.5 4v1M201.5 14v1M202.5 2v1M202.5 6v1M207.5 8v1M207.5 16v1M207.5 18v1M209.5 11v1M210.5 20v1M211.5 10v1M212.5 9v1M214.5 5v1M214.5 15v1M214.5 17v1M215.5 15v1M218.5 15v1M219.5 18v1M220.5 4v1M224.5 9v1M224.5 19v2M227.5 6v2M227.5 22v1M230.5 5v1M230.5 20v1M231.5 9v1M232.5 6v1M232.5 20v1M233.5 11v1M233.5 18v1M234.5 3v1M235.5 5v1M238.5 9v1M239.5 6v1M241.5 20v1M244.5 15v1M246.5 10v1M246.5 13v1M246.5 15v1M247.5 9v1M249.5 5v1M249.5 11v1M249.5 13v1M250.5 9v1M252.5 9v1M252.5 21v2M253.5 16v1M253.5 21v1M255.5 9v1"/>
<path stroke="#909c9c" d="M5.5 14v1M33.5 15v1M37.5 10v1"/>
<path stroke="#9ca8a8" d="M5.5 15v1M7.5 15v1M7.5 17v1M13.5 21v1M53.5 15v1"/>
<path stroke="#d8969c" d="M6.5 0v1M19.5 2v1M59.5 0v1M65.5 11v1M172.5 5v1M206.5 19v1M220.5 22v1M223.5 0v1M232.5 22v1M245.5 13v1M257.5 8v1"/>
<path stroke="#ead2d2" d="M6.5 3v1M16.5 12v1M19.5 6v1M40.5 21v1M43.5 4v1M47.5 1v1M47.5 4v1M48.5 3v1M48.5 9v1M50.5 12v1M50.5 20v1M51.5 10v1M52.5 2v1M52.5 13v1M53.5 13v1M54.5 17v1M59.5 16v1M62.5 22v1M66.5 16v1M67.5 16v1M69.5 9v1M69.5 16v1M69.5 22v1M70.5 0v1M73.5 17v1M78.5 11v1M79.5 4v1M79.5 20v1M79.5 22v1M81.5 16v1M83.5 3v1M85.5 14v1M89.5 22v1M90.5 22v1M100.5 8v1M103.5 11v1M107.5 18v1M113.5 0v1M131.5 4v1M152.5 4v1M153.5 10v1M154.5 3v1M154.5 7v1M156.5 1v1M166.5 3v1M167.5 1v1M168.5 16v1M171.5 4v1M175.5 6v1M179.5 1v1M179.5 14v1M180.5 7v1M181.5 6v1M181.5 22v1M184.5 5v1M185.5 6v1M185.5 11v1M186.5 1v1M196.5 8v1M197.5 8v1M198.5 19v1M199.5 17v1M201.5 21v1M204.5 17v1M209.5 16v1M211.5 9v1M212.5 6v1M213.5 15v1M217.5 7v1M217.5 10v1M218.5 21v1M223.5 6v1M224.5 11v1M226.5 11v1M235.5 15v1M242.5 14v1M252.5 4v1M253.5 5v1"/>
<path stroke="#f6dede" d="M6.5 7v1M26.5 22v1M35.5 16v1M47.5 12v1M57.5 13v1M59.5 10v1M69.5 6v1M75.5 10v1M102.5 9v1M108.5 9v1M140.5 4v1M200.5 22v1M216.5 10v1M223.5 15v1M235.5 7v1M236.5 6v1M247.5 11v1"/>
<path stroke="#a8aeb4" d="M6.5 11v1M33.5 14v1"/>
<path stroke="#c6c6cc" d="M6.5 15v1M10.5 11v1"/>
<path stroke="#d2d2d8" d="M6.5 17v1M12.5 18v1M25.5 20v1M32.5 20v1M35.5 9v1M78.5 18v1M88.5 6v1M106.5 7v1M192.5 3v1M252.5 2v1"/>
<path stroke="#e4b4b4" d="M7.5 1v1M8.5 2v1M9.5 2v1M15.5 8v1M17.5 1v1M20.5 0v2M20.5 17v1M22.5 3v1M24.5 1v2M26.5 8v1M27.5 1v1M33.5 1v1M36.5 8v1M38.5 2v1M42.5 3v1M43.5 5v1M44.5 18v1M48.5 2v1M49.5 2v1M51.5 11v1M51.5 19v1M52.5 1v1M53.5 21v1M56.5 8v1M60.5 13v1M61.5 21v1M63.5 22v1M67.5 0v1M69.5 12v1M72.5 0v1M79.5 10v1M80.5 20v1M82.5 13v1M86.5 18v1M87.5 18v1M89.5 16v1M92.5 0v1M92.5 13v1M92.5 18v1M93.5 1v1M98.5 22v1M99.5 1v1M99.5 8v1M99.5 15v1M99.5 22v1M100.5 22v1M101.5 21v1M102.5 1v1M105.5 8v1M105.5 15v1M108.5 8v1M110.5 15v1M111.5 7v1M111.5 10v1M111.5 12v1M113.5 2v1M113.5 4v1M113.5 14v1M121.5 9v1M126.5 2v1M127.5 5v1M129.5 7v1M129.5 15v1M130.5 6v1M131.5 0v1M133.5 5v1M134.5 7v1M136.5 1v1M139.5 1v1M140.5 1v1M141.5 3v1M146.5 7v1M147.5 3v2M148.5 7v1M150.5 15v1M151.5 2v1M153.5 14v1M155.5 18v1M156.5 11v1M158.5 17v1M159.5 3v1M159.5 17v1M160.5 21v1M162.5 6v1M163.5 15v1M167.5 7v1M169.5 8v1M169.5 18v1M170.5 18v1M171.5 9v1M172.5 7v1M175.5 11v2M176.5 19v1M177.5 14v1M179.5 18v2M180.5 3v1M183.5 2v1M183.5 20v1M188.5 14v1M188.5 17v1M188.5 19v1M190.5 9v1M194.5 18v1M194.5 22v1M198.5 13v1M199.5 5v1M200.5 21v1M201.5 2v1M202.5 1v1M202.5 19v1M203.5 22v1M204.5 6v1M204.5 19v1M205.5 21v1M206.5 3v1M209.5 17v1M210.5 4v1M210.5 8v1M210.5 12v2M216.5 19v2M217.5 0v1M218.5 2v1M218.5 4v1M218.5 17v1M220.5 2v1M221.5 2v1M222.5 21v1M223.5 13v1M226.5 9v1M228.5 17v1M229.5 3v1M229.5 9v1M231.5 19v1M233.5 8v1M233.5 14v1M234.5 13v1M235.5 18v1M236.5 1v1M237.5 4v1M238.5 18v1M239.5 7v1M239.5 15v2M239.5 22v1M240.5 15v1M242.5 19v1M244.5 8v2M246.5 19v1M254.5 0v1M255.5 3v1M255.5 6v1M256.5 17v1M257.5 6v1"/>
<path stroke="#aebaba" d="M7.5 11v1M62.5 7v1"/>
<path stroke="#aeb4ba" d="M7.5 13v1M21.5 15v1M29.5 19v1M32.5 16v1M34.5 18v1M54.5 15v1"/>
<path stroke="#a8b4b4" d="M7.5 19v1M11.5 10v1M13.5 11v1M19.5 16v1M30.5 17v1M46.5 15v1"/>
<path stroke="#b4c0c0" d="M7.5 20v1M9.5 15v1M13.5 9v1M47.5 20v1"/>
<path stroke="#dea8a8" d="M8.5 0v1M8.5 3v1M11.5 0v1M14.5 0v1M17.5 0v1M20.5 3v1M21.5 3v1M25.5 0v1M30.5 2v1M34.5 1v1M34.5 4v1M35.5 7v1M36.5 4v1M36.5 6v1M36.5 11v1M38.5 0v1M42.5 2v1M43.5 13v1M44.5 3v1M45.5 5v1M46.5 0v1M48.5 18v1M50.5 0v1M50.5 3v1M51.5 3v1M55.5 13v1M59.5 1v1M59.5 8v1M61.5 7v2M62.5 1v1M65.5 4v1M66.5 4v1M67.5 21v1M68.5 22v1M73.5 21v1M77.5 2v1M77.5 10v1M79.5 12v1M80.5 8v1M81.5 21v1M82.5 12v1M86.5 3v1M87.5 0v1M87.5 6v1M87.5 16v1M97.5 22v1M98.5 14v1M100.5 0v1M101.5 0v1M101.5 18v1M105.5 9v1M105.5 16v1M107.5 0v1M108.5 22v1M110.5 12v1M112.5 2v1M113.5 16v1M116.5 15v1M121.5 5v1M122.5 4v1M123.5 7v1M126.5 0v1M127.5 6v1M129.5 11v1M130.5 1v1M135.5 2v1M135.5 15v1M138.5 16v1M138.5 19v1M142.5 4v1M144.5 3v1M145.5 2v1M146.5 0v2M146.5 3v1M147.5 7v1M148.5 5v1M150.5 1v1M151.5 1v1M152.5 10v1M155.5 19v1M155.5 22v1M157.5 13v1M157.5 21v2M159.5 4v1M160.5 10v1M161.5 9v1M161.5 22v1M163.5 10v1M163.5 17v1M163.5 22v1M164.5 20v3M165.5 10v1M165.5 16v1M166.5 15v1M169.5 9v1M169.5 19v1M170.5 6v1M170.5 11v1M172.5 1v1M172.5 10v1M173.5 1v1M173.5 9v1M173.5 14v1M174.5 14v1M174.5 20v1M175.5 16v1M176.5 16v1M177.5 22v1M180.5 21v1M182.5 17v1M183.5 11v1M184.5 0v1M184.5 19v1M185.5 1v1M186.5 5v1M188.5 18v1M190.5 16v1M190.5 19v1M190.5 21v1M191.5 10v1M191.5 21v1M193.5 9v1M194.5 3v1M194.5 14v1M197.5 0v1M198.5 20v2M200.5 8v1M203.5 20v1M204.5 5v1M204.5 11v1M205.5 19v1M206.5 5v1M206.5 7v1M206.5 17v1M207.5 3v1M209.5 12v1M210.5 17v1M210.5 21v1M211.5 16v1M214.5 11v1M215.5 13v1M218.5 18v1M218.5 22v1M219.5 17v1M222.5 14v1M226.5 2v1M226.5 21v1M227.5 3v1M228.5 11v1M229.5 2v1M229.5 13v1M231.5 16v1M231.5 18v1M233.5 15v1M234.5 0v1M235.5 2v1M236.5 20v1M238.5 19v1M239.5 3v1M239.5 9v1M241.5 17v1M242.5 7v2M242.5 10v1M243.5 10v1M245.5 2v1M245.5 8v1M245.5 11v1M248.5 8v1M248.5 13v1M249.5 16v1M250.5 11v1M250.5 14v1M250.5 20v1M251.5 9v2M251.5 22v1M253.5 1v1M254.5 6v1M255.5 12v1M255.5 19v1M256.5 1v1M257.5 4v1"/>
<path stroke="#d89c9c" d="M8.5 1v1M16.5 3v1M20.5 2v1M21.5 0v1M22.5 0v1M22.5 5v1M27.5 4v1M36.5 1v1M36.5 12v1M37.5 0v1M44.5 8v1M45.5 1v1M45.5 22v1M49.5 0v1M51.5 2v1M51.5 5v1M56.5 21v1M61.5 0v1M63.5 3v1M63.5 12v1M65.5 0v1M69.5 3v1M72.5 1v1M79.5 1v1M86.5 1v1M87.5 17v1M96.5 0v1M97.5 20v1M101.5 1v1M102.5 0v1M103.5 10v1M104.5 18v1M109.5 3v1M110.5 0v1M113.5 18v1M114.5 1v1M114.5 8v1M116.5 5v1M116.5 9v1M119.5 8v1M120.5 4v1M120.5 15v1M121.5 3v1M122.5 0v1M122.5 9v1M123.5 3v1M126.5 3v1M126.5 5v1M128.5 11v1M130.5 21v1M131.5 15v1M134.5 14v1M136.5 10v1M137.5 5v2M138.5 0v1M138.5 15v1M138.5 20v1M139.5 15v1M140.5 5v1M141.5 2v1M141.5 14v1M144.5 11v1M144.5 18v1M145.5 7v1M150.5 13v1M151.5 16v1M152.5 21v1M153.5 13v1M154.5 17v1M156.5 19v1M160.5 16v1M161.5 15v1M162.5 16v1M163.5 13v1M163.5 21v1M164.5 18v1M165.5 21v1M166.5 9v1M167.5 6v1M168.5 19v1M168.5 21v1M170.5 0v1M170.5 17v1M173.5 11v1M173.5 16v1M173.5 19v1M174.5 5v1M174.5 13v1M174.5 16v1M174.5 19v1M174.5 22v1M175.5 14v1M175.5 18v1M178.5 1v1M180.5 5v2M180.5 10v1M180.5 16v1M181.5 8v1M183.5 13v1M184.5 10v1M184.5 16v1M187.5 17v1M187.5 20v3M188.5 11v1M189.5 12v1M190.5 17v1M190.5 20v1M190.5 22v1M192.5 0v1M193.5 11v1M193.5 16v1M196.5 19v1M198.5 1v1M199.5 0v2M200.5 16v1M205.5 9v1M205.5 12v1M206.5 6v1M209.5 21v1M210.5 3v1M210.5 11v1M211.5 8v1M211.5 15v1M211.5 20v1M212.5 22v1M213.5 9v1M214.5 19v1M215.5 17v1M217.5 8v1M217.5 20v1M220.5 14v1M220.5 16v1M222.5 22v1M224.5 18v1M225.5 7v1M226.5 22v1M229.5 14v1M230.5 0v1M233.5 5v1M233.5 12v1M234.5 9v1M234.5 20v1M235.5 0v1M237.5 0v1M237.5 2v1M237.5 14v2M239.5 0v1M240.5 14v1M241.5 16v1M241.5 22v1M242.5 17v1M244.5 17v3M247.5 1v1M247.5 8v1M250.5 3v1M250.5 5v1M254.5 12v1M254.5 21v1M255.5 21v2M256.5 5v1M257.5 12v1M257.5 21v2"/>
<path stroke="#bac0c0" d="M8.5 12v1M10.5 5v1M11.5 16v1M11.5 18v1M12.5 12v1M22.5 9v1M23.5 9v1M25.5 9v1M25.5 14v1M28.5 11v1M32.5 9v1M32.5 15v1M34.5 5v1M37.5 11v1M40.5 10v1M48.5 15v1M55.5 14v1M253.5 17v1"/>
<path stroke="#cc8484" d="M9.5 0v1M22.5 1v1M114.5 11v1M115.5 11v1M120.5 3v1M120.5 21v1M123.5 1v1M125.5 8v1M126.5 1v1M126.5 17v1M126.5 20v1M128.5 12v1M130.5 17v1M134.5 0v1M135.5 5v1M136.5 15v1M137.5 4v1M137.5 10v1M137.5 17v2M141.5 0v1M142.5 8v1M143.5 7v1M143.5 13v1M144.5 5v1M144.5 19v2M150.5 18v1M152.5 16v1M154.5 21v1M158.5 14v1M161.5 17v1M165.5 12v1M166.5 10v1M167.5 20v1M169.5 13v1M171.5 16v1M172.5 8v1M174.5 17v1M178.5 2v1M178.5 20v1M179.5 16v1M180.5 11v1M182.5 13v1M183.5 18v1M184.5 18v1M184.5 20v1M187.5 8v1M189.5 21v1M190.5 18v1M191.5 19v1M204.5 4v1M209.5 19v1M212.5 19v1M213.5 1v1M217.5 12v1M235.5 3v1M239.5 11v1M250.5 21v1M255.5 13v1"/>
<path stroke="#eaeaf0" d="M9.5 18v1M29.5 17v2M32.5 10v1M33.5 9v1M34.5 15v1M53.5 20v1M56.5 10v1M92.5 5v1M192.5 17v1"/>
<path stroke="#b4bac0" d="M10.5 14v1M41.5 20v1M47.5 11v1M47.5 14v1M74.5 11v1M197.5 9v1"/>
<path stroke="#a2aeae" d="M10.5 15v1M11.5 11v1M25.5 11v1M28.5 15v1M34.5 9v1M40.5 20v1M55.5 15v1"/>
<path stroke="#a8aeae" d="M11.5 19v1"/>
<path stroke="#d28a8a" d="M12.5 0v1M15.5 3v1M16.5 1v1M18.5 3v1M19.5 1v1M20.5 5v1M26.5 0v1M35.5 0v1M43.5 2v1M51.5 0v1M73.5 0v1M82.5 0v1M94.5 1v1M99.5 14v1M104.5 21v1M105.5 11v1M114.5 9v1M115.5 1v1M115.5 21v1M116.5 8v1M117.5 4v1M118.5 4v1M119.5 3v1M120.5 10v1M121.5 14v2M122.5 1v1M122.5 8v1M123.5 2v1M124.5 4v1M124.5 8v1M124.5 18v1M125.5 6v1M126.5 9v1M127.5 1v2M127.5 4v1M128.5 9v1M129.5 9v1M130.5 10v1M130.5 13v1M131.5 7v1M131.5 9v1M133.5 1v2M134.5 13v1M135.5 10v1M136.5 13v1M138.5 5v1M139.5 5v1M139.5 11v1M139.5 18v1M141.5 11v1M146.5 10v1M146.5 17v1M148.5 6v1M148.5 8v1M150.5 0v1M150.5 17v1M151.5 6v1M151.5 8v1M154.5 9v1M154.5 13v1M154.5 16v1M154.5 20v1M154.5 22v1M155.5 10v1M156.5 22v1M157.5 9v1M158.5 19v1M158.5 21v1M159.5 11v1M161.5 13v1M161.5 19v1M162.5 12v1M163.5 12v1M164.5 13v1M165.5 18v1M166.5 11v1M168.5 12v1M171.5 19v1M172.5 16v1M173.5 12v1M175.5 15v1M175.5 19v2M176.5 13v1M177.5 11v1M177.5 17v1M184.5 15v1M189.5 11v1M193.5 8v1M193.5 12v1M200.5 12v1M204.5 8v1M205.5 10v1M206.5 2v1M206.5 20v1M209.5 3v1M210.5 0v1M211.5 5v1M212.5 16v1M213.5 12v1M214.5 0v1M215.5 5v1M216.5 12v2M216.5 17v1M218.5 0v1M220.5 18v1M228.5 2v1M228.5 22v1M230.5 13v1M234.5 5v1M238.5 8v1M240.5 10v1M242.5 18v1M243.5 13v1M245.5 22v1M246.5 0v1M248.5 5v1M248.5 19v1M250.5 6v1M250.5 12v1M251.5 8v1M251.5 19v1M257.5 0v1M257.5 18v1"/>
<path stroke="#deaeae" d="M12.5 2v1M16.5 0v1M20.5 12v2M23.5 3v1M27.5 2v1M29.5 1v1M35.5 1v1M38.5 16v1M39.5 1v1M42.5 4v1M45.5 3v1M45.5 6v1M46.5 5v1M48.5 5v1M51.5 8v1M51.5 22v1M55.5 0v1M55.5 2v1M57.5 8v1M59.5 4v1M61.5 5v1M63.5 11v1M63.5 13v1M65.5 8v1M65.5 19v1M69.5 1v1M71.5 1v1M73.5 8v1M75.5 0v2M79.5 8v1M80.5 2v1M81.5 1v1M81.5 14v1M82.5 2v1M82.5 7v1M85.5 1v1M87.5 19v1M90.5 2v1M90.5 12v1M91.5 12v1M92.5 21v1M93.5 0v1M93.5 21v1M94.5 22v1M96.5 13v1M100.5 12v1M102.5 12v1M102.5 21v1M103.5 3v1M104.5 1v1M104.5 19v1M105.5 21v1M106.5 21v1M107.5 3v1M108.5 19v1M110.5 1v1M110.5 13v1M112.5 11v1M113.5 13v1M115.5 4v1M119.5 6v1M121.5 1v1M122.5 21v1M128.5 0v2M128.5 8v1M130.5 8v1M130.5 19v2M131.5 2v1M132.5 1v1M133.5 7v1M134.5 2v1M134.5 4v1M134.5 20v1M135.5 6v1M136.5 2v1M137.5 7v1M137.5 9v1M139.5 8v1M139.5 20v1M140.5 10v1M141.5 17v1M143.5 6v1M144.5 9v1M146.5 2v1M146.5 22v1M148.5 3v1M149.5 1v1M149.5 15v1M150.5 4v1M155.5 21v1M156.5 20v1M158.5 0v1M158.5 5v1M158.5 13v1M159.5 7v1M159.5 15v1M160.5 0v1M160.5 5v1M160.5 18v1M161.5 11v1M161.5 16v1M162.5 9v1M163.5 11v1M164.5 9v1M165.5 6v1M168.5 5v1M168.5 11v1M169.5 12v1M170.5 2v1M170.5 4v1M170.5 8v1M170.5 19v1M170.5 22v1M172.5 3v1M172.5 22v1M173.5 5v1M174.5 10v1M174.5 21v1M175.5 10v1M176.5 5v1M176.5 11v1M176.5 21v1M177.5 18v1M179.5 12v1M179.5 21v1M180.5 15v1M180.5 17v1M180.5 19v1M181.5 21v1M182.5 10v1M182.5 12v1M183.5 1v1M183.5 8v1M183.5 12v1M184.5 21v1M185.5 0v1M185.5 13v1M186.5 10v1M186.5 15v1M186.5 19v1M187.5 6v1M187.5 10v1M188.5 16v1M188.5 22v1M189.5 7v1M189.5 10v1M189.5 15v1M191.5 0v1M191.5 2v1M193.5 10v1M193.5 18v1M194.5 5v1M194.5 12v1M194.5 16v1M195.5 2v1M195.5 5v1M195.5 8v1M195.5 18v1M196.5 1v1M196.5 13v1M198.5 2v1M199.5 22v1M200.5 5v1M201.5 3v1M201.5 7v1M201.5 11v2M201.5 18v1M202.5 0v1M202.5 12v1M203.5 8v1M203.5 21v1M205.5 13v1M206.5 11v1M209.5 10v1M210.5 9v1M210.5 16v1M211.5 7v1M212.5 15v1M213.5 2v1M213.5 16v1M214.5 1v2M214.5 13v1M215.5 16v1M216.5 1v1M216.5 14v1M217.5 2v1M217.5 21v2M219.5 0v1M219.5 12v1M219.5 22v1M220.5 8v1M220.5 13v1M220.5 20v1M222.5 2v1M222.5 5v1M223.5 21v1M224.5 12v1M225.5 5v1M225.5 8v1M226.5 6v1M228.5 5v1M228.5 8v1M228.5 10v1M229.5 21v1M230.5 12v1M230.5 16v1M231.5 0v1M231.5 8v1M232.5 0v1M235.5 9v1M236.5 21v1M237.5 6v1M237.5 11v1M237.5 19v1M240.5 6v1M240.5 12v2M242.5 1v1M242.5 16v1M243.5 7v1M243.5 19v1M244.5 11v1M245.5 9v1M246.5 12v1M248.5 22v1M250.5 7v1M251.5 21v1M252.5 17v1M252.5 19v1M254.5 8v1M255.5 0v1M255.5 16v1M256.5 4v1M256.5 18v1M256.5 20v1M256.5 22v1M257.5 20v1"/>
<path stroke="#54666c" d="M12.5 9v1"/>
<path stroke="#c67272" d="M13.5 0v1M77.5 0v1M99.5 13v1M105.5 19v1M114.5 7v1M115.5 0v1M115.5 19v1M116.5 6v1M116.5 22v1M117.5 3v1M118.5 3v1M119.5 0v1M119.5 2v1M119.5 19v1M121.5 12v1M124.5 0v1M124.5 7v1M124.5 11v1M125.5 0v1M125.5 11v1M125.5 15v1M126.5 12v1M128.5 17v1M129.5 13v1M129.5 18v1M130.5 12v1M133.5 10v1M133.5 15v1M134.5 10v1M134.5 12v1M136.5 5v1M137.5 14v1M137.5 21v1M139.5 19v1M139.5 21v1M142.5 10v1M143.5 11v1M144.5 13v1M145.5 3v1M145.5 14v1M145.5 16v1M156.5 13v1M156.5 17v1M159.5 22v1M165.5 9v1M165.5 22v1M172.5 19v1M180.5 13v1M185.5 21v1M188.5 12v1M189.5 22v1M191.5 9v1M193.5 1v1M201.5 13v1M212.5 10v1M243.5 21v1M250.5 0v1"/>
<path stroke="#eaccd2" d="M13.5 6v1M65.5 21v1M74.5 6v1M138.5 8v1M158.5 8v1M158.5 15v1M179.5 15v1M197.5 18v1M211.5 14v1M217.5 15v1M230.5 17v1M233.5 1v1"/>
<path stroke="#c05a5a" d="M14.5 1v1M114.5 19v1M115.5 14v1M115.5 16v1M115.5 20v1M116.5 13v1M116.5 19v1M116.5 21v1M117.5 11v1M117.5 22v1M118.5 9v1M119.5 15v1M121.5 13v1M121.5 17v1M121.5 22v1M123.5 12v1M123.5 16v1M125.5 22v1M126.5 14v1M127.5 18v1M135.5 19v1M135.5 22v1M137.5 16v1M137.5 22v1M139.5 14v1M140.5 21v1M147.5 11v1M148.5 15v1M149.5 22v1M150.5 11v1M151.5 11v1M151.5 14v1M151.5 18v1M152.5 12v1M161.5 20v1M167.5 10v1M172.5 17v1M173.5 13v1M178.5 12v1M203.5 1v1M209.5 1v1M211.5 0v1M212.5 0v1M245.5 0v1"/>
<path stroke="#d89696" d="M14.5 2v1M19.5 0v1M21.5 1v1M31.5 0v1M36.5 13v1M43.5 0v1M44.5 0v1M44.5 2v1M57.5 1v1M65.5 3v1M73.5 5v1M87.5 14v1M89.5 18v1M89.5 21v1M90.5 0v1M90.5 11v1M90.5 17v1M94.5 13v1M103.5 12v1M104.5 16v1M105.5 5v1M105.5 14v1M107.5 21v1M114.5 0v1M115.5 5v1M115.5 15v1M116.5 7v1M118.5 7v1M119.5 20v1M120.5 5v1M120.5 8v1M120.5 22v1M121.5 2v1M126.5 19v1M131.5 8v1M131.5 11v1M131.5 17v1M132.5 0v1M132.5 7v1M135.5 16v1M136.5 0v1M139.5 0v1M140.5 14v1M141.5 6v1M141.5 8v1M142.5 6v1M143.5 1v1M144.5 12v1M146.5 4v1M148.5 10v1M149.5 17v1M153.5 19v1M155.5 13v1M157.5 12v1M158.5 9v1M158.5 11v1M162.5 4v1M163.5 6v1M163.5 20v1M165.5 15v1M166.5 13v1M166.5 17v1M167.5 8v1M168.5 10v1M168.5 20v1M169.5 16v1M170.5 10v1M170.5 12v1M171.5 21v1M172.5 21v1M174.5 9v1M175.5 22v1M180.5 0v1M183.5 9v1M183.5 16v2M186.5 18v1M186.5 20v1M186.5 22v1M188.5 21v1M191.5 1v1M191.5 13v1M193.5 15v1M196.5 0v1M197.5 22v1M203.5 13v1M203.5 19v1M206.5 1v1M206.5 4v1M206.5 13v1M207.5 1v1M208.5 1v1M208.5 12v1M209.5 22v1M211.5 12v1M212.5 21v1M214.5 22v1M215.5 18v1M215.5 21v1M217.5 5v1M219.5 1v1M220.5 12v1M222.5 0v1M225.5 19v1M228.5 13v1M232.5 19v1M236.5 0v1M239.5 21v1M240.5 0v1M240.5 8v1M240.5 22v1M241.5 0v1M241.5 8v1M241.5 12v2M243.5 11v1M243.5 14v1M244.5 2v1M244.5 20v1M245.5 3v1M248.5 21v1M256.5 13v1M257.5 11v1"/>
<path stroke="#deaeb4" d="M14.5 4v1M77.5 4v1M84.5 17v1M103.5 0v1M105.5 6v1M121.5 0v1M126.5 6v1M135.5 7v1M149.5 11v1M153.5 15v1M157.5 11v1M162.5 11v1M164.5 11v1M182.5 22v1M183.5 3v1M191.5 3v1M204.5 3v1M214.5 16v1M215.5 11v1M216.5 3v1M217.5 13v1M243.5 4v1M256.5 8v1M256.5 10v1"/>
<path stroke="#d8a2a2" d="M14.5 5v1M21.5 2v1M23.5 0v1M30.5 3v1M33.5 0v1M33.5 2v1M34.5 2v1M36.5 3v1M41.5 0v1M42.5 1v1M43.5 1v1M44.5 12v1M53.5 1v1M59.5 5v1M59.5 12v1M60.5 8v1M68.5 1v1M73.5 12v1M77.5 17v1M79.5 19v1M80.5 4v1M80.5 16v1M83.5 22v1M86.5 0v1M88.5 0v1M89.5 11v1M92.5 1v1M92.5 22v1M95.5 1v1M99.5 19v1M104.5 12v1M105.5 3v1M111.5 5v1M112.5 0v1M112.5 18v1M124.5 2v2M124.5 15v1M130.5 0v1M133.5 11v1M133.5 20v1M134.5 1v1M135.5 0v1M140.5 20v1M143.5 0v1M144.5 7v1M144.5 15v1M147.5 8v1M149.5 10v1M149.5 18v1M150.5 8v1M151.5 5v1M151.5 7v1M152.5 0v1M152.5 17v1M156.5 16v1M157.5 18v1M158.5 18v1M159.5 14v1M161.5 0v2M162.5 17v2M162.5 20v1M164.5 17v1M165.5 11v1M165.5 17v1M166.5 0v1M166.5 7v1M166.5 12v1M167.5 11v1M167.5 19v1M168.5 7v2M169.5 17v1M170.5 5v1M170.5 9v1M171.5 20v1M172.5 15v1M174.5 1v1M174.5 12v1M176.5 17v1M177.5 0v1M177.5 15v1M178.5 7v1M179.5 20v1M180.5 22v1M181.5 5v1M181.5 10v2M181.5 14v1M183.5 0v1M183.5 6v1M185.5 12v1M186.5 16v1M187.5 12v1M187.5 16v1M189.5 5v1M189.5 13v1M190.5 0v1M191.5 8v1M191.5 14v2M191.5 22v1M195.5 1v1M200.5 1v1M201.5 19v1M203.5 12v1M204.5 2v1M204.5 9v1M205.5 5v1M205.5 22v1M206.5 18v1M206.5 21v1M207.5 20v1M212.5 11v2M213.5 14v1M214.5 9v1M215.5 0v1M216.5 11v1M216.5 22v1M217.5 16v2M220.5 9v1M221.5 0v1M226.5 14v1M231.5 13v1M232.5 13v1M234.5 1v1M234.5 21v1M235.5 1v1M237.5 16v1M239.5 5v1M240.5 3v1M242.5 2v1M242.5 12v2M242.5 22v1M243.5 16v2M244.5 5v1M245.5 4v1M248.5 1v1M248.5 17v1M249.5 17v1M250.5 16v1M250.5 22v1M251.5 7v1M251.5 14v1M251.5 16v1M255.5 5v1M257.5 9v2M257.5 13v1"/>
<path stroke="#cc7e7e" d="M15.5 0v1M24.5 0v1M36.5 0v1M39.5 0v1M42.5 0v1M67.5 1v1M80.5 18v1M86.5 22v1M107.5 13v1M115.5 2v1M118.5 1v1M120.5 14v1M121.5 20v1M123.5 9v1M125.5 7v1M126.5 8v1M127.5 15v1M129.5 14v1M129.5 19v2M129.5 22v1M134.5 9v1M134.5 19v1M134.5 21v1M137.5 11v1M138.5 11v1M141.5 16v1M142.5 3v1M143.5 16v1M146.5 14v2M148.5 1v1M150.5 16v1M151.5 10v1M151.5 13v1M151.5 15v1M151.5 22v1M153.5 16v1M156.5 21v1M157.5 16v1M161.5 10v1M162.5 13v1M163.5 19v1M165.5 14v1M167.5 13v1M167.5 16v1M167.5 21v1M175.5 9v1M175.5 13v1M177.5 19v2M178.5 16v1M178.5 18v1M179.5 13v1M186.5 17v1M190.5 12v1M191.5 12v1M193.5 2v1M198.5 0v1M210.5 1v1M210.5 5v1M211.5 1v1M211.5 18v1M211.5 21v1M213.5 0v1M213.5 13v1M213.5 22v1M226.5 12v1M228.5 16v1M243.5 1v1M245.5 7v1M257.5 1v1"/>
<path stroke="#d29090" d="M15.5 1v1M16.5 4v1M19.5 3v1M45.5 0v1M49.5 1v1M49.5 12v1M51.5 12v1M65.5 1v1M67.5 13v1M75.5 5v1M80.5 0v1M80.5 12v1M87.5 22v1M98.5 16v1M99.5 12v1M99.5 17v1M103.5 21v1M105.5 12v1M108.5 16v1M109.5 18v1M115.5 7v1M115.5 22v1M119.5 7v1M120.5 2v1M121.5 16v1M122.5 5v1M122.5 10v1M122.5 16v1M124.5 1v1M124.5 6v1M126.5 22v1M127.5 0v1M130.5 11v1M130.5 18v1M131.5 5v1M131.5 14v1M132.5 3v1M134.5 16v1M135.5 8v1M136.5 7v1M136.5 17v1M138.5 2v1M138.5 6v1M138.5 18v1M140.5 9v1M143.5 14v1M143.5 20v1M144.5 0v2M144.5 14v1M145.5 5v2M146.5 8v1M146.5 12v1M148.5 2v1M149.5 13v1M149.5 16v1M150.5 9v1M150.5 20v1M152.5 19v2M153.5 17v1M153.5 21v1M154.5 5v1M154.5 12v1M156.5 15v1M159.5 5v1M159.5 12v1M159.5 16v1M159.5 21v1M160.5 12v1M161.5 14v1M162.5 21v1M163.5 5v1M163.5 9v1M166.5 18v1M169.5 11v1M170.5 13v1M170.5 15v1M171.5 13v1M171.5 18v1M172.5 6v1M173.5 18v1M173.5 21v1M175.5 17v1M175.5 21v1M177.5 13v1M178.5 6v1M179.5 22v1M181.5 16v1M184.5 11v1M185.5 19v1M186.5 14v1M189.5 19v1M190.5 13v1M193.5 4v1M193.5 19v1M194.5 1v1M194.5 19v1M194.5 21v1M198.5 17v1M202.5 16v1M204.5 0v1M204.5 7v1M204.5 22v1M205.5 0v3M206.5 9v1M206.5 22v1M209.5 13v1M210.5 14v1M210.5 18v1M215.5 10v1M220.5 0v1M221.5 13v1M224.5 0v2M225.5 1v1M229.5 8v1M229.5 16v1M230.5 22v1M231.5 5v1M235.5 22v1M237.5 3v1M237.5 17v1M237.5 22v1M240.5 16v1M242.5 0v1M244.5 21v1M245.5 10v1M245.5 18v1M248.5 0v1M250.5 19v1M256.5 3v1M256.5 21v1"/>
<path stroke="#d89ca2" d="M15.5 4v1M52.5 14v1M90.5 13v1M112.5 1v1M119.5 1v1M122.5 2v1M154.5 10v1M158.5 20v1M167.5 9v1M175.5 0v1M177.5 16v1M178.5 22v1M184.5 2v1M205.5 18v1M209.5 8v1M213.5 5v1"/>
<path stroke="#dea2a2" d="M18.5 0v1M20.5 4v1M26.5 4v1M30.5 0v1M63.5 0v1M66.5 21v1M69.5 5v1M76.5 6v1M81.5 20v1M87.5 15v1M103.5 19v2M110.5 5v1M110.5 22v1M111.5 18v1M121.5 8v1M125.5 2v1M128.5 20v1M128.5 22v1M129.5 10v1M134.5 3v1M134.5 11v1M134.5 22v1M135.5 3v1M144.5 8v1M148.5 20v1M154.5 15v1M155.5 11v1M157.5 19v1M169.5 1v1M172.5 2v1M172.5 18v1M181.5 19v1M183.5 21v1M187.5 13v1M191.5 5v1M200.5 0v1M201.5 1v1M209.5 18v1M212.5 13v2M219.5 3v1M219.5 13v1M230.5 1v1M231.5 22v1M233.5 2v1M236.5 12v1M238.5 7v1M251.5 15v1M251.5 18v1"/>
<path stroke="#dea8ae" d="M18.5 1v1M19.5 4v1M32.5 0v1M36.5 10v1M87.5 13v1M93.5 5v1M97.5 13v1M113.5 22v1M116.5 0v1M138.5 7v1M161.5 5v1M189.5 6v1M189.5 14v1M193.5 20v1M199.5 19v1M200.5 3v1M203.5 5v1M204.5 10v1M215.5 20v1M226.5 13v1M228.5 20v1M241.5 19v1M244.5 10v1"/>
<path stroke="#f6dee4" d="M18.5 10v1M45.5 16v1M53.5 2v1M76.5 10v1M77.5 21v1M155.5 0v1M169.5 5v1M236.5 4v1"/>
<path stroke="#eac6cc" d="M20.5 10v1M55.5 8v1M57.5 4v1M71.5 12v1M100.5 13v1M122.5 6v1M159.5 1v1M202.5 17v1M218.5 3v1M226.5 16v1M233.5 19v1M244.5 4v1M248.5 11v1M256.5 2v1"/>
<path stroke="#eac0c6" d="M20.5 22v1M61.5 6v1M79.5 2v1M112.5 21v1M141.5 7v1M151.5 4v1M217.5 14v1M224.5 3v1M229.5 5v1M236.5 14v1M245.5 15v1M247.5 7v1"/>
<path stroke="#f0d2d8" d="M23.5 21v1M60.5 17v1M65.5 6v1M67.5 22v1M69.5 19v1M82.5 21v1M90.5 10v1M90.5 15v1M91.5 19v1M113.5 21v1M134.5 6v1M162.5 2v1M190.5 2v1M195.5 3v1M223.5 14v1M228.5 7v1M255.5 1v1"/>
<path stroke="#3c5454" d="M24.5 9v1M141.5 20v1M193.5 3v1M238.5 2v1M240.5 18v1"/>
<path stroke="#a2a8ae" d="M24.5 15v1"/>
<path stroke="#8a969c" d="M25.5 15v1"/>
<path stroke="#d29696" d="M26.5 1v1M43.5 3v1M48.5 0v1M65.5 5v1M86.5 21v1M114.5 15v1M118.5 2v1M128.5 18v1M133.5 3v1M151.5 0v1M152.5 14v1M164.5 12v1M165.5 19v1M168.5 17v1M170.5 14v1M170.5 16v1M179.5 17v1M184.5 13v1M184.5 22v1M193.5 14v1M193.5 22v1M201.5 17v1M204.5 21v1M210.5 22v1M216.5 5v1M221.5 8v1M225.5 22v1M232.5 12v1M250.5 13v1M251.5 5v1"/>
<path stroke="#c06666" d="M26.5 2v1M114.5 17v1M114.5 21v1M119.5 22v1M120.5 0v1M120.5 17v1M122.5 17v1M123.5 6v1M123.5 18v1M124.5 14v1M133.5 13v1M134.5 18v1M135.5 12v1M135.5 17v1M135.5 21v1M138.5 13v1M139.5 10v1M139.5 17v1M142.5 19v1M145.5 0v1M145.5 18v1M146.5 11v1M148.5 22v1M149.5 14v1M150.5 22v1M151.5 21v1M159.5 18v1M168.5 13v1M172.5 13v1M203.5 0v1M204.5 12v1M206.5 0v1"/>
<path stroke="#8a9096" d="M33.5 17v1"/>
<path stroke="#969ca2" d="M34.5 11v1M47.5 9v1"/>
<path stroke="#bac6c6" d="M34.5 16v1M58.5 22v1"/>
<path stroke="#d2848a" d="M36.5 2v1M51.5 1v1M114.5 3v1M142.5 2v1M169.5 22v1M172.5 4v1M178.5 17v1M200.5 19v1M218.5 1v1M222.5 13v1M243.5 12v1M244.5 0v1M251.5 2v1"/>
<path stroke="#d28484" d="M40.5 0v1M54.5 12v1M61.5 13v1M63.5 1v1M73.5 6v1M116.5 3v1M120.5 1v1M125.5 5v1M126.5 10v1M127.5 8v1M129.5 0v1M136.5 11v1M138.5 17v1M141.5 19v1M158.5 16v1M161.5 18v1M161.5 21v1M163.5 16v1M172.5 0v1M177.5 1v1M185.5 17v1M191.5 20v1M225.5 6v1M226.5 0v1M228.5 12v1M232.5 5v1M235.5 13v1M245.5 19v1M251.5 12v1"/>
<path stroke="#f0d8de" d="M43.5 20v1M86.5 6v1M100.5 20v1M108.5 18v1M201.5 20v1M208.5 2v1M232.5 7v1M240.5 21v1"/>
<path stroke="#727e84" d="M46.5 9v1"/>
<path stroke="#d29096" d="M50.5 1v1M80.5 13v1M84.5 21v1M105.5 2v1M116.5 20v1M136.5 21v1M140.5 8v1M140.5 18v1M149.5 21v1M162.5 14v1M184.5 9v1M184.5 17v1M193.5 17v1M200.5 13v1M201.5 0v1M207.5 0v1M215.5 2v1M245.5 16v1"/>
<path stroke="#f6f6fc" d="M55.5 17v1M58.5 10v1M101.5 8v1"/>
<path stroke="#cc7e84" d="M57.5 0v1M103.5 22v1M122.5 14v1M123.5 5v1M125.5 12v1M136.5 20v1M139.5 22v1M140.5 0v1M141.5 1v1M148.5 4v1M157.5 10v1M166.5 20v1M180.5 12v1M186.5 0v1M191.5 17v1M207.5 13v1M211.5 2v1M245.5 6v1"/>
<path stroke="#cc787e" d="M57.5 2v1M127.5 16v1M149.5 19v1M153.5 12v1M178.5 19v1M222.5 1v1M252.5 0v1"/>
<path stroke="#c06060" d="M61.5 1v1M115.5 10v1M116.5 18v1M117.5 14v1M117.5 20v1M118.5 5v1M121.5 18v1M121.5 21v1M122.5 18v1M123.5 19v1M123.5 22v1M125.5 14v1M127.5 21v1M129.5 16v1M129.5 21v1M132.5 17v1M133.5 17v1M137.5 12v1M138.5 10v1M139.5 13v1M140.5 12v1M141.5 18v1M143.5 18v1M146.5 19v2M147.5 1v1M147.5 20v1M148.5 0v1M148.5 9v1M149.5 12v1M151.5 19v1M162.5 22v1M167.5 12v1M167.5 18v1M186.5 9v1M189.5 16v1M251.5 1v1"/>
<path stroke="#c6ccd2" d="M62.5 13v1"/>
<path stroke="#f6e4ea" d="M64.5 6v1"/>
<path stroke="#cc7878" d="M69.5 0v1M86.5 13v1M87.5 12v1M101.5 12v1M103.5 13v1M105.5 13v1M106.5 0v1M114.5 6v1M114.5 18v1M117.5 6v1M119.5 5v1M119.5 9v1M119.5 11v1M120.5 6v1M121.5 10v1M125.5 1v1M127.5 9v1M127.5 22v1M128.5 13v1M128.5 19v1M130.5 14v1M131.5 10v1M131.5 12v2M132.5 12v1M133.5 22v1M137.5 1v1M138.5 14v1M139.5 16v1M141.5 12v1M141.5 21v1M142.5 0v1M142.5 7v1M143.5 5v1M144.5 16v2M145.5 10v1M146.5 9v1M147.5 0v1M147.5 2v1M147.5 6v1M149.5 0v1M150.5 6v1M150.5 10v1M150.5 14v1M151.5 9v1M152.5 22v1M154.5 19v1M159.5 19v1M161.5 12v1M164.5 14v1M166.5 16v1M167.5 17v1M172.5 11v1M174.5 11v1M177.5 10v1M178.5 13v1M178.5 21v1M180.5 20v1M184.5 14v1M185.5 22v1M189.5 9v1M193.5 21v1M204.5 1v1M210.5 2v1M215.5 12v1M218.5 12v1M222.5 18v1M228.5 1v1M228.5 14v1M229.5 15v1M233.5 0v1M237.5 1v1M240.5 1v1M243.5 5v1M245.5 17v1M256.5 12v1"/>
<path stroke="#f6eaf0" d="M74.5 4v1M256.5 15v1"/>
<path stroke="#dea2a8" d="M80.5 5v1M103.5 2v1M104.5 13v1M125.5 4v1M127.5 7v1M148.5 14v1M152.5 9v1M154.5 14v1M157.5 1v1M166.5 14v1M167.5 5v1M174.5 2v1M194.5 15v1M240.5 5v1M257.5 19v1"/>
<path stroke="#fcf0f6" d="M89.5 3v1M94.5 14v1M109.5 14v1"/>
<path stroke="#e4bac0" d="M99.5 0v1M102.5 13v1M177.5 5v1M186.5 21v1M189.5 20v1M190.5 11v1M225.5 10v1M230.5 19v1M233.5 21v1M241.5 7v1M250.5 8v1"/>
<path stroke="#c67278" d="M99.5 21v1M115.5 13v1M135.5 9v1M136.5 8v1M143.5 9v1M147.5 5v1M158.5 22v1M173.5 22v1M225.5 13v1M228.5 0v1M245.5 5v1M251.5 13v1"/>
<path stroke="#c05a60" d="M103.5 18v1M123.5 15v1M142.5 21v1M143.5 17v1M251.5 0v1"/>
<path stroke="#ba4e4e" d="M114.5 4v1M116.5 16v1M117.5 2v1M118.5 16v1M119.5 13v2M119.5 21v1M123.5 0v1M123.5 21v1M125.5 16v1M127.5 12v2M131.5 18v1M131.5 21v1M132.5 19v1M135.5 14v1M136.5 14v1M137.5 15v1M145.5 12v1M146.5 16v1M147.5 10v1M193.5 0v1"/>
<path stroke="#c66c72" d="M114.5 5v1M114.5 20v1M118.5 8v1M125.5 9v1M127.5 10v1M128.5 16v1M131.5 16v1M134.5 15v1M139.5 9v1M141.5 10v1M145.5 8v1M150.5 21v1M158.5 10v1M160.5 13v1M163.5 14v1M168.5 14v1M181.5 13v1M209.5 2v1"/>
<path stroke="#ba5454" d="M114.5 10v1M114.5 16v1M117.5 7v1M117.5 10v1M119.5 12v1M122.5 20v1M123.5 11v1M125.5 10v1M128.5 21v1M129.5 17v1M132.5 10v1M132.5 13v1M132.5 18v1M133.5 12v1M135.5 13v1M135.5 20v1M136.5 19v1M140.5 11v1M140.5 13v1M140.5 19v1M142.5 15v1M142.5 17v1M142.5 22v1M144.5 21v1M145.5 20v2M146.5 18v1M146.5 21v1M152.5 13v1M156.5 12v1M165.5 13v1M166.5 21v1M172.5 20v1M177.5 12v1M256.5 0v1"/>
<path stroke="#ba4848" d="M114.5 12v3M114.5 22v1M115.5 17v1M116.5 17v1M117.5 0v1M117.5 5v1M117.5 9v1M117.5 12v2M117.5 15v5M117.5 21v1M118.5 6v1M118.5 10v1M118.5 12v4M118.5 17v6M119.5 10v1M119.5 16v2M120.5 9v1M120.5 11v2M120.5 16v1M120.5 18v2M122.5 13v1M122.5 19v1M122.5 22v1M123.5 13v2M123.5 17v1M123.5 20v1M124.5 12v2M124.5 16v1M124.5 19v2M125.5 13v1M125.5 18v4M126.5 11v1M126.5 13v1M126.5 15v1M126.5 21v1M127.5 14v1M127.5 17v1M132.5 11v1M132.5 14v1M132.5 21v2M133.5 16v1M133.5 18v1M135.5 18v1M136.5 16v1M137.5 19v1M138.5 21v1M139.5 12v1M140.5 22v1M142.5 9v1M142.5 11v4M142.5 16v1M142.5 18v1M142.5 20v1M143.5 10v1M143.5 12v1M143.5 22v1M145.5 9v1M145.5 11v1M145.5 17v1M145.5 19v1M147.5 12v8M147.5 21v2M148.5 11v3M148.5 19v1M150.5 12v1M151.5 12v1M159.5 13v1M166.5 19v1M172.5 12v1M193.5 13v1M245.5 12v1"/>
<path stroke="#c66666" d="M115.5 6v1M115.5 18v1M122.5 12v1M124.5 10v1M124.5 17v1M132.5 5v1M132.5 8v1M133.5 0v1M133.5 14v1M138.5 9v1M140.5 16v1M143.5 15v1M146.5 13v1M152.5 18v1M156.5 18v1M178.5 14v1M194.5 0v1M208.5 21v1"/>
<path stroke="#c6666c" d="M115.5 9v1M116.5 12v1M118.5 11v1M131.5 22v1M132.5 2v1M143.5 19v1M143.5 21v1M147.5 9v1M148.5 17v2M167.5 22v1M225.5 0v1M245.5 1v1"/>
<path stroke="#c66c6c" d="M115.5 12v1M116.5 11v1M116.5 14v1M117.5 8v1M118.5 0v1M119.5 18v1M120.5 13v1M120.5 20v1M121.5 11v1M123.5 8v1M123.5 10v1M124.5 9v1M125.5 17v1M126.5 16v1M126.5 18v1M127.5 11v1M127.5 19v2M128.5 14v1M130.5 16v1M130.5 22v1M131.5 19v1M132.5 9v1M132.5 15v1M133.5 19v1M134.5 17v1M135.5 11v1M136.5 12v1M136.5 18v1M136.5 22v1M137.5 0v1M138.5 22v1M140.5 17v1M143.5 2v1M144.5 10v1M144.5 22v1M145.5 1v1M145.5 15v1M145.5 22v1M148.5 21v1M149.5 20v1M150.5 19v1M151.5 17v1M151.5 20v1M152.5 11v1M158.5 12v1M162.5 19v1M170.5 21v1M174.5 18v1M178.5 5v1M180.5 18v1M183.5 14v1M184.5 12v1M186.5 12v1M193.5 5v1M206.5 12v1M216.5 0v1M222.5 12v1M229.5 0v1M245.5 21v1M250.5 17v1"/>
<path stroke="#ba4e54" d="M117.5 1v1M124.5 21v1M133.5 9v1M137.5 13v1"/>
<path stroke="#c67878" d="M121.5 19v1M129.5 12v1M137.5 20v1M178.5 0v1M189.5 17v1"/>
<path stroke="#d28a90" d="M124.5 5v1M128.5 10v1M138.5 3v1M141.5 15v1M141.5 22v1M149.5 8v1M156.5 10v1M178.5 10v1M191.5 11v1M211.5 22v1M212.5 18v1M232.5 1v1"/>
<path stroke="#c06066" d="M124.5 22v1M132.5 20v1M138.5 12v1M142.5 5v1M153.5 22v1M166.5 22v1M212.5 5v1M218.5 5v1"/>
<path stroke="#ba545a" d="M131.5 20v1M145.5 13v1M148.5 16v1M177.5 21v1M195.5 0v1M212.5 1v1"/>
<path stroke="#ba484e" d="M132.5 16v1M133.5 21v1M142.5 1v1M209.5 0v1"/>
<path stroke="#fcf6fc" d="M247.5 3v1"/>
</g>
<path d="M43 303.8H33.3V309.1H43M43 314.4H28V319.7H43M33.3 306.5H26.3V317H28M43 325H23.7V330.2H43M43 335.5H21V340.8H43M23.7 327.6H18.4V338.1H21M26.3 311.8H16.3V332.9H18.4M43 356.6H37.7V361.9H43M43 351.3H32.4V359.3H37.7M43 372.5H34.2V377.7H43M43 367.2H30.1V375.1H34.2M32.4 355.3H28.9V371.1H30.1M43 388.3H41.2V393.6H43M41.2 390.9H35.9V398.8H43M43 383H28V394.9H35.9M28.9 363.2H24.5V389H28M43 414.7H34.2V420H43M43 409.4H23.7V417.3H34.2M43 404.1H22.4V413.4H23.7M24.5 376.1H19.6V408.7H22.4M43 346.1H12.3V392.4H19.6M16.3 322.3H9.6V369.2H12.3" fill="none" stroke="#222" stroke-width="0.8"/>
<defs><linearGradient id="cb" x1="0" y1="0" x2="0" y2="1"><stop offset="0" stop-color="#b84a4b"/><stop offset="0.28" stop-color="#bb5253"/><stop offset="0.52" stop-color="#fdf9f9"/><stop offset="0.54" stop-color="#ffffff"/><stop offset="0.72" stop-color="#405258"/><stop offset="1" stop-color="#3e5056"/></linearGradient></defs>
<rect x="449.6" y="300.9" width="9.1" height="120.6" fill="url(#cb)"/>
<path d="M456.7 308.8H458.7M449.6 308.8H451.6" stroke="#fff" stroke-width="0.6"/>
<text x="461.5" y="312.1" font-size="9.2" fill="#1a1a1a">4</text>
<path d="M456.7 331H458.7M449.6 331H451.6" stroke="#fff" stroke-width="0.6"/>
<text x="461.5" y="334.3" font-size="9.2" fill="#1a1a1a">2</text>
<path d="M456.7 353H458.7M449.6 353H451.6" stroke="#fff" stroke-width="0.6"/>
<text x="461.5" y="356.3" font-size="9.2" fill="#1a1a1a">0</text>
<path d="M456.7 375.3H458.7M449.6 375.3H451.6" stroke="#fff" stroke-width="0.6"/>
<text x="461.5" y="378.6" font-size="9.2" fill="#1a1a1a">−2</text>
<path d="M456.7 397.2H458.7M449.6 397.2H451.6" stroke="#fff" stroke-width="0.6"/>
<text x="461.5" y="400.5" font-size="9.2" fill="#1a1a1a">−4</text>
<path d="M456.7 419.1H458.7M449.6 419.1H451.6" stroke="#fff" stroke-width="0.6"/>
<text x="461.5" y="422.4" font-size="9.2" fill="#1a1a1a">−6</text>
<text transform="translate(437.5 361.6) rotate(90)" font-size="10.2" text-anchor="middle" fill="#111">acylcarnitine profiles</text>
<rect x="568.6" y="5.2" width="109.9" height="189" fill="#fff"/>
<rect x="568.6" y="199.6" width="109.9" height="113.1" fill="#fff"/>
<rect x="568.6" y="317.7" width="109.9" height="66.1" fill="#fff"/>
<path d="M584.3 5.2V194.2M584.3 199.6V312.7M584.3 317.7V383.8M610.6 5.2V194.2M610.6 199.6V312.7M610.6 317.7V383.8M636.8 5.2V194.2M636.8 199.6V312.7M636.8 317.7V383.8M663.4 5.2V194.2M663.4 199.6V312.7M663.4 317.7V383.8M568.6 186H678.5M568.6 158.2H678.5M568.6 130.4H678.5M568.6 102.6H678.5M568.6 74.8H678.5M568.6 47H678.5M568.6 19.2H678.5M568.6 308.1H678.5M568.6 291.8H678.5M568.6 275.5H678.5M568.6 259.2H678.5M568.6 242.9H678.5M568.6 226.6H678.5M568.6 210.3H678.5M568.6 378.6H678.5M568.6 371.1H678.5M568.6 363.5H678.5M568.6 356H678.5M568.6 348.4H678.5M568.6 340.9H678.5M568.6 333.3H678.5M568.6 325.8H678.5M568.6 318.2H678.5" stroke="#ebebeb" stroke-width="0.7" fill="none"/>
<polygon points="583.5,110.6 583.4,110.9 583.3,111.3 583.2,111.8 583.1,112.5 582.9,113.4 582.8,114.6 582.7,116.2 582.6,118.2 582.4,120.4 582.3,122.8 582.2,125.2 582.1,127.4 582,129.5 581.9,131.6 581.8,133.6 581.7,135.8 581.5,138 581.4,140.3 581.2,142.9 581.1,145.7 580.9,148.7 580.7,151.5 580.6,154.1 580.4,156.4 580.3,158.2 580.2,159.7 580.1,160.9 580,162 579.9,163.2 579.7,164.4 579.5,165.8 579.4,167.1 579.2,168.5 579,169.9 578.7,171.2 578.3,172.4 577.8,173.6 577.2,174.7 576.5,175.8 575.9,176.9 575.2,177.9 574.7,178.8 574.3,179.7 573.9,180.6 573.5,181.4 573.3,182.2 573,182.9 572.8,183.5 572.7,184 572.6,184.5 572.5,184.8 572.5,185.2 572.5,185.4 572.5,185.6 596.1,185.6 596.1,185.4 596.1,185.2 596.1,184.8 596,184.5 595.9,184 595.8,183.5 595.6,182.9 595.3,182.2 595.1,181.4 594.7,180.6 594.3,179.7 593.9,178.8 593.4,177.9 592.7,176.9 592.1,175.8 591.4,174.7 590.8,173.6 590.3,172.4 589.9,171.2 589.6,169.9 589.4,168.5 589.2,167.1 589.1,165.8 588.9,164.4 588.7,163.2 588.6,162 588.5,160.9 588.4,159.7 588.3,158.2 588.2,156.4 588,154.1 587.9,151.5 587.7,148.7 587.5,145.7 587.4,142.9 587.2,140.3 587.1,138 586.9,135.8 586.8,133.6 586.7,131.6 586.6,129.5 586.5,127.4 586.4,125.2 586.3,122.8 586.1,120.4 586,118.2 585.9,116.2 585.8,114.6 585.7,113.4 585.5,112.5 585.4,111.8 585.3,111.3 585.2,110.9 585.1,110.6" fill="#36494f" stroke="#222" stroke-width="0.8" stroke-linejoin="round"/>
<polygon points="610,75.3 609.9,75.5 609.8,75.8 609.7,76.1 609.6,76.6 609.5,77.2 609.4,78 609.4,79 609.3,80.3 609.3,81.8 609.4,83.3 609.4,84.7 609.4,86 609.4,87.1 609.5,88.1 609.6,89 609.7,90 609.7,91 609.7,92.1 609.6,93.3 609.5,94.7 609.3,96.1 609.1,97.5 608.9,98.9 608.8,100.1 608.7,101.2 608.6,102.3 608.5,103.3 608.4,104.3 608.3,105.2 608.3,106 608.3,106.7 608.4,107.2 608.4,107.7 608.5,108.2 608.6,109 608.6,110 608.6,111.4 608.6,113.1 608.6,115 608.5,117.1 608.4,119.1 608.2,121 607.9,122.9 607.6,124.7 607.2,126.6 606.7,128.5 606.3,130.4 605.8,132.3 605.3,134.2 604.8,136.1 604.3,138 603.8,139.8 603.2,141.7 602.6,143.5 601.9,145.3 601.1,147.1 600.2,148.9 599.5,150.7 598.9,152.4 598.6,154 598.6,155.6 598.9,157 599.3,158.5 599.9,159.9 600.4,161.3 601,162.8 601.6,164.4 602.2,166 603,167.7 603.7,169.3 604.3,170.9 604.8,172.4 605.2,173.8 605.5,175.3 605.8,176.7 606,177.9 606.1,179.1 606.3,180 606.4,180.7 606.5,181.3 606.5,181.7 606.6,182 606.6,182.2 606.6,182.4 614.6,182.4 614.6,182.2 614.6,182 614.7,181.7 614.7,181.3 614.8,180.7 614.9,180 615.1,179.1 615.2,177.9 615.4,176.7 615.7,175.3 616,173.8 616.4,172.4 616.9,170.9 617.5,169.3 618.2,167.7 619,166 619.6,164.4 620.2,162.8 620.8,161.3 621.3,159.9 621.9,158.5 622.3,157 622.6,155.6 622.6,154 622.3,152.4 621.7,150.7 621,148.9 620.1,147.1 619.3,145.3 618.6,143.5 618,141.7 617.4,139.8 616.9,138 616.4,136.1 615.9,134.2 615.4,132.3 614.9,130.4 614.5,128.5 614,126.6 613.6,124.7 613.3,122.9 613,121 612.8,119.1 612.7,117.1 612.6,115 612.6,113.1 612.6,111.4 612.6,110 612.6,109 612.7,108.2 612.8,107.7 612.8,107.2 612.9,106.7 612.9,106 612.9,105.2 612.8,104.3 612.7,103.3 612.6,102.3 612.5,101.2 612.4,100.1 612.3,98.9 612.1,97.5 611.9,96.1 611.7,94.7 611.6,93.3 611.5,92.1 611.5,91 611.5,90 611.6,89 611.7,88.1 611.8,87.1 611.8,86 611.8,84.7 611.8,83.3 611.9,81.8 611.9,80.3 611.8,79 611.8,78 611.7,77.2 611.6,76.6 611.5,76.1 611.4,75.8 611.3,75.5 611.2,75.3" fill="#e3913f" stroke="#222" stroke-width="0.8" stroke-linejoin="round"/>
<polygon points="633.1,13.4 630.2,40 627.8,60 627.4,75 627.4,100 627.2,134 626.6,165 625.8,178 625.5,186 648.1,186 647.8,178 647,165 646.4,134 646.2,100 646.2,75 645.8,60 643.4,40 640.5,13.4" fill="#10a3d8" stroke="#222" stroke-width="0.8" stroke-linejoin="round"/>
<polygon points="662.5,118.6 662.5,119.2 662.5,119.9 662.5,120.9 662.4,122 662.4,123.4 662.4,125 662.4,127 662.3,129.4 662.3,132 662.3,134.7 662.2,137.4 662.2,140 662.2,142.6 662.1,145.2 662.1,147.8 662,150.4 662,152.8 661.9,155 661.8,156.9 661.8,158.6 661.8,160.1 661.7,161.6 661.6,163 661.5,164.4 661.4,165.8 661.2,167.2 661.1,168.6 660.9,169.9 660.6,171.2 660.2,172.4 659.6,173.6 658.9,174.7 658.1,175.8 657.3,176.9 656.5,177.9 655.8,178.8 655.2,179.7 654.6,180.6 654,181.4 653.5,182.2 653,182.9 652.6,183.5 652.3,184 652,184.5 651.9,184.8 651.7,185.2 651.6,185.4 651.5,185.6 675.3,185.6 675.2,185.4 675.1,185.2 674.9,184.8 674.8,184.5 674.5,184 674.2,183.5 673.8,182.9 673.3,182.2 672.8,181.4 672.2,180.6 671.6,179.7 671,178.8 670.3,177.9 669.5,176.9 668.7,175.8 667.9,174.7 667.2,173.6 666.6,172.4 666.2,171.2 665.9,169.9 665.7,168.6 665.6,167.2 665.4,165.8 665.3,164.4 665.2,163 665.1,161.6 665,160.1 665,158.6 665,156.9 664.9,155 664.8,152.8 664.8,150.4 664.7,147.8 664.7,145.2 664.6,142.6 664.6,140 664.6,137.4 664.5,134.7 664.5,132 664.5,129.4 664.4,127 664.4,125 664.4,123.4 664.4,122 664.3,120.9 664.3,119.9 664.3,119.2 664.3,118.6" fill="#b6423f" stroke="#222" stroke-width="0.8" stroke-linejoin="round"/>
<path d="M584.3 129V185.5M610.6 123.5V182M636.8 13.4V186M663.4 150V185.5" stroke="#555" stroke-width="0.8" fill="none"/>
<rect x="583.3" y="160" width="2" height="25" fill="#666" stroke="#444" stroke-width="0.4"/>
<rect x="609.6" y="138.5" width="2" height="20" fill="#aaa" stroke="#555" stroke-width="0.4"/>
<rect x="636" y="80" width="1.6" height="98" fill="#777" stroke="#555" stroke-width="0.3"/>
<rect x="662.4" y="170" width="2" height="15" fill="#666" stroke="#444" stroke-width="0.4"/>
<circle cx="584.3" cy="110.8" r="1.6" fill="#333"/>
<circle cx="610.6" cy="75.6" r="1.6" fill="#333"/>
<circle cx="610.6" cy="108.3" r="1.6" fill="#333"/>
<circle cx="663.4" cy="119.5" r="1.6" fill="#333"/>
<circle cx="663.4" cy="121.5" r="1.6" fill="#333"/>
<circle cx="663.4" cy="123.5" r="1.6" fill="#333"/>
<circle cx="663.4" cy="126" r="1.6" fill="#333"/>
<circle cx="663.4" cy="129.5" r="1.6" fill="#333"/>
<circle cx="663.4" cy="132.4" r="1.6" fill="#333"/>
<circle cx="663.4" cy="134.5" r="1.6" fill="#333"/>
<circle cx="663.4" cy="139.5" r="1.6" fill="#333"/>
<polygon points="583.7,288.7 583.5,289.2 583.3,289.8 583,290.6 582.6,291.4 582.2,292.3 581.8,293 581.3,293.7 580.8,294.4 580.3,295 579.7,295.7 579,296.3 578.3,297 577.3,297.7 576.1,298.3 574.8,299 573.7,299.7 572.8,300.3 572.4,300.9 572.6,301.5 573.2,302 574.2,302.5 575.3,303 576.4,303.5 577.3,304 578.2,304.6 579.1,305.3 580.1,305.9 581,306.6 581.8,307.1 582.3,307.5 586.3,307.5 586.8,307.1 587.6,306.6 588.5,305.9 589.5,305.3 590.4,304.6 591.3,304 592.2,303.5 593.3,303 594.4,302.5 595.4,302 596,301.5 596.2,300.9 595.8,300.3 594.9,299.7 593.8,299 592.5,298.3 591.3,297.7 590.3,297 589.6,296.3 588.9,295.7 588.3,295 587.8,294.4 587.3,293.7 586.8,293 586.4,292.3 586,291.4 585.6,290.6 585.3,289.8 585.1,289.2 584.9,288.7" fill="#36494f" stroke="#222" stroke-width="0.8" stroke-linejoin="round"/>
<path d="M584.3 204.5V290" stroke="#333" stroke-width="0.8"/>
<circle cx="584.3" cy="204.5" r="1.6" fill="#333"/>
<polygon points="657.9,294.5 657.9,294.7 657.8,295 657.7,295.3 657.7,295.7 657.5,296.1 657.4,296.5 657.2,296.9 657.1,297.3 656.9,297.7 656.6,298.1 656.3,298.6 655.9,299 655.3,299.4 654.6,299.9 653.8,300.3 653.1,300.7 652.4,301.1 651.9,301.5 651.6,301.8 651.5,302.2 651.4,302.5 651.5,302.8 651.5,303 651.5,303.2 675.3,303.2 675.3,303 675.3,302.8 675.4,302.5 675.3,302.2 675.2,301.8 674.9,301.5 674.4,301.1 673.7,300.7 673,300.3 672.2,299.9 671.5,299.4 670.9,299 670.5,298.6 670.2,298.1 669.9,297.7 669.7,297.3 669.6,296.9 669.4,296.5 669.3,296.1 669.1,295.7 669.1,295.3 669,295 668.9,294.7 668.9,294.5" fill="#b6423f" stroke="#222" stroke-width="0.8" stroke-linejoin="round"/>
<polygon points="581.8,379.8 572.4,380.8 582.3,381.8 586.3,381.8 596.2,380.8 586.8,379.8" fill="#36494f" stroke="#222" stroke-width="0.8" stroke-linejoin="round"/>
<path d="M584.3 370.5V380M580.5 370.5H588" stroke="#333" stroke-width="0.8"/>
<circle cx="584.3" cy="370.5" r="1.6" fill="#333"/>
<polygon points="652.1,320.6 652.1,321.2 652.1,321.9 652.1,322.9 652.1,323.9 652.1,324.9 652.2,326 652.2,327.1 652.3,328.2 652.3,329.3 652.4,330.5 652.6,331.8 652.9,333 653.5,334.3 654.2,335.6 655.1,337 656,338.4 656.6,339.7 656.9,341 656.8,342.2 656.4,343.4 655.8,344.6 655.1,345.8 654.4,346.9 653.9,348 653.5,349.1 653.1,350.2 652.8,351.2 652.5,352.2 652.3,353.2 652.1,354 652,354.8 652,355.5 652,356.1 652,356.6 652.1,357.1 652.1,357.4 674.7,357.4 674.7,357.1 674.8,356.6 674.8,356.1 674.8,355.5 674.8,354.8 674.7,354 674.5,353.2 674.3,352.2 674,351.2 673.7,350.2 673.3,349.1 672.9,348 672.4,346.9 671.7,345.8 671,344.6 670.4,343.4 670,342.2 669.9,341 670.2,339.7 670.8,338.4 671.7,337 672.6,335.6 673.3,334.3 673.9,333 674.2,331.8 674.4,330.5 674.5,329.3 674.5,328.2 674.6,327.1 674.6,326 674.7,324.9 674.7,323.9 674.7,322.9 674.7,321.9 674.7,321.2 674.7,320.6" fill="#b6423f" stroke="#222" stroke-width="0.8" stroke-linejoin="round"/>
<path d="M663.4 322V356" stroke="#555" stroke-width="1"/>
<rect x="662.6" y="328" width="1.6" height="22" fill="#777" stroke="#444" stroke-width="0.3"/>
<rect x="551.3" y="5.2" width="17.3" height="189" fill="#d9d9d9" stroke="#333" stroke-width="0.9"/>
<rect x="568.6" y="5.2" width="109.9" height="189" fill="none" stroke="#333" stroke-width="0.9"/>
<text transform="translate(563.2 99.7) rotate(-90)" font-size="10.2" text-anchor="middle" fill="#1a1a1a">Acylcarnitines</text>
<rect x="551.3" y="199.6" width="17.3" height="113.1" fill="#d9d9d9" stroke="#333" stroke-width="0.9"/>
<rect x="568.6" y="199.6" width="109.9" height="113.1" fill="none" stroke="#333" stroke-width="0.9"/>
<text transform="translate(563.2 256.1) rotate(-90)" font-size="10.2" text-anchor="middle" fill="#1a1a1a">Epistatic effects</text>
<rect x="551.3" y="317.7" width="17.3" height="66.1" fill="#d9d9d9" stroke="#333" stroke-width="0.9"/>
<rect x="568.6" y="317.7" width="109.9" height="66.1" fill="none" stroke="#333" stroke-width="0.9"/>
<text transform="translate(563.2 350.8) rotate(-90)" font-size="10.2" text-anchor="middle" fill="#1a1a1a">Single SNPs</text>
<text x="546.6" y="23" font-size="10.4" text-anchor="end" fill="#333">60%</text>
<path d="M548 19.4H550.8" stroke="#333" stroke-width="0.8"/>
<text x="546.6" y="78.5" font-size="10.4" text-anchor="end" fill="#333">40%</text>
<path d="M548 74.9H550.8" stroke="#333" stroke-width="0.8"/>
<text x="546.6" y="134" font-size="10.4" text-anchor="end" fill="#333">20%</text>
<path d="M548 130.4H550.8" stroke="#333" stroke-width="0.8"/>
<text x="546.6" y="189.6" font-size="10.4" text-anchor="end" fill="#333">0%</text>
<path d="M548 186H550.8" stroke="#333" stroke-width="0.8"/>
<text x="546.6" y="213.9" font-size="10.4" text-anchor="end" fill="#333">30%</text>
<path d="M548 210.3H550.8" stroke="#333" stroke-width="0.8"/>
<text x="546.6" y="246.7" font-size="10.4" text-anchor="end" fill="#333">20%</text>
<path d="M548 243.1H550.8" stroke="#333" stroke-width="0.8"/>
<text x="546.6" y="279.2" font-size="10.4" text-anchor="end" fill="#333">10%</text>
<path d="M548 275.6H550.8" stroke="#333" stroke-width="0.8"/>
<text x="546.6" y="311.7" font-size="10.4" text-anchor="end" fill="#333">0%</text>
<path d="M548 308.1H550.8" stroke="#333" stroke-width="0.8"/>
<text x="546.6" y="321.9" font-size="10.4" text-anchor="end" fill="#333">5%</text>
<path d="M548 318.3H550.8" stroke="#333" stroke-width="0.8"/>
<text x="546.6" y="337" font-size="10.4" text-anchor="end" fill="#333">4%</text>
<path d="M548 333.4H550.8" stroke="#333" stroke-width="0.8"/>
<text x="546.6" y="352.3" font-size="10.4" text-anchor="end" fill="#333">3%</text>
<path d="M548 348.7H550.8" stroke="#333" stroke-width="0.8"/>
<text x="546.6" y="367.1" font-size="10.4" text-anchor="end" fill="#333">2%</text>
<path d="M548 363.5H550.8" stroke="#333" stroke-width="0.8"/>
<text x="546.6" y="382.2" font-size="10.4" text-anchor="end" fill="#333">1%</text>
<path d="M548 378.6H550.8" stroke="#333" stroke-width="0.8"/>
<path d="M584.3 383.8V386.5" stroke="#333" stroke-width="0.8"/>
<text transform="translate(589.5 393) rotate(-45)" font-size="10.8" text-anchor="end" fill="#333">2 vs. 3</text>
<path d="M610.6 383.8V386.5" stroke="#333" stroke-width="0.8"/>
<text transform="translate(615.8 393) rotate(-45)" font-size="10.8" text-anchor="end" fill="#333">4 vs. 5</text>
<path d="M636.8 383.8V386.5" stroke="#333" stroke-width="0.8"/>
<text transform="translate(642 393) rotate(-45)" font-size="10.8" text-anchor="end" fill="#333">6 vs. 7</text>
<path d="M663.4 383.8V386.5" stroke="#333" stroke-width="0.8"/>
<text transform="translate(668.6 393) rotate(-45)" font-size="10.8" text-anchor="end" fill="#333">8 vs. 9</text>
<text x="623.5" y="427" font-size="10.2" text-anchor="middle" fill="#111">Clusters</text>
<text transform="translate(521.3 194.6) rotate(-90)" font-size="10.2" text-anchor="middle" fill="#111">Variance explained</text>
<text x="514.3" y="9.4" font-size="12.5" font-weight="bold" fill="#000">j</text>
<defs><marker id="msl" markerUnits="userSpaceOnUse" viewBox="-3 -3 6 6" refX="0" refY="0" markerWidth="6" markerHeight="6" overflow="visible"><circle r="1.9" fill="#36494f" fill-opacity="0.42" stroke="#000" stroke-opacity="0.6" stroke-width="0.5"/></marker><marker id="mor" markerUnits="userSpaceOnUse" viewBox="-3 -3 6 6" refX="0" refY="0" markerWidth="6" markerHeight="6" overflow="visible"><circle r="1.9" fill="#e3913f" fill-opacity="0.45" stroke="#1e1206" stroke-opacity="0.7" stroke-width="0.5"/></marker><marker id="mot" markerUnits="userSpaceOnUse" viewBox="-3 -3 6 6" refX="0" refY="0" markerWidth="6" markerHeight="6" overflow="visible"><circle r="1.9" fill="none" stroke="#000" stroke-opacity="0.68" stroke-width="0.5"/></marker></defs>
<text transform="translate(9.6 531.7) rotate(-90)" font-size="10.2" text-anchor="middle" fill="#111">CSF p−tau*</text>
<text x="-1" y="448.6" font-size="12.5" font-weight="bold" fill="#000">b</text>
<path d="M66.5 470.1V610.5" stroke="#111" stroke-width="0.9"/>
<polygon points="45.3,526.3 87.7,526.3 87.7,544.4 79.6,547.8 87.7,551.1 87.7,569.2 45.3,569.2 45.3,551.1 53.4,547.8 45.3,544.4" fill="#36494f" stroke="#111" stroke-width="1"/>
<path d="M53.4 547.8H79.6" stroke="#000" stroke-width="2"/>
<path d="M64.8 534.9l-7.7 7.7 14.1 -0.6 2.4 23.7 -17.7 5.5 0.2 -60.2 6.9 15 -6.6 -7.8 12.1 -0.7 -3.9 78.3 3.5 -12.6 -5.8 -22.3 -2 -28.6 8.2 51.1 -6.1 -42.2 5.1 43.7 8 -29.7 -11.1 11.5 8.2 14.9 -13.8 -52.8 -3.6 3.9 9.8 -18.9 -1.6 19.1 12.3 -0.6 -6 35.3 -3 -3 4.5 -51.4 2.5 34.1 -6.9 -5.3 -3.1 7 1.3 54.6 2.5 -75.9 1 16.4 -4.9 18.3 -4.3 -12.1 -1.3 -9.3 10.3 54.1 -4.7 -91.2 -0.2 88.1 14.2 -11.5 -2.9 -26.4 -11.4 -67.5 -2.4 13.4 -1.2 73.8 17.9 -6.9 -13.6 -24.6 10.1 -6.8 -9.8 0.3 -6.2 45.2 1.8 -49.2 10.5 67.6 -10.2 -75.3 12 42.6 -17.3 4.1 7.5 -0.6 3.7 -16.6 6.7 14 -2.2 -10.3 0.2 -23.1 -7.3 67.9 3.2 -10.3 -4.2 16.3 -2 -79 11.7 59.1 -13 -84.5 3.5 5.3 6.5 26.7 -9 59.9 2.4 -112.4 11.4 64.2 -2.1 -38.2 -0.1 88.7 4.5 -82.8 0 12.1 -19.3 39.9 10.6 -45.2 9.5 -33.2 -18.8 64.8 17.1 -16.1 -5.3 -1.8 -14.4 43.8 3.8 -55.8 6.7 34.3 5.4 26.6 -12.5 -41.8 5 -3 11.7 35.4 -2.5 -23.8 -8.6 48.1 9.9 -29.4 -15.7 -54.3 18 43 -5.5 23.8 -5.8 -64 -4.9 44.8 -0.9 -22.9 9.6 -19.5 2.9 74.5 5.2 -25.7 -10.3 21.8 -1.2 -36.1 -3.4 7.3 4.1 -38.2 3.7 61.2 7.5 -51.7 -15.7 63 3.2 -16.4 0.2 -6.1 -9 -34.5 6.3 -5 -0.9 47.1 6.3 -61.7 -3.8 37 2.7 11.9 -9.9 13.3 -2.4 -80.7 12 38.2 -4.5 17.3 -6.4 -61.5 13.9 36.3 1.4 -8.6 -3.5 -15.4 -4.7 -5.9 5.9 31.8 -8.5 -1 10.2 -14.1 -4.1 -0.3 3.1 39.1 -8.6 -12.7 9 32.7 -0.6 -16.1 -1.7 -48.9 -8 5.7 4.5 34.2 -8.1 -55.5 2.7 88.4 12.1 -42.8 -12.3 -50.6 15.1 39.5 -10.8 78.2 13.6 -72.6 -18.5 33.1 15.9 -1.2 -1.3 -38.4 -11 56 6.8 -31.2 8.6 -57 -11.6 34.2 -1.8 56.4 12.8 -51.1 -5.5 1.3 1.2 -27.8 -1.3 41.9 -13.1 -21.1 17.6 12.5 -1.6 8.5 -0.8 -3 -16.1 9 0.7 10.3 13.6 -61.6 5.7 12.4 -2 49.8 -1.6 -43 3.8 16.1 -12.6 4.9 3 -7.1 4.9 27.5 -15.5 -11.7 19.3 39.3 -8.2 -104.5 1.3 35.9 3.3 10.2 -12 -45.9 14.3 25.7 -14.6 44.3 -4.7 1.3 2.6 -31.4 7.9 -6.3 -8.8 -9.6 9.6 -7.7 -5.7 62.2 3.5 38.5 1.9 -96.2 8.1 6.3 -18.3 43.8 4.8 -11 -4.4 11.6 16.5 -65.5 -6.8 95.9 9.3 -75.9 -4.1 4.7 5.3 24 -5.5 6.8 -2.1 -2.2 -14.2 -38.3 1.1 33.9 6.1 24.5 -3.9 25.6 9.3 -45.8 -6.6 -26.3 -1 18 9.2 7.8 -5.5 9.7 -2.5 -17 8.4 -2.8 0.8 29.8 -3.3 -14.2 -9.9 -13.3 1.5 0.5 18.3 -68.5 -21.6 68.5 18.8 -2.5 -11.5 -13.5 -0.1 35.9 3 2.7 4.3 2.1 0 -17.6 -0.1 -19.8 4.6 -17.1 -5.9 33.3 -9.1 40.6 16.2 -25.4 -7.3 -25.5 -5.7 -21.8 8.6 66.4 -1.9 -28.5 3.4 -42.6 -5.4 36.1 2 -52.2 -12.5 21.4 12.5 10.2 -4.6 13.9 4.5 38.7 5.1 1.9 -18.4 -20.7 14.5 15.7 -0.5 -35.5 4.8 -41.3 -12.1 15.2 0 20.8 2.7 16.3 2.2 -63.5 1.9 30.4 -11.9 2.7 10 40.9 -11 -34.8 19.7 -10.2 -20.8 35 9.5 -3.7 -3.1 31.9 -1.4 -63.3 5.9 -7.7 -0.9 63.2 -4.2 -38.6 0.7 65.4 2.5 -41.4 -7.1 -15 4.9 20.4 -2.5 10.4 15.6 -24.9 -10.1 -23.2 11.7 50.1 -8.3 -18.9 -13.9 -31.4 23.1 -19.1 -13.2 43.7 11.2 21 -7.6 -30.6 -9 64 -1 -31.2 -2.2 9.9 6.3 -22.8 12.8 -1.8 0.2 1.7 -3.4 4.5 -7.2 -64.5 -3.3 41.3 -4 14 2.6 -31.1 10 70.9 -5.6 -5.1 3.4 -38.5 -4.6 23.2 -4.8 -15.8 1.6 30.1 8.4 3.1 -12.3 -27.9 -0.6 -28.6 5.7 13.6 5.3 16.5 -0.8 -30.8 -5.9 -26.4 17 60 -14.3 21.4 5.5 -48.7 -12.5 51.6 0.2 -32.2 1.3 -43.8 10.7 24.8 -7.5 20.9 0.6 17.6 4.5 -26.3 0.1 8.3 -7.8 -89.6 14.4 77 0.7 18.3 -0.6 -53.6 1 52.4 2.4 -35.4 -3.5 57.5 2.2 -17.4 2.1 -43.5 -3.1 72.9 -2.3 -102.8 -9.5 64.2 9.2 -35.4 -12.5 44 15.4 -27.4 -6.5 -1.9 -11.1 -11.1 18.8 36.1 -7.1 -30 -12.5 48.2 19.2 -37.5 -6.5 -2.4 5.2 5.2 2.7 -47.6 2.1 32.7 -0.2 25.5 -16.9 28.7 4 11.1 13.1 -79.8 -6.7 5.1 -11.5 50 5.1 -34.1 3.3 15.9 -3.9 -45 2.2 63.8 -0.3 -9.3 2.3 -55.9 4 94.4 -10.3 -50.7 -4.1 -24.3 11.7 11.2 3 3.6 -4.6 -13.3 4.2 -45.3 0.7 83.3 -14.5 -90.7 4.3 102.5 -4.5 11.3 2.8 -33.9 4.7 -22.2 9.9 -48 -16.6 86.5 14.6 8.6 0.4 -66.9 -18.8 -3.7 6.7 2.1 -4.3 -3.3 12.4 24 -7.8 61.3 15.5 -80.9 -11.4 22.2 0.1 0.7 -7.5 4.9 1.5 10.3 9.7 48.3 -9.9 -78.4 7.4 65.7 -10.4 -77.3 8.1 40.1 -5.3 -10 14.8 14.7 -18.2 -37 8 13.3 0.2 5.4 -3.9 -37.8 -3.2 68.6 2.2 36.2 12.6 -39.9 4.4 34.9 -18.2 -113.8 5 46.1 3 55 1.1 -70.7 -1.6 51 -9.1 -74 18.5 45.1 -15 -33.2 10 39.7 3.2 39.4 3.9 0.2 -11.8 -55 10.4 1.8 -9.4 32.9 -4.9 -30.7 3.3 -38 9 23.6 -16.9 4.6" fill="none" stroke="none" marker-start="url(#msl)" marker-mid="url(#msl)" marker-end="url(#msl)"/>
<path d="M126.5 465V609.6" stroke="#111" stroke-width="0.9"/>
<polygon points="105.1,522.8 147.9,522.8 147.9,541.6 139.8,544.3 147.9,547 147.9,561.8 105.1,561.8 105.1,547 113.2,544.3 105.1,541.6" fill="#e3913f" stroke="#111" stroke-width="1"/>
<path d="M113.2 544.3H139.8" stroke="#000" stroke-width="2"/>
<path d="M134.6 527.2l-18.7 57 9.2 -53.7 -4.8 50.7 17.6 -68.1 -12.1 48.9 -3 -50.3 13.4 24.4 1.6 5.1 -18.5 15.6 3 -1.6 -0.9 -38.5 1 21.6 15.9 -14.7 -16.3 54.4 9.9 -81.1 2.1 25 -16.9 61.8 14.6 -80.3 -2.5 55 -3.5 23.3 3.3 -5.6 5.7 -46.8 -10.8 35.3 -5.1 -54.2 16.6 34.9 -19.5 2.4 9.1 -28.3 -3.2 -19.8 8.1 39.4 -9.4 53.7 -3.5 -106.2 16.5 63.3 -9.4 50 -3.1 -46.6 15.9 10.4 -9.2 -63.5 3.8 104.3 5.1 -39.9 -4.3 -43.9 -7.8 7.3 11.8 23 -0.7 -57.9 -14.6 76.7 4.5 -22.1 -10.5 10.9 9.4 4.4 6.1 -26.9 6.2 37 -14.8 28.5 -1.2 -41 13.9 -44.1 -4.6 15.7 -8.4 56.2 -4.7 -34.9 21.2 -60.6 -5.5 38.5 3.6 -3.7 -9.5 -24.1 -9 -20.1 12.3 82.4 -0.5 -15.1 5.5 -41.8 -4.4 95.3 3.8 -51.9 -8 53.8 -7 -135.3 0.3 102.3 5 0.5 1.8 -3.7 2.2 -34 3.7 -22.6 -12.7 34.9 6.4 10 6 -17.4 -12 28.1 -0.8 -4.8 15.2 -76.7 -8.7 63.6 1.7 -4.5 -1.3 -23.3 -0.3 0 9.9 -5.8 -14.2 41.4 6.9 -14 3.8 17.5 -0.1 -22.7 -13.8 13.6 16.4 -34.7 -16.2 31.4 1.3 -43.9 16.4 41.6 -11.5 -15.7 -4.6 60.5 11.9 -8.7 -0.6 6 -9.9 -77.2 5.7 18.6 -12.5 33.7 7.2 16 -0.6 -29.4 -2.1 -38.7 16.2 25.5 -15.7 -29.3 16 -8.9 -0.2 55.4 -16.3 -12.4 -0.6 21.2 2.5 1.6 -4 -11.5 17.4 3.2 -15.2 -16.3 -4.6 10.2 3.5 11 13.6 11.4 -3.3 -13.9 9.1 -14 -4.5 13 0.6 -18 -0.8 0.6 -3.4 54.8 -2.8 -100.5 -3.1 14.1 1.3 25.3 -1.6 42.9 -6.4 -83.6 9.9 50.3 -3.9 -59.4 1.5 -4.4 -6.5 125.9 17.3 -56 -3.8 -20.2 3.2 33.1 3.4 -59.8 -8.1 24.5 -4.8 -14.6 -0.8 64 3.8 -27.4 -3.7 14.3 8.6 -36.3 -12.9 -3.9 16.4 -9.2 0.8 0.3 -5.9 27.1 -5 -3 -9.6 -45.7 4.5 42.8 3 1.8 3.3 -58.2 2.7 75.7 -6.9 29.2 6.5 -2.1 -9 -43.5 3.2 -17.2 -8.5 33.8 6.5 -52.1 11.1 83.5 -8.4 -9.8 11.6 -28.7 -6.1 0 -5.9 -8.9 -2.7 18.1 -3.3 -42.9 19 72.4 -9.6 -48.3 -2.9 -11.3 11.1 6.8 -4.6 11.8 -0.2 4.6 -15.8 -23.5 7.4 19.6 15.2 -15.8 -8.2 -9.7 -0.3 54.4 7.8 -45.2 -0.4 69.8 -16.4 -15.3 -3.2 -104.7 17.9 68.7 2.5 2.2 -10.6 -15.5 -11.2 30.3 3.3 31.8 -0.9 -73.4 4.2 36.6 -0.2 -40.4 3.9 -17.2 2.8 20.9 3.9 49.6 -5.2 -90 -2.8 104.5 -0.4 -85.5 1.8 50.2 -9.7 -5.3 0.9 -52.2 2.1 74.5 4.6 -7 0 13.7 -8.4 -38.3 0.4 -26.5 4 30.8 -0.9 -6.5 18.7 32.5 -6.8 -58.2 1.4 15.9 -3.1 52.7 -11.8 -65.3 13.1 28 -12.5 23.2 19.2 -46.6 -14.1 27.8 -1.3 -19.6 2.7 -1.2 -9.9 -26.4 20.2 29.4 2.8 19.9 -23.1 45.5 4.6 -35.3 -2 -27.8 3.5 58.6 8.8 -94.7 -6.8 23.5 -2.1 58.6 6.4 -18.7 10 -63.9 -18.7 46.8 12.2 40.6 2.1 -54.5 -9.7 40.9 9.9 -70 2.7 85.8 -16.9 -38.5 -2.7 26.6 16.9 -28.8 -15.2 -5.8 15.2 -11.5 -6.9 25.4 -3.1 18.7 -1.6 -17.8 15.8 -9.1 -8 20.9 -3.6 -64 2.6 78.1 4.9 -1.7 -7.6 -25.9 7.7 -28.2 -7.7 24.5 10.2 -3.3 -14.4 -20.1 6.1 -14.9 -8.7 32.7 6.5 29.9 -3.4 -34.7 -2 7.9 8 52.8 0.7 -62.9 3.8 3.1 -9.8 -31.4 4 27.7 -3.8 -31.6 -3.9 50.6 9.4 -57 -13.1 69.3 1.7 -11.1 8.9 -41 1.3 51.2 10 -24.4 -15.2 -36.3 -1.7 81.2 -0.5 -50.9 -4.7 -44 11.8 26.7 -11.9 -12.9 7 44.3 -5.2 -4.2 8.9 46.7 -7.8 -28.3 4.3 -20.6 0.3 64 13.3 -107 -17.4 10.8 -2.2 29.9 12.9 16.5 -7.5 -58.1 13.6 52.9 -4.1 41 6.2 -93.4 -1.8 16.7 -0.3 37.8 -8.8 4.5 -6.6 -3.9 16 -81.4 -19 61.1 12.5 69.8 -2.2 -75 -3.5 8.5 -5.1 7.7 2.5 -40 14.3 49.5 1.9 -40.1 -17.3 48.7 0.4 17.1 14.9 -18.4 -14.1 38.6 5.6 -44.2 8.4 -21.5 -14 28.7 4.8 -79.6 11.1 90.7 -13.8 18.4 10.4 -7.6 -0.2 -73.5 -0.6 39.8 -4 -68.2 -12.3 86.6 15.7 -68 -3.5 88.4 -5.4 -71.3 -5.3 40.6 2.9 -48.3 15.6 46.6 -9.2 2.4 -6 -7.3 2.9 -25.7 13.3 0 -0.6 -2.7 -5.5 -44.2 6.2 103.7 -18.8 -19.1 11.4 4.2 7.5 -95.7 -12.5 87.4 6.6 40.1 -3.9 -94.7 7.5 87.7 -10.4 -14.3 -5.1 -81 9.9 20.4 -3.9 74.2 4.6 -43.9 0.1 -64 2.9 56.2 1.4 9.6 0.3 -12.7 -14.2 -1.2 -1.6 22.7 16 -4.4 -0.3 -11.3 -16.7 51 15.4 -71.9 -18.2 3.3 6.2 64.7 4.6 -16 4.6 19.1 -9.5 -10.5 -1.9 -50.5 2.8 -15.8 -0.6 55.5 -3.3 -9.1 6.9 -51.3 -2 50 -7.5 -42.8 16.5 5 4.7 37.1 -6.3 3.6 6.2 -40.5 -19.6 63.2 4.8 -34.4 1.6 33.9 8.4 -55.9 -5 0.4 -10 32.2 17.1 -2.4 -14.9 -54.2 14.8 22.6 -17.8 57.3 16.7 -26 -2.3 -15.4 5.1 -13.2 -2.9 28.1 -10.2 -30.4 12.1 -2.4 -11.8 35.2 6.3 3.7 -13.2 -8.5 12.5 4.5 5 -40.7 -15.2 18.8 1.3 6.4 2.9 27.7 3.7 -5.8 7.1 -50.6 -0.6 17.2 -4 38.4 6.7 -86.9 -5.7 44.2 8 15.2 -10.9 6.4 -7.4 -4 0.4 36 -3.6 -49.8 10.8 55.4 6.8 -48.2 -11.3 2.3 -2.7 37.8 17 -51.4 -13.1 3.8 -6.7 46.6 3.7 -37.1 -4.6 38.6 6.4 19.7 -1.7 -27.1 -2.1 -29.8 2.6 2.1 -5.2 -13.8 10.2 -22.6 -4.1 63 12.2 -18.3 0.1 13.2 -11.3 -29.2 14.6 -33.4 -17.9 36.3 16.9 -7.8 -10.6 45.3 5 -2.2 -1.2 -0.4 3.3 -50.4 0.8 -24.9 -15.7 57.1 -2.2 -35.5 9.2 -45.8 -3.6 63.7 14.1 -37.1 1.2 -7.4 -12.9 11.5 -4.3 20 7 55 -10.5 -58.9 2.5 -0.4 16.1 -8.7 -9.5 52.1 -2.4 -11.7 14.5 -46.2 -17.8 13.5 6.8 15.4 2.4 16.6 6.4 -22.1 -9 37.1 -6 -18.9 3.2 -33.5 9.3 18.4 -15.5 60 4.6 -87 -3.5 9.7 9.4 -24.5 -0.9 99.2 -5.6 -48.7 -2.9 -35.4 8.9 45.1 -11.8 2.4 10.7 -12.6 3.5 4.9 -9.1 22.5 6.5 -20.5 9.1 46.4 -21.4 -29.2 8.6 -41.7 1.3 11.7 0.3 57.7 1.8 -44.9 7.7 -1.6 -8.3 -15.2 2.7 -0.2 7.6 32.1 1.4 -45.4 -15.8 3.3 -1.3 21.2 6.8 -38.1 -11 59.3 3.3 -47.4 14.5 25.1 -14.3 -5.8 10.3 -25.7 -5.4 -24.4 -2.4 51 9.3 -73.6 5.5 96.8 -13.1 4.2 -8.9 -22.5 9.7 -23.4 -2.4 -23.2 -1 66.5 0.2 -40.1 -1.5 73.2 5.4 -49.7 4.6 -60.9 -3.1 80.9 -12.2 25.3 19.5 -37.7 -6.3 7.5 6.3 -1.6 -0.8 25.6 -13.3 -93.8 11.6 78.8 -4.5 2.3 0.4 -72.4 -10.5 25.2 -0.7 5.4 6 -34.9 2.4 95.9 -8.7 -7.4 20.9 -21.4 -5.9 -36.2 -9.2 12 3.5 28.3 0.9 5 5.8 -42.8 -4.1 41.4 -6.9 -40 -6.4 20.7" fill="none" stroke="none" marker-start="url(#mor)" marker-mid="url(#mor)" marker-end="url(#mor)"/>
<path d="M30.6 444.1V618.5H162.9" fill="none" stroke="#111" stroke-width="1.1"/>
<path d="M27.8 487.3H30.6" stroke="#111" stroke-width="0.9"/>
<text x="25.7" y="490.8" font-size="10" text-anchor="end" fill="#222">2</text>
<path d="M27.8 544.6H30.6" stroke="#111" stroke-width="0.9"/>
<text x="25.7" y="548.1" font-size="10" text-anchor="end" fill="#222">0</text>
<path d="M27.8 601.9H30.6" stroke="#111" stroke-width="0.9"/>
<text x="25.7" y="605.4" font-size="10" text-anchor="end" fill="#222">−2</text>
<path d="M67 618.5V621.3" stroke="#111" stroke-width="0.9"/>
<text x="67" y="631" font-size="10" text-anchor="middle" fill="#222">2</text>
<path d="M126.9 618.5V621.3" stroke="#111" stroke-width="0.9"/>
<text x="126.9" y="631" font-size="10" text-anchor="middle" fill="#222">3</text>
<text x="96.8" y="643" font-size="10.2" text-anchor="middle" fill="#111">Cluster</text>
<path d="M67 456.7V452.5H126.9V456.7" fill="none" stroke="#444" stroke-width="0.8"/>
<text x="97" y="451" font-size="10.3" text-anchor="middle" fill="#222">0.0029</text>
<text transform="translate(181.4 531.8) rotate(-90)" font-size="10.2" text-anchor="middle" fill="#111">FDG−PET*</text>
<text x="171.6" y="448.6" font-size="12.5" font-weight="bold" fill="#000">c</text>
<path d="M238.6 470.3V584.6" stroke="#111" stroke-width="0.9"/>
<polygon points="217.3,512.4 259.9,512.4 259.9,523.1 251.8,525.5 259.9,527.9 259.9,542.5 217.3,542.5 217.3,527.9 225.4,525.5 217.3,523.1" fill="#36494f" stroke="#111" stroke-width="1"/>
<path d="M225.4 525.5H251.8" stroke="#000" stroke-width="2"/>
<path d="M237.6 494.4l-6.4 25.4 16.6 -3.8 -7.8 -4.5 -3 42.4 1.4 -44.8 2.2 -48.6 3.3 32.7 -15.6 22.9 3.8 16.2 4 -14.8 10.2 -6.6 -7.7 48.4 10 -11.6 -5.9 -31.9 6.5 18.9 -13 -22.6 -7.2 42.5 -0.5 -27.6 16.6 -12.4 -1.6 35.1 -9.1 -23.6 -2.9 -16.3 0.6 25.1 -0.5 -59.7 17.1 65.4 -11.1 -53.4 -5.4 30.1 7 23.1 5.1 -4.7 3.5 37.8 -16.6 -73.8 3.9 24.9 -6.5 -2.7 9.6 7.8 -5.3 -16.4 2.3 -28.2 4.3 60.5 6.6 -27.9 -17.2 3.2 2.9 17.2 0.2 -26.3 0.5 2.8 9.6 -47 5.7 54.1 -9 -54.6 9.1 20.1 -8.8 52 7.5 -22.5 2.8 4 -1.3 50.9 -13.8 -72.1 8.2 23.5 -10.2 46.4 0.9 -65.4 5.9 14.2 -4.9 22.8 -4.1 -35.9 3.4 27.3 14.3 -43.7 -14 17.4 8.4 39.7 -10.4 -56 0.1 65.7 1.5 -87.7 2.7 39.5 7.7 16 -16.5 23.1 18.8 -16 -12.5 -8.2 -4.1 -13.3 4.4 55.7 2.8 -49.6 -6.7 47.5 8.4 -48.5 3.8 -8.9 -2.3 -6 -0.6 54.8 -11.4 -22.1 11.7 -0.9 -7.3 40.5 2.7 -67.4 10.7 21.9 -16.5 -37.3 15 65.7 0.7 -54 -7.5 4.5 10.3 -14 0.6 18.6 -7.2 -29.5 -5.6 34.3 12 -9.1 -12 8.1 3.8 -10.8 -7 24 -3.5 5.3 16.5 30.3 -1.4 -38.2 -16.6 -39.7 14.7 29.2 -6 -21.3 -1.8 45.2 0 13.5 9.4 -14.3 -12.8 -16.1 15.1 56 0.1 -23 -18.8 -45.9 5 -24 17.7 48.1 -18 -43.6 12 58.4 -16.8 -21 4 -17.6 15.1 29.7 1.3 -6 -10 38.3 1 -3.6 -5.9 -59.8 12.1 39.7 2.6 -2.7 -7.5 -20.3 -2.4 11.7 -10.4 -29.2 16.4 14 3.8 2.4 -14 -11.8 8.5 30 -13 19.8 7.3 -44.3 -2.1 -36.2 9.6 52.8 1.5 -6.9 -1.9 -21.4 5.8 26.2 0.4 -22.6 -9.7 39.7 -8.3 8.8 4.8 -17.5 3.9 31.5 -5 -43.5 -4 -11.1 4.1 12 1.2 -30 9.9 31.7 -17.5 -8.9 12.1 -39.8 -8.2 13.1 -0.7 44.7 16.8 -19.5 -11.8 25.5 7.3 -51.8 -1.6 9.1 -4.2 -0.3 9.9 22.7 -13.2 -20.7 6.4 7.3 -3.3 36.2 1.4 -27.8 -6.8 -14.9 0.6 15.9 2.1 18.3 7.4 -28.6 -14.2 9.5 5.1 -55.8 0.2 67.7 -0.5 30.9 12.3 -31 2.4 18.6 -15.9 -46 7.8 -8.8 7.3 2.4 -12.6 50.3 0.5 -15.1 3.9 -37.7 1.9 31.2 -11.6 -17.6 13.5 15.9 -12.4 -9.5 8.5 18.3 -1.3 -56.7 7.3 63.7 -9.8 -41.3 8 16.5 -5.2 -1.9 5.5 -3.9 -7.6 23.8 -1.6 0.4 -2.3 -47.4 -3.2 64.7 21.1 -33.7 -20.1 27.7 0.4 -33.6 9.4 10.4 2.3 -5 3.7 -2.7 -1.3 27.5 -12.8 -31.6 15.7 9.7 -14.7 6.2 -1.9 8.9 18.3 9.5 -2.5 0.6 -7.9 -14.7 -2.2 -24.2 10.8 15.1 -6.5 20.5 -5.7 36 10 -92.9 4.9 -11 -12.6 64.1 -3.4 -19.4 3.6 54.7 -3.5 -86.1 11 59.9 -4.7 -40.1 -6.2 2 7.2 -16.1 1.1 30.8 -14.5 -2.7 11.7 -3.5 -1 -8.2 -2.9 12.6 3.3 9.4 -2.2 7.1 11.9 -31.1 0.8 -33.6 -6.3 52.2 4.8 -5.6 -2.2 17.9 -6 -29.6 -0.7 50.7 7 -11.7 -19 17.1 11.1 -24.4 4.9 -38.5 -3.8 40.6 -5.8 -25.7 -2.7 13.4 0.6 -51.4 2.2 97.1 9.9 -50.7 -10.6 -33.7 5.6 21.6 -3.1 37.4 -7.6 -18.2 21.8 -8.1 0.2 7.5 -15.7 -28.5 2.1 -19.9 5.9 14.6 -10.1 32 12.9 -16.5 -0.9 48.8 -3.7 -27 -9.1 -2.2 5.9 8 8 -24.8 1.2 24.9 -16.4 -14 15.9 11 -5.2 -13.1 2.6 -4.3 -2.3 -12.5 -5.6 53.7 2.2 -53.8 -8 26.8 9.5 25.4 -3.3 -16.6 -7.8 -52.2 16.8 24.5 -2.3 47.2 2.3 -3.2 -4.1 -22.2 -0.9 -70.8 2 95.3 -1.8 -68.7 10.2 66.1 -18.6 -4.8 5.6 -49 7 25.1 -10 -13.9 5.2 30.3 -5.4 4.1 -6.7 -28.7 21.1 -18.2 -6.7 31.1 -5.9 -21.9 -4.2 2.1 6.9 -24 -7.9 7.8 16 64.3 -9.4 -34.2 3.6 -5.5 -1.5 -5.1 -11.1 -12.3 11.2 19.8 -6 5.6 -2 11.1 2 -35.9 2 45.9 11.1 -27.2 -1.5 -5.7 3.8 14.8 -15.6 -30.6 0.9 38 11.3 37.1 -15 -24.9 0.7 -93.2 6.6 72 9.4 14.3 -5.7 -31.7 -8.9 -5.5 9.4 32.2 0.4 -22.3 6.6 -37.2 -14.9 29.1 14.1 8.4 1.3 26.1 -14.3 -14.1 -3.8 18 12.3 -68.2 4.9 82.8 -10.3 -34.3 12.2 -14.3 -8.2 48.9 -5.6 -12.8 -0.5 -8.3 13.4 -20.3 -6 -29.1 -8.9 47.2 -5.8 17.1 21 9.2 -22.3 -46.5 9 -3.2 12.6 8.1 -4.2 17.5 -12.9 -47.1 11.7 -5.5 -8.5 -9.4 7.9 29.2 -7.1 -13 -5.6 14.3 -2.6 72.5 21.7 -91.5 -3.4 56.5 -5.5 -63.2 -3.2 88 8.5 -4.6 4.4 -22.7 -20 -24.7 0.8 -37.5 16.7 52.2 1.7 -51.4 -4.6 29.1 -0.8 -24.1 4.1 53.3 -17.1 -41 4.8 32.3 1.1 -54 12.9 10.1 -8.8 11.8 -5.4 3.9 -8 22.7 20.1 14.2 -2.4 2.6 -16 -16.5 17.7 4.4 -6.4 -37.5 8.1 62.2 -13 -43 -5.7 -3.6 2.6 -16.8 -1.6 44 -4.1 8.3 14.9 -71.2 -1.8 56.3 10.1 -17.5 -7.8 -25.5 6.3 46.5 -8.4 -15.4 -5.7 -25.8 14 57.5 -10.8 -10.3 -10.7 8.8 0.6 -44.2 19.6 -33.6 -2.6 41.9 -14.2 11.4 9.1 -37.1 -9.8 72.5 18.9 -31.5 -19.5 42.7 21.1 -41.9 -17.8 39.3 10.9 -21.5 -13.8 -72.1 16.1 64.1 -16.2 -3.5 1.2 -8.8 5 60 11 2.3 2 3.4 -3 2.4 -9 3.4 11 3.5 -12 5.7 8 -21.8" fill="none" stroke="none" marker-start="url(#msl)" marker-mid="url(#msl)" marker-end="url(#msl)"/>
<path d="M298.7 477.9V587.1" stroke="#111" stroke-width="0.9"/>
<polygon points="277.2,517 320.2,517 320.2,528.6 312,530.6 320.2,532.5 320.2,545.5 277.2,545.5 277.2,532.5 285.4,530.6 277.2,528.6" fill="#e3913f" stroke="#111" stroke-width="1"/>
<path d="M285.4 530.6H312" stroke="#000" stroke-width="2"/>
<path d="M292.9 554.6l16.8 -41.9 -21.9 73.6 8.3 -80.8 -8.3 47.9 4.2 -16.7 7.5 23.1 7.4 -80 -2.7 22.8 -5.9 12.8 11.2 15.8 -20 -29 9.1 48.1 -4.9 8.6 -1.6 -18.6 17.5 -3.9 -18.7 -23.1 -1 -1.2 -2.2 -47.6 14.7 90.1 5 -43.3 -1.6 15.7 -13.7 5.6 -2.4 32.7 10 -6.1 2.3 -51.1 3 32.8 -1.7 -2.7 -15.9 -16.3 12.6 -16.2 -9.8 37 12.1 13.2 -13.2 -19.5 16.1 1.1 -2.7 -36.3 -6.3 -27.2 5.7 47 -6.5 -36.2 -2.5 50.2 -2.9 24 11.3 -27 0.2 -9.8 -1.9 21 -9.5 -23.8 15.2 -35.1 -12 0.8 10 22.8 1.8 41.2 -11.8 12.5 10.4 -0.9 -7.2 -41.9 -7.4 32.4 10.6 -47.4 -5.1 56.5 -6.4 -51.1 0.4 28.3 -0.7 13.1 2.3 -47.2 -1.8 36 -0.4 15.2 11.7 -14.8 -10.3 22.5 -2.4 -30.2 11.9 -0.4 -2.8 0 -5.7 -20.9 -0.1 41.9 10.7 -29.6 -5.8 23.3 6.3 -8 -6.1 -29.6 11.6 33.4 3 -31.2 -14.1 16.7 8.2 43.6 -11.5 -7.2 -5.7 29.7 7.5 -25.5 15.5 -34.9 -2.9 -14 3.2 -21.6 -19.9 62.3 8.4 -55.2 0.8 -1.9 -11.3 -3.9 18.9 3.6 1.5 32.3 -5.6 17.7 -4.3 -8.6 6.2 -14.1 3.6 -0.6 -1.8 7.7 -12 22.5 13.1 -21 -7.7 -49.6 -4 74.4 0.8 -26.9 9 -35.1 -10.7 15.6 7.9 25.2 -12.1 25.8 16.7 -6.5 -20.3 -41.9 18.2 -1.6 -15 3.1 12.7 29.5 -6.3 -15.5 11 -0.3 -0.7 -33.7 1.4 66.9 -5.1 -29.2 -14 22.4 10.8 -2.8 -11.5 -25.8 4.7 -30.4 16.4 72.4 -0.1 -39.4 -13.8 27 -6.4 -1.1 10.5 -17.7 -10.7 -46.8 19.6 26.4 -11.7 -28.4 7 87 -1.6 -45.1 -8.2 37 -6.5 -31.2 1.1 -25.2 19.9 47.3 -20.4 -7.9 1.7 -32.1 10 -7.1 -1 48.7 10.6 -9.1 -21.1 -59.8 14.3 37.4 2.2 -45.3 -7.4 25.1 -10.6 -2.5 11.3 32 6.3 -7.3 -0.4 -53.6 -9.1 16.8 1.6 0.3 13.3 10 -15.5 53.3 -4.5 -39 8.4 20.6 -6 -23.5 10.1 16.6 -9.3 39.6 2.7 -85.1 13.7 24.7 -2.8 -10.9 -13 1.3 -6.9 37.6 22.3 -26.3 -22.6 48.3 21.2 -63.1 -14.1 71.9 -1.7 -48.6 2.3 27.3 -3.6 -30.2 -0.8 1.3 1.4 3.9 8.4 -17.1 -11.5 48.8 19.4 -7.4 0.1 -78 -15.3 76.9 9.3 -49.3 -14 58.4 4.3 -24.8 1.8 -0.7 1.5 -34.5 -0.4 59.6 -0.2 -31.7 9.3 31 -2.6 -15.5 0.2 -31.2 1.7 0.8 -2.7 -17 0.3 54.2 -5.8 -17.9 -0.7 -35.1 15 20.5 -15.7 -48.6 12.4 68.5 -13.3 -8.2 5.8 -11.4 4.2 24.7 1 29.2 -6 -13.6 -0.6 -11 8.8 -34.1 -3 -4.8 -13.9 16.4 18.3 -3.2 -15.3 28.4 2.1 -28.1 5.6 53.9 0.2 -56.4 7.6 66.1 -16.3 -106.4 6 90.2 -8.4 -15.8 11.2 -3 -9.3 -48.3 3 40.9 -5.4 -35.7 4.8 34.8 4.9 -0.6 -0.2 -6.7 -7 3.7 6.6 6.7 -1.7 -29.6 10.8 -15.3 -13.5 16.4 -3.4 -15.4 9.1 6.8 2.3 -2.9 8.3 27.4 -0.8 4.5 -3.3 -7.7 -16.8 -15.6 20.8 27.8 -19.6 2.9 -0.2 -3.5 13.9 -13.3 6.6 -2.5 -20 16.9 2.5 -8.5 8.1 -22.7 5.2 -26.1 3.3 40.4 -15.8 10.9 -3.7 2.7 13.8 -40.4 1.2 43.6 -13.8 -13.8 4.3 63.7 3.2 -30.7 -5.9 -38.3 -4.1 19.9 17.7 -47.5 1.1 11.5 -16.3 8.4 -1.7 29.7 11.8 -14.5 7.3 -22 -14 34.7 -3.5 6.4 13 22.8 -13.8 -39 17.8 -28.6 -1.2 29.7 -10.4 -29.6 9 52.1 -8 -13.5 12.9 -28 -23.3 24.6 20.5 -22.9 -17 38.2 6.1 -61.8 -3.3 12.7 -1.6 3.7 8.7 45.4 -1.3 -20.7 1.8 -1.7 -5.3 -24.3 4.4 -27.7 9.9 58 -14.1 -33.9 0.6 41.6 -2.9 -22 -3.3 -51 14.8 68.6 4 -42 -15.8 50.5 9.7 -58.3 -5.2 57.8 -6.7 -12.3 -3.6 48 20.6 -51.7 -1.1 1 -10 -19.6 -8.6 13.2 1.1 3.2 2.2 7.9 16.9 -37.3 -5.2 -15.7 -11.7 49.5 -0.3 16.5 2.2 -33.6 6.3 4 -1.2 -22.9 -4.6 14.7 12.9 -8.2 -2.7 9.9 -13.4 16.7 14.2 14.8 -9.7 -42.9 -4 9.3 9 -5.7 -1.7 13 10.9 -7.1 -17.4 45.2 -1.9 -24.2 3.2 -28.7 0.3 45.2 11.5 -23.9 -5.6 7.2 0.9 46.8 -5.9 -9 12.3 -13.7 -1.6 9.9 -11.7 -39.5 -2.9 20.3 5.1 -7.4 -5.9 -35.6 13.1 27.2 -13.2 26.4 9.4 -38.3 -1.2 35.5 1.9 -39.9 -11.9 -1.8 7 12.7 9.5 -5.5 2 0.4 -14.7 -11.2 4 14.9 0.2 -9.2 3.3 10.3 4.1 -7.1 -0.5 -14.3 -8.2 10.3 -4.7 46.4 15.6 -71.4 -2.2 31.8 -15.5 23.5 9.5 -4.8 7.5 -30.3 -4.3 2.3 3.2 -24.5 5.1 67.3 -7.2 -52.5 -1.9 -9.8 8.4 12 -4.5 1 -15.4 -18.4 7.9 55.8 2.2 -39.6 -0.9 53.6 -2.3 -13.7 2.7 -32.6 -7.1 26.2 10.9 -4.2 -2.6 17.5 -3.9 -12.5 4.2 -32.9 -5.6 20.7 3 16.2 -8.9 -4.2 13.4 1.9 3.7 -36.6 -12.5 2.1 5.2 13.6 6.2 -39.8 5 77.2 -18.9 2.8 13.9 -33.4 -11.6 2.8 6.6 -33.5 0.2 69.9 5.8 -69.5 -5.6 31.5 -5.2 -29.9 -3.8 32.8 4.3 -6.8 9 16.1 -14.7 15.3 1.1 -39.9 0.9 -43.2 16.5 79.5 -0.4 -16 -9.7 13.6 12.8 -9.6 -5.3 -34.5 -2.2 3.4 6.1 -18.6 -4.3 11.5 -14.2 0.8 -3.1 -21.4 18.1 56.7 -5.9 24.2 2.8 -41.4 2.7 3.2 -9.1 26.2 1.9 -57.1 4.5 48.1 -12 19.7 14.5 -18.4 -2.9 23.4 8.6 -24 -0.5 -5.1 -5.2 -7.9 -6.6 -37.3 -7.5 40.8 15.3 -27.4 -14 32.7 8 -45.6 -10.5 38.7 0.4 -29.8 12.1 14.4 0.3 6.4 -14.2 -49.2 4 30.8 3.7 51.5 0.6 -4.9 9.7 22.4 -4.5 -101.1 4.8 77.3 0.7 -55.8 -11.9 16.8 11.5 4.2 -11.9 31.3 -5 13.5 -0.8 -20.4 13.1 3.6 7.6 -35.8 -6 9.1 -14 16.3 18.4 -14.7 -4.4 5.7 -1.9 35.9 -12.3 -27.5 -1.8 48.3 16.1 -60 -12.6 -19 -2.5 13.6 21.3 -10.3 -19.6 13.6 5.2 29.1 -3.4 -26.7 -1.9 61.3 16.3 -94.7 -3.3 33.5 -3.3 33.1 4.9 -33.7 1.5 8.4 -18.2 36.2 13.3 16.2 -1.9 -52.6 6.7 9.1 0 1.9 2.3 9.6 -2.2 -23.3 -1.6 -15.7 5.3 85.3 -9.1 -98.9 -13.7 39.4 9 -14.7 -4 16.3 15.1 -13.4 -17.9 4.7 19.5 22.2 -5.9 -56.6 0 57.1 -16.1 -19.3 7.6 -34.5 9.5 25.9 -6.7 -6.1 4.7 28 0.8 -55.7 -5.3 25.7 -8.9 21.6 -1 -5 7.4 36.2 6.2 -80.1 -8.5 20.7 14.9 36.8 -11.6 35.8 -2.9 -76.2 10.5 19.6 -10.1 26.2 14.5 -63.7 -20.3 13.7 17.8 40.3 -1.4 -21.2 -15 18.2 1.5 -1.8 11.5 -26.5 7.1 -10.3 -16.1 30.9 13.1 -16 -11.6 -0.6 6.7 42.3 -5.1 -68.1 -4.6 30.7 9.9 18.9 4.6 27 -3 -38.2 -10.7 -16 -3.3 -16.9 9.7 41.4 -9.2 -29.7 20.7 38.5 -12.1 1.9 3 -39.1 1.4 59.7 7.2 -83.6 -1.2 18.2 -14.3 12.5 -3.3 6.4 9.7 8.7 6.8 -11.4 -0.1 34.4 -7 -62.9 0.9 27.4 0.8 26" fill="none" stroke="none" marker-start="url(#mor)" marker-mid="url(#mor)" marker-end="url(#mor)"/>
<path d="M202.5 444.1V618.5H335" fill="none" stroke="#111" stroke-width="1.1"/>
<path d="M199.7 484.1H202.5" stroke="#111" stroke-width="0.9"/>
<text x="197.6" y="487.6" font-size="10" text-anchor="end" fill="#222">2</text>
<path d="M199.7 530.1H202.5" stroke="#111" stroke-width="0.9"/>
<text x="197.6" y="533.6" font-size="10" text-anchor="end" fill="#222">0</text>
<path d="M199.7 576.1H202.5" stroke="#111" stroke-width="0.9"/>
<text x="197.6" y="579.6" font-size="10" text-anchor="end" fill="#222">−2</text>
<path d="M238.8 618.5V621.3" stroke="#111" stroke-width="0.9"/>
<text x="238.8" y="631" font-size="10" text-anchor="middle" fill="#222">2</text>
<path d="M298.7 618.5V621.3" stroke="#111" stroke-width="0.9"/>
<text x="298.7" y="631" font-size="10" text-anchor="middle" fill="#222">3</text>
<text x="268.8" y="643" font-size="10.2" text-anchor="middle" fill="#111">Cluster</text>
<path d="M238.8 456.7V452.5H298.7V456.7" fill="none" stroke="#444" stroke-width="0.8"/>
<text x="268.8" y="451" font-size="10.3" text-anchor="middle" fill="#222">0.004</text>
<text transform="translate(353.8 531.6) rotate(-90)" font-size="10.2" text-anchor="middle" fill="#111">ADAS−Cog. 13*</text>
<text x="343" y="448.6" font-size="12.5" font-weight="bold" fill="#000">d</text>
<path d="M410.5 465V588.9" stroke="#111" stroke-width="0.9"/>
<polygon points="389,515.3 432,515.3 432,531.8 423.8,534.5 432,537.2 432,549.1 389,549.1 389,537.2 397.2,534.5 389,531.8" fill="#36494f" stroke="#111" stroke-width="1"/>
<path d="M397.2 534.5H423.8" stroke="#000" stroke-width="2"/>
<path d="M404.8 532.6l5.2 48 -8.4 -40.9 8.7 -58 -4 56.2 15.5 -26.1 -5.2 21.9 -15.9 -22.1 9.6 -7.4 0.2 24.4 11.1 7.7 -4 -25.2 1 6.8 -7.1 50.2 3.1 -26 -10.6 -45.8 0.2 43.3 13.3 33.8 -12.4 -41.2 11.6 -1.9 -17.3 -6.4 18.3 -17.6 4.2 26.3 -20.6 4.4 0.5 -26.8 13.7 8.8 -0.3 -28.5 6.4 41.3 -10.4 20.1 -6.7 -12.9 -5.4 -51.8 23 46.4 -3.5 14.6 -5.9 21.1 -1.2 -93.6 1.7 70.7 -7.7 -67.1 0.9 63.5 14.4 -28.8 -4.5 53 -16.1 -15.3 0.4 19.3 20.1 -8.7 1 -22.9 -13.4 -5.2 -8.8 -33.4 5.6 98.5 10.4 -42.7 -8.2 -23.4 9.8 28 -5.6 -30.4 -2.4 43.8 13 -75 -7 27 4.6 -0.6 -3.8 -14.3 -0.2 15.3 3.6 45.1 -6.9 -24.1 -5.8 -0.6 11.4 -25.3 -13.8 -3.2 17.6 35 -13.5 -43.9 6.9 15.8 -15.6 -29.7 4 28.5 -0.4 51.7 10.9 -57.7 -8.2 0.8 -5.4 12.8 17.8 -9.8 -8.6 44.2 11.1 -26.2 -14.7 -3.7 2.2 29.8 -1.5 7.8 13.4 -43.8 -12 51.2 4.5 -30.7 1.9 -42.9 -10 8.8 12.4 50.1 -16 -40.5 7.2 57.3 -5.7 -65.1 -2.9 36.7 7.2 -19.1 2.7 4.4 6.6 -20.2 -15.7 -11.4 12.9 43 -1.3 -52.4 8.7 40 -10.6 -29.2 -8.7 31.1 10.8 -35.9 -13.4 -6.7 19.8 49.2 -13.3 -16 6 -4.4 -3 5.3 13.5 -38.3 -22.6 37.3 8.1 -4.7 0.4 -3.9 9.1 -55 -11.4 53.1 12.2 33.4 -13.2 1.3 9.1 -62.7 -1.4 52.6 7.6 -8.4 -9.5 1.3 5.5 -12.6 1.5 -15.4 4.9 18 -21.9 -19.9 15.5 76.3 -4.7 -91.4 5.5 49.9 -9.8 -12.6 -6 -58.5 9.1 30.7 -1.8 42 8.2 19.7 -7.6 -32.1 12.9 -39.5 -1.7 29.5 -10.6 26.1 -6.4 -6.8 -3.3 -20.5 15.4 7.7 5.2 -20.8 0.9 50.4 -1.8 37.9 -6.5 -60.8 -5.3 -9.5 13.6 1.7 -15.6 6.6 4.6 17.6 6.9 19.9 1.1 -45.5 4 18.7 -9.2 -27.3 -11.8 47.2 3.2 -10.9 16.5 -12.2 -1.7 -7.3 -7.7 -18.3 8.7 5.8 -11.4 22.9 -1.9 -38.3 0.4 50.8 -6.7 -49.4 19.7 4.3 -12.3 22.4 2.2 -24.1 -3 13.6 4.5 14.2 0 48.4 3 -48 -5.4 7.2 -5.5 9.7 11 -72.5 -13.2 6.8 7.1 28.6 8.9 37.4 -0.2 -10.8 -2.7 -49.7 2 31.4 -3.4 -4.8 -1.3 51.7 10.2 -87.1 -0.1 26.9 -19.2 -25.1 3.5 36.1 6.4 -19.3 -11.7 22.7 0.4 1.2 11.1 29.4 -9.8 -64 18.8 101.3 -19.5 -19.2 17.2 -39.5 -12.7 6.9 2.9 29 -3.1 3.1 8.4 -79.2 0.2 23 -9.6 -7 -2.8 8.6 16.6 -2.5 0.2 2.4 -12.8 30 13.6 -3.3 1.1 -23 -16 -1.5 -4.1 -11.1 5.3 27.2 6.8 -39.3 -1.9 73 9.7 -17.5 -12.9 -31.3 -0.5 -18.2 -1.3 5.1 3.4 -14.5 10.9 49.7 1.2 -19.9 -20.4 -8.4 -0.1 16.2 19.9 20.4 -17.5 -17.1 12 18.3 -16 -23.1 7.4 22.3 9.9 -0.5 -7.1 -15 -7.9 -13.2 13.5 -25.4 -12.6 13.4 9.6 21.7 -1.8 -3.4 -7.5 -12.3 0.8 26 16.2 15 -2.8 16.4 -12.6 -31.7 6.1 -16.7 5.3 -17.6 -17 6.6 18.5 0.6 -5.1 -17.6 -3.6 46.8 -10.2 -3.2 5.5 -34.4 9.1 46.2 -11 -26.9 1.6 48.7 18.1 -85.4 -0.4 -29.2 -1.3 68.2 -9.8 -71 7.4 73.6 -15.2 -22.1 16.3 -23.4 -2 39.3 -10.6 44.2 7.4 -61.1 1 76.8 0.7 -57.9 -2.9 -23.9 -13.6 39.9 11 -9.2 -8 -39.9 19.8 109.6 -13.3 -60.2 9.1 -83.7 -17.4 104 1.6 -17.9 11.4 -23.6 7.9 12.5 -5.7 17.3 1.9 3.8 -11.3 -22.8 7.6 -15.8 -3.9 7.3 -2.9 -18.7 4.6 61.1 6.2 12.3 1.4 -55.5 -17.7 -49.2 3.3 28 -5.7 24.5 11.4 -22.6 3.5 -16.4 8.1 54.2 -1 -12.8 -6.3 64.7 -6 -86.7 -9 -35.4 9 5.5 -0.8 71.4 -7.8 -57.1 12.6 42.7 8.2 -8.8 -8.8 37.8 -0.2 23.4 -5.7 -52.1 3.6 -2.7 5.7 52.1 -8.7 -40.4 -6.3 -49.9 10.6 39.2 2.1 4 5.4 -32.9 -6.3 36.2 -10.9 52.2 5.2 -16.9 15.2 -18.5 -17.7 -60.1 8.6 17.1 -9.5 13 17.4 -29.6 -17.8 4.5 9 42.6 6.9 -32.2 -17 -40 3.1 34.2 -3.1 -6.8 17.5 26.4 -17.2 -3.1 -2.6 -12.7 17.9 9.9 4.7 6.4 -1.4 35.2 -4.1 -18.8 -17.6 -6 15.8 -51.9 -13 57.3 19.4 -28.7 -12.1 59 -0.2 -5.7 5.9 -75.8 -2.6 37.9 5.8 18.2 -11.1 -37.6 2.9 22 4.7 -3.1 1.9 -0.6 -8 13.8 -6.6 -19.4 3.6 14 -5.2 -0.1 14.8 52.1 -13.2 -58.1 -0.8 -26.2 11.9 -4.2 6.9 17.8 -11.5 9 7.9 6.4 -4.2 -11.2 -4.1 10.2 -1.5 8.9 4.9 -39.5 -0.6 26.5 -0.7 6.6 -6.9 23.1 6 -12.5 5.2 -26.4 2.4 29.4 -14.6 -21.1 1.6 -24.7 -0.6 74.3 7.9 -40.4 -0.5 -4.2 6.1 -6.6 -15.9 20.5 7 10.7 2.6 -24.1 4.4 18 -15.8 -56.3 15.5 54.9 4.1 -29.8 2.3 -0.7 -9 66.1 7.9 -96.3 0.7 36 -9.8 17.1 -8.1 -17.8 16.3 10.4 2.9 -20.6 -2 -0.1 0.8 47.1 -14.6 -8.5 -2.5 -34.6 5.1 2.7 10.7 30.4 -5.7 -14.9 -12.3 -2.1 16.1 15.6 -5 -19.8 8 42.3 -11.6 -55.2 12.7 17.9 -20.7 9.4 0.5 0.9 0.7 5.9 9.4 -9.2 11.1 -20.8 -12.8 4.8 -6.4 57.8 5.3 -86.5 6.4 24.1 -1 16.6 6.5 -27.8 -20.9 62.7 11.4 -56.6 6.3 9.7 -8 8.3" fill="none" stroke="none" marker-start="url(#msl)" marker-mid="url(#msl)" marker-end="url(#msl)"/>
<path d="M470.6 465V588.9" stroke="#111" stroke-width="0.9"/>
<polygon points="449.6,511.6 491.6,511.6 491.6,527.7 483.6,530.1 491.6,532.5 491.6,546.4 449.6,546.4 449.6,532.5 457.6,530.1 449.6,527.7" fill="#e3913f" stroke="#111" stroke-width="1"/>
<path d="M457.6 530.1H483.6" stroke="#000" stroke-width="2"/>
<path d="M481.6 498.9l-14 12.6 -7.2 -2.6 21.2 -1.9 -20.8 42.9 6.9 1.5 2.5 -35 -4.3 13.7 -5.8 38.1 20.7 -43.8 -20.9 28.3 21.2 0.5 -5.9 -9.3 -5.1 -26.9 9.2 9.9 -1.5 -8.1 -8.8 -26.5 11.2 45.2 -1.1 -32.8 -7.6 13.4 -5.7 -0.9 15.4 55.2 -21.9 -84.9 2.4 34.1 10.3 -7.5 -3.3 12.2 -2 53.8 -6.1 -27 20.8 -80.7 -1.4 99.6 0.4 -30.4 0.7 -8.2 -20.8 6.8 8.1 -22.4 -1.4 9.5 10.6 -20.5 -4.8 36.4 -2.5 -21.3 -4.5 -17.4 -0.9 12.6 3.9 66.8 10.2 -57.2 -12.7 25.2 13.6 -20.5 0.5 -40.9 -15.7 83.1 7.9 -81.6 -5.8 31 10.2 6 -14.6 -40 3.1 51.7 11.2 -30.5 0.7 -3 -16.7 20.3 20.9 -25.6 -8.2 41 -4.9 29.9 -9.4 -71.5 2.1 23.2 7 59.7 2.7 -48.9 9.1 -29.1 1.8 -2 -12 8.2 0.2 11.4 2.8 -28.9 -9.7 55.7 11.8 -6.7 -15.8 12.9 9.3 -9.8 2.4 -32 -7 7.6 6.4 37.8 2.3 -23 -0.5 -3.8 4.6 20.2 -15.6 6.2 12.7 -21.7 5.9 -26.7 -20.2 48 5.5 -63 11.1 86.1 3.7 -38.8 1 -33.4 -17.9 24.2 -1.2 10.6 4.9 -7.2 -3.8 3.7 4.4 25.7 10.8 -70.9 4.2 40.8 -4 -13.4 -0.2 0.6 -2.8 23.7 -8.3 -60.9 4 59.3 0.7 25.2 -11 -44.8 16.9 -6.6 1.6 -36.8 -9.2 49.2 1.8 -47 1 8.8 8 38.7 -8.5 15 0.1 -0.3 8.8 -3 -5.8 -23.7 0.2 -6.9 -4.1 58.3 -7.5 -44.9 3.7 10.1 -4.9 -28.5 0.9 1.3 -1.7 32.5 7.5 -3.6 -7 -11 2.4 14.8 16.5 -15.4 -3.2 -27 -1.3 20.2 -4.6 -4.8 3.9 -3.5 -13.8 -10.5 -2.3 43.2 5 31.2 10.2 -24.1 -11.6 -22.7 6.9 1.8 3.7 -3.5 -11.6 -10.2 -2.7 67.7 10.2 -56 7.1 -11.5 -10.6 10.5 5.1 23.4 8.5 -12.3 -2.5 -7.3 -5.7 -1.8 -9.6 9.9 -0.9 -25.2 9.5 21.5 5 20.6 -3.9 -28.7 -8.1 47.1 7.3 -70.8 -7.5 -16.1 8.4 22 -11 22 9.6 7 -3.8 3 13.9 -2.6 -7.6 -1 -8 3 12.4 -15.9 3.7 2.7 -4.5 -3.1 -14.1 -37.4 -2.5 -10.6 4.4 64.9 -2.5 -9.5 -2.3 21.5 9.6 -72.4 6.8 85.2 -10.3 0.6 14.8 -3.9 -0.5 -39 -13.3 -1.7 14.8 36.9 -16.1 -27.2 3.2 23.9 10.7 -33.6 -8.7 47.6 9.2 -44.5 2.1 -7.6 -3.3 29.5 -9.6 -30.3 -6.9 48.3 11.2 -56.3 5.7 5.3 -6.4 43 7.1 -56.2 -3.8 24.1 -10.3 5 1.9 -10.6 -7.8 12.2 1.1 2.6 11.5 -0.7 6.8 -7.2 -0.9 -0.9 -5.8 52.6 6.6 -50 -4.4 -5.4 -8.9 1.2 4.9 42.3 -4.9 -19.6 3.5 -42.1 1.6 31.8 2.2 -39.1 -10.2 24 17.9 15.5 -13.1 18.2 -2.2 -76 15.6 20.2 -10.6 41.6 6.9 7.7 -11.7 -30 -4.6 19.6 4.3 10.7 8.7 -18.4 -3 -19 -2.3 20.1 -5.6 17.6 2.5 -11.1 15.2 -35.3 -21.5 40.7 2.1 -36.4 10.9 -32.1 -2.4 47.4 9.1 -6.1 -15.2 16.2 18 -2.4 -15.5 -8.4 -0.1 37 12.2 -48.2 -11.1 13.9 7.3 -34.2 -9 89.6 -1.4 -39.4 2.7 -16.8 3.5 -43.6 -3.4 36.4 -0.8 31.9 1.5 0.1 -0.3 0.5 2.2 -28 9.2 -21.9 -9.1 65.2 8.7 -44.2 -4.1 11.1 -7.9 -51.2 6.5 40.4 1.2 -26.5 -7.1 22.1 13 35.4 -21.1 -62 7.2 48.5 0.3 -39.1 11 75.3 -9.6 -25.9 -5.6 -68.5 0.9 99.5 1.6 -62 17.2 13.2 -13.6 -8.7 13.5 22.4 -17.1 -14.9 4 -44.7 0 9.4 12.4 48.8 -10.1 -63.2 -9.3 86.1 3.7 -30.4 -3 -21.3 -3.1 35.5 18.4 18.2 3.8 -49.1 -20.3 38.8 1 -41.1 14.3 9.5 1.4 11.9 -2.6 0.5 -7.6 8.5 13.8 -8.9 -12.6 -2.3 3 -1.4 -8.1 6.2 10.8 17.8 7 8.5 -1.8 -37.1 -16.1 17.3 3.1 -57.4 -2.8 -2.7 14 26.2 -3.1 54.1 -11.8 -10.3 5.8 -23.8 8.1 42.2 -6.4 -41.4 -10.1 -15.3 18.2 48.9 -2.5 -82.1 -5.3 55 -10.1 -20.2 0.1 3.3 5.3 51 8.7 -20.8 -15.2 -20.1 4.4 -5.9 -3.4 38.8 8.9 -47.5 -7.2 -1.1 -2.6 -13.6 -0.4 22.7 5.5 -11.7 0.6 45.3 7.6 -8.8 -10.3 -36.8 15.9 42.5 -1.1 -6.2 -17.6 -26 19.6 37.3 -12.4 -13.5 -6.3 7.9 8.7 -70.5 -1.6 6.5 -1.6 12.3 1.7 41.2 7.2 17.6 -15.5 -36.1 20.3 0.3 -13.1 40.8 -1.5 -90.1 12.9 0.9 -13 12.9 5.2 56.1 1.6 -1.5 9.4 -9.9 -12.4 21.2 -4.5 -12.2 5.1 -24.1 3.3 15.6 7.7 -24.7 -7 16.9 -11.7 -22.7 17 14.7 -19.2 36.3 9.1 15.1 -2.3 -53.5 6.4 19.7 -9.1 -22.9 -4.2 25.3 0 19.9 2 -17.6 -1.9 19.5 19.3 -42.8 -5.6 41.3 -6 -22.2 8.3 9.6 -5.2 -6.7 -10.4 -37.7 19.1 15.3 -3.6 -16.3 -7.3 11.6 -0.1 -4.2 -3.7 14.5 16.1 -5.8 -6.2 24.1 -2.3 -19 -9.7 -23.3 12 14.9 -4 19.5 -8.5 -13.8 9.7 15.1 -5.6 -8.7 10.4 -19.8 -2.9 33.3 -11.1 -11.1 5.2 -23.1 2.3 20 7.8 -0.8 -16.5 -13.4 5.6 60.1 7.1 -38.6 -13.6 -1.6 20.6 -42 -6.6 -24.1 -5.1 83.2 10 11.3 -9.2 -2.6 -4.6 -23.1 9.5 -22.7 -15.1 -15.8 16.9 12.4 1.8 13 -2.6 -22.5 -8.4 -0.8 14 2.8 -12 21.2 0.7 -30.8 6.5 52.4 -3.6 2.7 0.6 -19.6 -2.3 -17.9 8.5 3 -11.6 -8.6 -8.3 33.1 6.9 -44.2 -5.1 28.1 4.9 9.4 3.8 -4.7 2.2 -5.9 -1.4 -33.1 1.9 34.4 8.5 3.5 -2.4 -33.6 -12.3 39.7 9.2 -7.5 -1.8 33.9 -5.7 -48.6 0.8 10 1.2 -33.1 2 59 5.1 -44.3 0.4 36.5 -1.8 21.3 3.7 -32.6 -11 13.1 -6.4 -6.7 10.3 -46.7 3.7 6 -1.3 23.1 -11.9 56.4 6.1 -34.2 10.4 10 0.1 -12 -14.1 -2.7 9.5 -2.7 -3.9 38.2 5.4 -33.7 -6.9 -45.7 5.8 87.7 4.6 -57.6 -19.5 26.4 18 -7.4 -3.3 -12.8 -0.8 -18.8 -11.2 14.2 4 -1.1 2.6 -11.6 9.5 19.4 -20 -20.2 10.3 15.7 3.4 -11.1 -3.7 77.7 -8.7 -67 -0.3 -19.4 15.4 1.7 4.7 28.8 0.1 13.5 -11.6 -9.8 -4.1 -20.1 4.7 5.8 -1.9 17.7 -6.7 -23.3 -2.4 34.3 9 -1 7.6 -33.3 -14.4 28.8 -2.4 -43.6 7.3 59.5 14.4 -53 -16.2 8.1 -0.8 5.5 17.8 -6 -15.3 1.2 2.9 -30.5 7.7 77.3 -4.5 -35.9 0.5 35.8 0 -68.4 6.4 15.5 -6.2 13.1 -7.7 33 7.3 -30.8 -6.9 -13.6 13.8 8 -17.7 -33.6 6.9 16.8 5.8 26.3 3.8 -44.1 -5.3 68.2 -1.7 -24.6 -11.1 0.1 13.4 -19.4 -13.4 28.9 0.1 -18.7 5.5 22.2 -0.2 -0.3 2.8 15.8 -7.2 -46.9 19.8 15.3 -7.2 -12.4 -13.1 -21.4 15.8 28.9 -15.3 51.4 19.8 -79.9 -5.4 19.8 -14.3 -23 2.2 33.3 3.4 36.1 -2 -54.8 2.6 24 -6.6 22.4 -1.7 -16.1 11.7 -49.6 -6.4 51.2 5.4 -45 -7.9 70.3 8.5 14 -8.5 -44.4 1.9 -0.3 -0.1 -1.9 5.3 -2.7 10.5 -17.2 -7.7 8.9 -1.1 2.9 9.5 -15 -10.4 -0.1 3.4 43.1" fill="none" stroke="none" marker-start="url(#mor)" marker-mid="url(#mor)" marker-end="url(#mor)"/>
<path d="M374.6 444.1V618.5H506.8" fill="none" stroke="#111" stroke-width="1.1"/>
<path d="M371.8 482H374.6" stroke="#111" stroke-width="0.9"/>
<text x="369.7" y="485.5" font-size="10" text-anchor="end" fill="#222">2</text>
<path d="M371.8 530.6H374.6" stroke="#111" stroke-width="0.9"/>
<text x="369.7" y="534.1" font-size="10" text-anchor="end" fill="#222">0</text>
<path d="M371.8 579.2H374.6" stroke="#111" stroke-width="0.9"/>
<text x="369.7" y="582.7" font-size="10" text-anchor="end" fill="#222">−2</text>
<path d="M410.4 618.5V621.3" stroke="#111" stroke-width="0.9"/>
<text x="410.4" y="631" font-size="10" text-anchor="middle" fill="#222">2</text>
<path d="M470.6 618.5V621.3" stroke="#111" stroke-width="0.9"/>
<text x="470.6" y="631" font-size="10" text-anchor="middle" fill="#222">3</text>
<text x="440.7" y="643" font-size="10.2" text-anchor="middle" fill="#111">Cluster</text>
<path d="M410.4 456.7V452.5H470.6V456.7" fill="none" stroke="#444" stroke-width="0.8"/>
<text x="440.5" y="451" font-size="10.3" text-anchor="middle" fill="#222">0.00089</text>
<text transform="translate(524.5 532.4) rotate(-90)" font-size="10.2" text-anchor="middle" fill="#111">Age</text>
<text x="514.5" y="448.6" font-size="12.5" font-weight="bold" fill="#000">e</text>
<path d="M570.6 480.6V607.9" stroke="#111" stroke-width="0.9"/>
<polygon points="555.8,526.1 585.5,526.1 585.5,536 579.8,541.6 585.5,547.2 585.5,561.6 555.8,561.6 555.8,547.2 561.4,541.6 555.8,536" fill="#36494f" stroke="#111" stroke-width="1"/>
<path d="M561.4 541.6H579.8" stroke="#000" stroke-width="2"/>
<path d="M578.1 533.5l-4.3 28.9 -2.6 -8.1 -7.2 8.4 10.9 -4.4 -6.5 -13.1 -2.4 -12.6 10 10.4 -4 4.1 -2.9 -39.8 3.1 8.4 -4.3 30.2 4.2 -18.8 -1.4 -24.4 4 42.8 -11.5 -4.5 13.5 26.5 -9.3 -35.6 6.4 -3 -8.8 37 10.1 -36.8 2 15.5 -14.1 34.1 7.2 -56.1 -1.6 60.6 9.3 -88.1 -14.8 51.2 -0.1 -3.9 12.8 20.4 -4.5 -57.2 0.4 65.5 -4.6 -62 8.7 10.9 -9 6.5 4.3 6.6 -0.6 18.2 -5.6 -33.7 4.6 29.1 2.7 -3.9 -1.2 3.8 6.2 -4.2 -1.2 13.8 0.2 -29.6 -10.2 5.3 -1.7 37.7 8.9 -17.7 -8.5 0.8 8.3 24.9 -5.5 -48.9 7.4 60.8 -5.1 -18.2 -4.1 -40.4 -2.8 7.9 0.3 19.4 15 16.8 -12.6 21.5 7.7 -69.2 -6.3 -23.2 10.7 53.2 -7.2 -4.1 -3.5 -35.4 -3 2 3.8 42.1 -4.4 -20.8 11.2 57.4 -3.3 -58.1 5.9 2.6 -3.2 41.8 -7.5 1.2 -2.2 -62.7 4.6 42.9 -6.1 -79.3 14 48.1 -3.5 1.2 -1.6 -3.5 -3 30.9 0.6 -17.5 7.4 -32.7 -5.2 45.8 -0.7 -10.2 2.6 -19.6 0 -12.6 -6.4 21.3 7.7 -29.9 -9.1 39.5 -1 -18.6 5.1 33.5 7.6 -31.7 -8.5 -16.3 -0.6 15 3.8 -29 -5.9 34.4 -1.8 26 13.2 -13.8 -14 2.8 11.3 -35.5 3.6 64.4 -6.4 -7.8 -9.6 -58.3 5 66.5" fill="none" stroke="none" marker-start="url(#msl)" marker-mid="url(#msl)" marker-end="url(#msl)"/>
<path d="M611.8 458.6V606.7" stroke="#111" stroke-width="0.9"/>
<polygon points="597,509 626.6,509 626.6,527.8 621,530.6 626.6,533.5 626.6,551.8 597,551.8 597,533.5 602.6,530.6 597,527.8" fill="#e3913f" stroke="#111" stroke-width="1"/>
<path d="M602.6 530.6H621" stroke="#000" stroke-width="2"/>
<path d="M608.2 544l-1.8 -20.1 -1.9 2.1 7.5 -22.9 3.2 23 2.2 -40.9 -6.3 -12.8 -7.2 24.9 1.8 8.1 12.9 48.5 -5 -4 -1.8 4.9 -1.6 34.2 -3.6 -49.2 -1.3 2.9 1.3 -19.1 11.4 51.9 -9 -57.8 7.4 -4.8 -0.7 83.9 0.1 -77.5 -3.6 62.2 -0.2 -102.2 1.6 65.8 0.9 15.5 2.7 -32.4 -7.2 8.6 0.4 2.8 -2.1 -36.3 -3.6 29.9 5.8 -32.3 2.2 23.7 4.6 -14.3 -1.9 3.8 -10 -15 7.1 28.8 3.2 -20.7 -11.6 13.8 1.2 38.6 3.1 -19.5 8.1 -20.2 -6.1 38 6.9 -30.6 -12.2 -46.8 11.9 53.5 -10.7 -29.1 8.4 50.2 2.4 -60.1 2 33.6 -1.4 -17.6 -12.1 24.6 7.4 5.2 0 -61.3 0.3 64.5 -2 48.4 6.8 -73 1.7 45.4 -5.4 -47.9 -3.9 18.3 -3.1 -6.2 2.9 10 -0.6 -13.7 6 -5.3 -2.5 37.2 4.8 19.5 -12.1 -11.7 7.2 -32.6 -8.6 -10.7 5.7 27.5 0 -86.6 1.8 76.3 -0.5 -65.1 -7.5 44.5 14.2 27.2 -1.4 -27.7 -4.6 64.8 3 -69.7 -9.3 5.8 12.8 38.6 -2.6 -7 -3.6 -9.4 1.5 -23.4 -8 -23.3 2.9 28.4 -3.6 9.5 4 72 8.9 -67.1 -2.2 -11.7 -1.3 23.6 -2.7 -50.8 -5.3 24.2 -3 -9.9 5.4 -9.7 3 53.7 6.1 -23.3 -3.5 28.9 3.4 -38 0.3 -37.6 0.1 2.2 -9.4 16.2 0.3 -38.5 4.6 77.2 -7.9 -69 11.1 70.2 -3.6 -54.6 3.9 54.7 -3.8 9.9 -0.7 -2.8 -4.2 -5.4 2.1 46.4 -4.1 -108.5 8.4 66.2 -8.1 -32.3 3.3 21.6 2.7 25.9 -6 -78.4 1.8 49.3 9.6 -34.6 -13.8 -7.7 7.6 38.2 5 -17.9 -7.1 -19.5 2.2 -14.4 6.6 111.3 0.6 -15.8 -3.1 25.2 -3.5 -30.4 -6.8 -17.2 4.9 -7.6 7.7 -15.6 -11.7 -2.1 0.8 -35.5 2.3 45.7 -1.5 -42.7 -5 11.7 14.9 16.5 -11.4 -27 2.1 16.9 0.7 47.3 3.6 -2.3 2.4 -26.3 -2.9 -27.9 -7 47.9 0.6 44.5 -1.8 -58.9 4.9 -32.7 2.8 23.8 0.3 73.6 5 -132.5 -5.5 57.5 -8.7 -21.9 11.6 31.8 -3.3 20 7 -39.4 0.6 30.3 -15.9 17.6 9.1 -59 2.9 72.7 -0.6 -76.6 -5.9 20.4 4.4 7 2.7 -24.7 0.6 39.4 -1.1 35.1 -1.3 -53.8 2.7 -2.7 -12.7 15.6 7.7 16.5 5.2 -9.4 -1.5 -7.8 -3.5 -46.2 7.1 79.6 -14.5 -26.5 -0.7 38.9 12 -78.9 -0.2 37.1 -1.3 -28.7 1 22 4 47.8 -14.7 -60.9 9.1 16.8 4.3 5.2 -10.9 -40.2 7 99.1 -1.2 -117.7 -3.1 26 9 -38 -8.8 77.8 8 -45.6 -14.2 25.8 1.9 42.4 3.1 -18.2 0.1 -71.4 7.5 50.1 -8.3 -7.5 4.6 -67 0.2 85.5 6.4 -13.4 -6.4 8.7 -0.2 35.8 3.9 -28.6 -10.6 10.1 2 -25.3 4 18.2 1.1 -40.6 1.3 38.8 5 -50.5 -4.9 26.7 1.4 -7.1 -11.5 12.4 4.7 28.4 4.9 -40.3 -5.1 30.9 4.1 -24.7 -5.2 7.7 2.2 2.6 9.2 34.1 -5.7 5.6 -5.2 -57.7 10.9 79.5 -9 -26.6 -5.3 -5.2 2.7 -1.7 2.6 25.7 6.2 -30.1 1.9 25.6 -9.8 -27.8 7.5 -19.7 -4.4 -13.8 -1.1 -3.9 6.3 20.6 0.6 -22.1 -1.5 -27 -6.7 29.4 1 -24.4 2 -28.6 5 29.2 -8.2 39 -3.3 4.7 10.1 6.2 -12.3 -69.8 -0.1 52.5 14.5 9 -1.6 -46 -12.3 13.1 12.9 11 -0.9 40.4 -5.9 17.1 -5.5 -50.7 -0.3 44.1 6.7 -12.6 2.1 -25.5 -5.5 -31.9 7.2 37 1.3 -10.9 -6.6 -29.8 -0.4 37.9 -4.6 29.6 6 -2.1 2.6 -54.2 6 38.2 -10.5 -72.3 2.9 5.6 -1.1 63.2 3.4 -34.8 1.1 38.1 -4.3 -7.1 7.8 -33.6 -3.7 12.4 -9.6 -8.3 -1.1 37.6 -0.2 -32.3 10.5 -48 4.4 63.6 -3.2 2.1 -10.1 -18 11.1 36.4 -1.9 -19.9 -1.3 27.3 -7.5 -49 5.3 42.1 5 2.9 -6 -39.3 -1.7 -0.9 8.2 54.3 -3.1 17.7 -5.7 -6.2 6.8 -36 1 -44.2 -0.4 -33.5 -4.6 110 3.3 -51.4 -4.1 -25.6 7.7 15.2 1.1 -37.6 0.2 23.4 -13.1 37.9 10.4 -32.1 -1.5 32.8 -7.4 17 10.3 -25.1 -7.5 13.8 -4.8 -41.3 10.5 55.4 -10.2 -24 -0.1 5.9 7.3 27 5.4 -56.8 -3.6 62.6 4.2 -46.2 -9.3 -29.2 -4.5 54.3 5.8 -30.3 2.3 -7.3 4.4 -12.9 0.1 7.5 -6.6 -15.5 0.4 86.5 -1.2 -85.6 5.2 -26.5 -1.4 59.2 -1.2 3.5 -6.1 -9.7 2.5 61.4 7.5 -37.1 -12.9 -79.1 7.3 132 4 -64.4 -9.6 29 4.1 -30.7 -3.5 -35.5 5.5 16.8 3.1 -45.6 -0.1 120.1 -2.6 -13.3 -2.2 -63.8 -6.4 41.1 11.8 -50.3 0 54.5 0.1 -4.3 -10.5 21.7 -0.8 -46.5 11.2 -5 -5.4 35 -5.5 -31.6 1.4 72.8 -2.3 -51.4 6.6 -18.5 6.8 -58.7 -13.1 24.5 0.9 77.9 -0.9 -4 1.5 -46.6 0.5 -42.4 6.3 61.6 -7 27.9 6.7 -58.9 -1.7 1.3 5 -2.8 -1 71.2 -7.1 -23.6 11.1 -59.9 -2.8 71 -0.2 -63.2 -7.1 23 4 -0.8 3.6 17.4 -10.1 -33.9 -0.4 11 11.7 -21.5 -8.8 89.6 3.8 -12.2 -1.8 18.8 3.7 -66.4 -9.1 -29.7 10.2 43 4.7 -4 -1.5 -51.7 0.5 38.2 -9.5 -2.2 -1.4 17.8 5.3 -45.4 5.1 29.1 -1.1 -46.2 -7.9 32.3 1.3 30.8 -4.4 -42.8 11.4 18 -10.7 4.8 8.4 -7.9 -2.4 48.1 0.1 -25.9 -0.4 -14.2 -4.8 23.4 8.6 -48.7 -9 -29.9 -0.9 60.3 1.4 26.7 7.6 -83.5 -7.2 87.7 -2.2 -59.7 12.5 66.2 -14.8 24.6 15.1 -90.6 -6.1 36.7 -8.8 -67 14.6 94.9 -3.6 -50.5 4.8 -6.4 -4.3 11 3.2 41.1 -12.7 -32.1 7.4 37.7 4 -51.1 -0.7 24.3 -0.8 40.3 2.7 -37.8 -3.1 -19.7 -4.9 4.3 -1.8 -29.5 -0.9 1.6 -3.1 1.2 13 59 -10.8 -40.7 4.6 -3.3 -0.2 31.8 -1.5 -70.1 -6.2 105.1 15.7 -47 -2.6 44.5 -2.6 -54.6 -4.9 -37.1 2.8 42.9 -6.2 3.6 1.3 16.9 5.6 -56.7 3.3 45.2 -8.6 31.4 3.2 -32 -3.7 -52.8 -2.5 49.7 0.6 71.8 7.3 -68.3 6.4 -25.1 -0.3 56.4 -3 -53.5 -9.1 5.9 -1.3 59.5 4.6 -45.7 2 -72.1 -6.7 145.5 9.6 -80.3 1.1 -2 4.2 47.3 -11.7 -62.5 -0.8 64.2 -0.7 -31.3 12.2 -17.4 -9.8 46.4 7.4 -2.1 -3.1 -73 -2.2 -12.4 -1.9 54.7 5.6 -42.8 -11.2 50.9 14.2 24.3 -10.1 -29.4 8.5 30.9 -1.3 -9.7 -7.9 -7.4 6.1 -22.5 3.8 -45.4 -9.8 45.3 12.1 13.5 -4.6 4.9 -10.4 -41.6 10.5 34.2 4.1 -56.9 -12.6 89.7 7 -108.5 -6.9 34.5 8.5 38.9 1.3 -7.1 3.6 55.7 -10.8 -102.6 2.5 66.2 -2 -49.3 -0.1 12.8 1 11.6 -1 16.3 3.7 13.3 5 -67.6 0.2 36.6 0.6 61.7 -11.5 -35.3 6.5 -6.7 6 0.6 -6.8 2.5 1 -42.4 -5.9 24 11.1 34.6 -15.4 -7 13.1 -52 -7.3 22.6 9.8 57.5 -2.5 -87.1 -6.2 4.4 -0.7 57.6 -6.2 -57.2 7.5 9.5 1.4 23.7 -3 -7.9 8.6 58.2 -8.7 -16.8 10 37.1 -11.6 -38.1 11.2 -34.5 -7.1 -22 5.9 11.2 -9.8 -57.2 8.9 92.8 1.8 -12.6 -14.6 -35.9 2.6 34.8 5 38.4 5.9 -36.3 -6.5 9.5 5.8 -55.2 -7.5 62.1 9.6 -16 -1 -8.7 1.4 -10.3 -5.4 5.9 -8.7 27.1 2 -47.2 4.3 -7.5 -1.3 35.2 6.8 31.1 0.2 -30.3 -5.9 -27.3 -7 -27.3 12.1 18.8 -0.7 62.2 -1.9 -57 -7.1 -10.1 9 37.3 -10 -51.6 6.6 56.8 5.6 -18.7 -10.7 -30.2 5.9 -11.2 -7 54.5 7.8 51.4 4.2 -94 -9.8 23.7 -0.6 82.5 7 -82.9 -5 -0.9 -2.2 2.8 1.9 -16" fill="none" stroke="none" marker-start="url(#mor)" marker-mid="url(#mor)" marker-end="url(#mor)"/>
<path d="M653.5 461.4V603.9" stroke="#111" stroke-width="0.9"/>
<polygon points="638.5,509 668.4,509 668.4,527.3 662.7,529.4 668.4,531.5 668.4,547.3 638.5,547.3 638.5,531.5 644.2,529.4 638.5,527.3" fill="#fff" stroke="#111" stroke-width="1"/>
<path d="M644.2 529.4H662.7" stroke="#000" stroke-width="2"/>
<path d="M653.9 601.5l7.4 -45.1 -7.4 -31.9 -6.3 42.3 -2.4 -13 6.3 -17.6 1.6 -38.1 -5.7 18.2 3.2 -14.4 4.9 44 -1.2 -41.5 -6.6 5.9 11.6 7.4 -3.7 -0.5 -0.9 -14.5 -2.1 56.1 -4.6 -13.5 12.9 -46.7 -1.6 51.2 0.9 -25 -0.2 -19.5 -5.9 -31.5 1.9 58.1 -1.9 -7 5.5 -30.1 -3 60.2 -4.8 -2.1 9.8 43.8 -2.6 -48.1 -1.3 -7.8 -9.7 -11.5 9.8 -33.3 -8.6 37.3 -1.8 40.8 2 -14 10.8 -21.5 -3.4 10.4 -8.3 3.6 6.3 -24.7 1.1 16.8 5.6 41.9 -5.9 -107.1 2.9 43.4 -7.2 -13.8 -0.5 46.4 -3.6 -50 3.5 35.7 -4.8 -37.8 1.8 8.7 9.6 76.8 1.4 -45.4 -7.2 33.9 5.8 -18.5 -4.7 -75.6 -5.1 84.5 -0.1 -49.9 10.1 45.3 -11 -13.6 3.5 -22.4 -4.5 12.1 12 -29.3 2.2 -18.7 -10.9 -4.7 5.2 87.6 -4.7 -63.5 11 -20.4 0.3 23.1 -10.8 64.5 9.3 -80.9 -2.3 53.2 3.3 -12.7 -4.4 -5 -4.1 -13 9.2 -23.1 0.8 35.6 -2.2 -8.9 -12.4 -15.4 12.2 -15.5 -3.9 55.1 3.7 -29.2 -3.1 20.1 -4.6 0.3 7.3 -59.8 -3.2 89.5 0.3 -48.4 5.5 34.7 -6.3 -60.1 -8.8 -1.7 2.7 26.4 12.7 56.3 -8.1 -32.8 -5.6 35.9 11.9 -39.9 -9.3 -60.8 0.2 44.5 7.4 20.5 3.2 -8.3 -5.1 12.1 2.9 -47.2 -4 108.6 4.3 -67.2 2.2 -38.1 -11 -13.1 2.8 48.9 2.3 -5.4 -9.5 13.3 14.3 -1.9 -1.3 -47.3 -6 51.7 -3.5 -15.5 2.8 -8.5 -2.7 4.8 3 37.4 -7.3 -26.1 7 -36.4 0.3 30.5 -5.5 -1.6 13.2 -27.2 -0.6 23.8 -13.8 28.8 13.8 -7.4 -3.2 23.5 -4.2 -76.1 -0.4 -1 0.9 33.9 -4.5 41.1 1.5 -71.8 2.5 50.1 0.3 -9.7 4.4 8.4 -1 0.5 -5.4 8.1 8.2 -12.2 -7.9 -12.7 -1.2 5.4 6.4 -47.3 -1 55.6 -6.1 -53.3 12.3 35.6 -7 3.9 6.5 -46 -2.8 32.8 -10.2 20.2 3.3 0.4 4.6 -0.4 4.2 -25.9 -8.6 62.2 0.1 -33 5.5 -3.8 -0.4 2.5 1.9 24 -1.5 -94 -1.4 93.3 6 -46.7 -2.4 24.5 -4.2 3.5 -1.9 20.5 -1.4 -50.8 8.2 68.9 0.7 -44.5 -1.4 -9.6 -13.6 1.8 7.4 -25.4 -1.5 41.9 8.9 -26.9 -10.3 60.8 4.1 -82.8 0.7 28.7 -4.8 -20.3 -1.6 -10.5 -2.2 -8.2 10.7 30.4 -6.5 36.7 8.6 9 -9.7 -71.8 10.4 61.8 -9.4 -2.9 0.6 -24.6 -2.1 56 4.5 -65.7 -0.7 -2.6 -1 1.1 -6.2 26.5 0.6 -68.9 4.7 49.3 -1.4 2.2 -2.3 2.7 6.3 26.2 -5.5 -60 10.6 45.5 -1 -31.4 -0.5 7.1 -10.5 42.1 7 -28.2 3.7 13.9 -8 -22.3 5.2 7.6 -0.6 -26.5 -1.6 26.6 -0.1 29 -2 -93.3 7.7 60.6 -1 -1.8 2.8 60.4 -11.7 -46.7 13.8 -53 -6.8 14.5 -5.6 38.6 -3 22.1 0.1 -4.2 6.1 -33.1 4.5 10.2 1 -5.1 -6.2 -23.8 -1.6 -3.4 -0.6 4.1 8.8 10.4 -8.8 27 -1.5 -53.3 11.7 52.5 -0.5 -14.8 1.4 -18.5 -7.6 -42.5 0.8 44.4 -6.9 -44.8 11.3 59.7 2.3 22.2 -1.6 -30.1 -4.7 8.2 -6.8 19.1 7.3 46.3 4.4 -43.9 -7.6 -1.6 4.1 -48 -2.5 43.2 4.5 10.5 -0.9 -20.1 3.3 -26.4 -11.4 7.8 -3.3 -24.2 16.2 25.9 -0.5 6.2 -2.7 -6.8 -0.1 -12.2 -6.9 15.6 4 20.9 -3.9 10.1 -0.4 -32 0 -26.5 3 63.7 4.6 1.7 -7.3 -58.2 -5.6 48.3 4.7 -56.3 1.4 33.4 -3 -26.6 5.6 19.7 -8.1 -26.9 3.9 32.5 -2 13.4 -1.7 8.6 -0.5 -6.9 8.8 3.5 0.5 -9.1 -7.7 19.2 13.5 10.6 -4.6 -24.5 -10.4 -5.1 12.4 14.6 -3.4 -44.1 4.2 21.4 -8 29.9 -1 -32.6 -3.6 29.9 9.2 -41 -4.8 59.9 4.6 9.6 -9.7 -57.5 10.6 31.9 4.6 -77.3 -7.6 63.9 -1.3 -19.8 5.4 76.7 -7 -60.6 -0.3 25.5 3.3 -1.7 -3.1 -33.3 0.6 20.4 -6 2.2 4.2 5.8 1.3 -63.8 -3.3 44.7 7.5 -12 -2 3.7 7.1 24.2 -3.3 -8.3 -4.9 -27.4 6.9 -0.2 -10 7.1 3.4 -5.2 3.7 0.5 -3.8 29.8 -3.4 4.4 3.3 1.6 -5.3 -18.6 8.2 -36.9 -8.5 78.9 7.2 27.4 -8.3 -34.3 0.3 -19.9 8.3 16.5 2.3 -36.7 -5 -18.8 -0.8 9.3 7.4 -47.8 -2.1 64.1 -5.8 -30.6 1.4 69.8 5.4 -64.1 -0.5 -27.9 -9.7 56.6 5.5 -47.1 -2.8 44.7 7.5 0.1 -0.1 -16.1 2.5 -32.8 -0.2 40.6 -2.4 3.9 -7.4 7.1 5.4 -2.2 3.5 -34.7 2.3 0.6 -9.6 -13.2 -2.7 21.6 -0.1 -22.1 10.8 9.6 -4.8 29.2 -3.6 -37.5 -2.5 36.8 1.7 -27.1 -1.2 -3.1 0.4 30.3 -2.2 27.5 4.4 -18.9 6.9 -41.6 -12.5 35.2 5.1 -2.7 0.3 -18.8 10.4 68.7 -4.3 -8.3 2.7 -33.5 -11.7 -4.4 3.2 13.4 1.1 42.9 -2.9 -59.7 5.8 -20 4 -2.3 -12.2 19.5 10.7 -16.6 -3.3 40.8 -5.2 -30.4 11.3 -12.7 -7.8 3.1 -2.2 12.8 -4 31.2 6 -38.5 3.8 6 -1.7 16.2 0.4 -20.1 -3.4 -40.1 1.8 71.4 6.3 -32.2 -12.4 33.5 -1 8.1 5.6 -38.3 6.8 -27.8 -12.3 20.6 13 32 -12.7 13.3 7.6 -40.8 3.6 58.3 -7.2 -27.2 8.6 13.4 -13.8 -32.6 3 -37.2 -0.7 21.4 10.7 -48.2 -3.3 49.7 2.5 -21.6 -7.1 27.4 4.6 15.9 5.9 -29.5 -8.1 61.1 8.7 -48.1 -14.1 35.3 7.2 -41.7 5.4 26.4 -1.7 -10.4 -1.1 66 1.1 -113.1 -12.6 53.9 6.3 -67.9 -5.4 87.4 2 -1.2 8.2 -33.1 4.4 37.5 -12.6 -4.1 0.9 -58.9 11.9 59.5 -15.2 -23.2 8.6 -1.3 -8.7 -11.8 10.9 10.5 -10.9 37.9 8 -1.1 6.2 -19.5 -0.4 -29.2 -1.5 41.7 -4.1 14.1 5.6 -54.9 -7.9 12.5 8 5.8 -4.1 -42.6 -5 38.5 7.3 39.6 -10.2 -30.6 -1 -4.4 7.6 6.8 -7.5 -22.6 11.4 1.7 -8.7 63.7 1.7 -48.9 -3.9 16.2 0.9 -34 1.3 38.5 9.4 -38.8 2.4 -25.2 -3.1 50.5 0 -15.1 -3.3 -37.7 -0.7 10.1 -0.7 -23.2 -0.1 9.5 1.3 35.1 -5.7 -18.6 12 48.4 -4.1 16.9 -5.9 6.8 9.6 -51.2 -0.7 19.6 -4.2 -33.3 -5.9 1.4 -4.5 -6.6 9.5 -43.9 -7.7 50.5 0.6 70.3 1.6 -61.2 12 35.9 -10.3 -31.3 -2.4 11.8 10.8 -2.3 -2.1 -8.9 3.5 -3.1 -7.6 13.8 0 -32.6 5.2 54.5 -13.4 -62.1 13.5 58.7 -12.4 -48.3 0.3 -6.5 4.8 30.7 -5.8 -29 4.9 13.5 9.4 45 -5.5 -59.8 -6.5 17 10.8 27 -0.9 -27.8 -11.8 39.3 6.5 -43.5 -5.9 32.3 -0.3 -56 8.8 80.6 -0.8 -49.3 6.6 -25.8 -8.6 45.5 2.1 -17.7 3.4 -62.9 -3 63.7 -3.5 8.4 9.2 -34.2 -1.3 16.2 -10.1 -38.9 6.8 -5.4 4 73.8 -8.6 -1.3 -0.4 -18.2 5.1 -32.2 -9 47.5 -0.6 28.1 -0.1 -81.1 7.5 54.5 6.8 -34 -7.6 12.8 -0.1 51.6 5.3 11.3 -7.5 -46.8 1.8 -32.1 8.9 9.5 -7 9.8 -7.9 -4.8 10.6 28.6 -5.2 -8.2 -1.4 -7.3 0.8 -49.5 7.2 40.7 -6 17.7 -4.1 -29.1 -0.3 28.7 6 -16 4.2 -15.6 1.9 -1.7 -6.2 -6.2 -8.8 -15.5 5 67.9 8.7 -44.7 -4.6 40.6 -7.1 -41.9 5.4 14.7 -7.3 -8.1 13.3 45.6 -2.8 -94.2 -4.1 59.5 -0.1 16.5 2 -33.1 5.1 -2.6 1 23.8 -4.3 39.2 4.1 5.5 -2.2 -69.3 3 2.4 -7.3 8.5 -3.5 -27.4 -2.9 74.3 10.1 -35.1 -7.7 38.1 -3.5 -17.8 9.2 2.5 -9 -28.6 1.4 -37.5 13.2 28 -5.6 4.1 -8.3 24.2 9.3 13.2 -9.5 -18 13.7 -26.2 -11.2 19.6 12.5 26.3 -9.4 -64 6.9 44.5 2.4 15.8 -0.8 -12.9 -1.2 -5.2 -8.9 -0.9 -2.1 -11.3 1.2 23.8 9.7 -9.6 -3.4 -33.1 -7.8 -29.4 10.2 48.8 -2.3 5.4 3.4 17.5 -12.7 -1.7 5.4 -33.3 0 50.8 1.2 -67 -1.8 28.6 1.4 -6.8 -3.9 -25 -3.2 34.5 11.4 -15.5 -5.6 -0.3 -4.5 -22.1 3.7 30.6 3.9 -36.2 -1.8 -15.9 5.7 25.2 -9.4 24.1 6.6 37.2 -8.6 32.7 9.4 -92.3 -1 72.5 -4.7 -61 -1.6 15.1 0.4 3.3 -1.4 19.5 -2.2 -42.3 0.1 -25 4 49.7 -2.1 27.6 4.4 -13.3 3.4 -2.4 -8.3 -40.3 -1.6 31.3 2.5 -1.6 12.7 8.1 -4.2 -36.4 -2.2 20.9 5.2 -21.2 -10.3 36.3 2.7 66.5 2.9 -134.7 5.2 27.8 -14.7 83.6 5.7 -3.9 -2.3 -97.4 5.5 51.2 -3 -55.4 -2.2 47.8 4 -12.9 1.8 -12.6 2.4 21.6 -9.5 60 10.9 -33.4 -3.7 -20.3 -8.2 -20 10 4.4 -6.3 70.7 -1.8 -56.7 6.7 -9.7 2.3 14.4 1.9 -34.6 -2.6 38.2 3.6 25.6 -6.8 -19.1 -1 3 6.3 -34.2 -6.3 21.9 0 -48.3 1 77.7 -6.4 -44.7 6.5 -21.3 2.8 83.8 3.5 -50.7 -12.8 -38.1 4.9 78.9 -7.3 -26.2 9.7 20.5 -6.9 -34.3 1 0.9 8.5 -1.2 -2.3 -24.1 -2.4 52.5 -1.9 -39.9 6.6 -5.5 -3.2 41.5 3.8 17.1 -5.1 -51 3.3 27.2 -7.3 8 7.6 -6 -0.8 -81.1 -5.7 78.4 -1.3 -48.2 -3.1 46.2 10.4 2.5 -0.5 4.3 4.1 -37.6 -1.9 29.5 -3.6 4 -3.2 -25.1 -4.4 18.5 6 4.5 -1.7 -41.3 3.8 35.5 -1.9 63.1 2.5 -80.4 -5.9 51.1 -2.1 3.7 7.6 -26.1 1.8 14.4 3.8 -7.5 -1.6 -87.9 -11 87.4 6 -13.3 -1.3 36.6 -0.7 -25.1 -3.3 -40.3 12.6 5.4 -7.5 50.4 -6.8 -19.1 13.3 23.5 -8.1 -32.9 -1 -9.3 0.8 24 -4 -3.5 -2.2 -5.6 13.5 -42.3 -8.9 -22.4 4.2 80 -5.3 -37.1 11.9 -27.6 -2.2 26.7 -6.8 20.6 1.3 -1.4 3.6 -50.3 -4 43.9 8.4 -2.7 -0.6 17.8 -1.5 -4.4 -13.9 12.6 13.4 -28.5 -9 -38.5 8.5 61.9 -4.7 38.9 -0.8 -78.5 -3.7 75 11.9 -41.8 -15.6 -38.8 2.7 36.9 3.3 -0.3 -1.9 31.6 7 -66.5 -6 -3.8 -2.9 17.6 2.4 35 -0.2 -22.4 6.7 -9 0.2 32.9 -0.2 -50.8 -2.8 72.6 -7.1 -12.9 0.3 -98.7 12.9 38 0.8 5.7 -11.5 45.4 5.2 34.9 5.5 -43.2 -11.9 -51 -0.7 43.5 3.7 -10.8 8 6.2 -13.5 -7 5.7 -3.4 7.5 27.5 -10.8 -56.4 9.7 25.7 0.8 8.6 -10.6 17.7 4.3 -30.1 8.6 -4.4 -6.6 20.5 5.2 -36.9 -11.6 23.7 13.1 -18.2 -9.6 26.6 3.8 33.5 1.6 -17 -10.2 -38.8 15.3 6.4 -13.8 3.9 5.2 37.8 3.5 -40.7 -7.9 21 12.6 48.8 -10.5 -28.5 3.8 8.7 -3.1 -93.9 4.6 51.3 -6.4 42.5 7.3 -22.1 -3.9 -30.7 7.3 -42.7 -14 51.1 7.2 6.5 -6 -29.1 -0.6 11.4 9.8 64.7 -10.5 0.7 2.4 21.1 11.8 -50.8 -5.3 -43.8 -4.1 70.2 -4.7 -54.9 13.6 1.6 -0.4 13.1 -5.5 27.8 6.7 -26.5 -11 4.9 3.2 10.8 3.3 -40.8 -3.2 25.7 -4 -43 5.8 32.8 -5.3 20 6.5 -17.2 -3.8 25.7 0.4 6.7 4.7 -7.1 -10.9 -24.9" fill="none" stroke="none" marker-start="url(#mot)" marker-mid="url(#mot)" marker-end="url(#mot)"/>
<path d="M546.3 444.1V618.5H678.4" fill="none" stroke="#111" stroke-width="1.1"/>
<path d="M543.5 465.5H546.3" stroke="#111" stroke-width="0.9"/>
<text x="541.4" y="469" font-size="10" text-anchor="end" fill="#222">90</text>
<path d="M543.5 506.2H546.3" stroke="#111" stroke-width="0.9"/>
<text x="541.4" y="509.7" font-size="10" text-anchor="end" fill="#222">80</text>
<path d="M543.5 546.9H546.3" stroke="#111" stroke-width="0.9"/>
<text x="541.4" y="550.4" font-size="10" text-anchor="end" fill="#222">70</text>
<path d="M543.5 587.6H546.3" stroke="#111" stroke-width="0.9"/>
<text x="541.4" y="591.1" font-size="10" text-anchor="end" fill="#222">60</text>
<path d="M570.7 618.5V621.3" stroke="#111" stroke-width="0.9"/>
<text x="570.7" y="631" font-size="10" text-anchor="middle" fill="#222">6</text>
<path d="M611.9 618.5V621.3" stroke="#111" stroke-width="0.9"/>
<text x="611.9" y="631" font-size="10" text-anchor="middle" fill="#222">7</text>
<path d="M653.4 618.5V621.3" stroke="#111" stroke-width="0.9"/>
<text x="653.4" y="631" font-size="10" text-anchor="middle" fill="#222">other</text>
<text x="612.3" y="643" font-size="10.2" text-anchor="middle" fill="#111">Cluster</text>
<path d="M570.7 456.7V452.5H611.9V456.7" fill="none" stroke="#444" stroke-width="0.8"/>
<text x="591.3" y="451" font-size="10.3" text-anchor="middle" fill="#222">0.00041</text>
<text transform="translate(9.8 750.5) rotate(-90)" font-size="10.2" text-anchor="middle" fill="#111">CSF Aβ<tspan font-size="6.6" dy="1.6">1−42</tspan><tspan dy="-5.6" font-size="7">*</tspan></text>
<text x="0.8" y="667" font-size="12.5" font-weight="bold" fill="#000">f</text>
<path d="M52.5 757.2V824.6" stroke="#111" stroke-width="0.9"/>
<polygon points="37.2,785.3 67.8,785.3 67.8,797.4 62,802.3 67.8,807.3 67.8,812.4 37.2,812.4 37.2,807.3 43,802.3 37.2,797.4" fill="#36494f" stroke="#111" stroke-width="1"/>
<path d="M43 802.3H62" stroke="#000" stroke-width="2"/>
<path d="M56.5 778.8l-10.7 29.1 7 9.6 1.4 -15.5 0.8 -21 -3.5 2.2 -0.2 -3 2.1 42.1 -4.8 -4.8 2.6 -31.2 2.1 0.1 -7.9 17.8 0.9 -27.4 6.6 38.8 1.7 -28.2 -0.9 9.3 6.1 -18.2 -10.3 10.9 -4.2 2.3 11.4 14.7 0.1 -20.4 1.9 12.5 -4.8 -5.4 4.3 0.8 1.1 -6.4 -1.8 17.3 -7.2 -25 -3 32.9 9 -5.2 -12.1 -26.6 2.5 23.7 8.3 9.5 4.4 -34.7 -2.6 2.2 0.2 -0.2 -7.6 17.6 2.1 7.6 -1.4 -12.9 1.6 24.6 0.1 -28.5 -4.5 25 8 4.7 3.6 -36.8 -0.5 24.2 -6.1 16.6 -4.8 -14.9 -1.7 -18.1 14 5.1 -5.4 7.2 -8.8 -41.4 3.4 59.9 -4.7 -40.4 2 15 10.4 7 0.8 -4.8 -8.2 9.8 1.7 -40.1 3.5 24.3 2.6 26 -8.7 -55.2 2.8 34 9.7 23.1 -9.8 -35.7 4.1 16.2 -2.5 10.6 -3.5 -9.2 -3.1 19.8 3.9 -38.8 5.7 16.8 4.4 3 -2.6 2.2 2.3 -15 -5.8 31.8 -3 -8.9 1.4 -28.5 -6.9 -78.1" fill="none" stroke="none" marker-start="url(#msl)" marker-mid="url(#msl)" marker-end="url(#msl)"/>
<path d="M94.9 706.5V825.4" stroke="#111" stroke-width="0.9"/>
<polygon points="79.7,767.5 110.2,767.5 110.2,791.3 104.4,794.5 110.2,797.8 110.2,809.6 79.7,809.6 79.7,797.8 85.4,794.5 79.7,791.3" fill="#e3913f" stroke="#111" stroke-width="1"/>
<path d="M85.4 794.5H104.4" stroke="#000" stroke-width="2"/>
<path d="M98.2 790.2l2.9 -37.7 -12 50.7 -1.8 -25.4 2.9 -45.9 -3.2 75.7 3.7 -33.4 -2.3 42.9 -1.4 -8.9 14 12.6 -7.4 -14 -0.6 -42.6 -4.4 40 4.4 -25.2 -6.4 -29.8 15.3 68.5 -13.1 2.7 6.7 -42.5 -0.7 24 1 -0.7 4.7 -47.7 -1.4 64.5 -6.9 -1 0.4 -13.5 -1.2 -2 -4.5 9.1 7.4 -95.7 7.1 51.4 -8.6 30.4 1.6 -25.4 4 35.8 -1.3 0.2 -1 -20.2 2 2 -0.3 -1.7 -4.2 35.3 0.2 -10.7 6.5 3 -6.9 -31.6 2.9 -53.5 -7.9 92.8 3.7 -4.9 -1.3 -13.5 6.1 -55.5 -10 52.5 8.8 -37.2 -7.4 48.4 3.7 -50.1 -3.5 29.3 0 7.3 9.7 -11.6 -4.4 -28.6 0.3 10.6 1.9 -24.4 -9.1 78.3 15 -37.7 1.3 11.5 -1 -13 -15.1 -3.1 13.9 -41.4 -8.4 69.2 7.9 4.7 -11.6 2 12 -39.5 -2.7 33.8 -0.1 15.8 -2 -43.2 -2.9 43.4 -2.4 -24.3 5.9 -57.6 -9.5 70.8 5.5 -22.7 2.5 7.3 6.1 14.7 -9 -34.3 6.4 -37.8 -0.7 7.2 -11.1 42.4 1.4 -5 4.6 -12.2 -3.9 35.6 7.1 -12.4 3.7 -8 -12.1 -2.8 -0.2 -36.4 -1 -14.5 15 43.9 -11.7 -38.8 2.6 60.7 9.6 -22.4 -1 17.9 -1.3 28.5 -8.3 -44.3 3.8 -49.9 -0.2 78.9 2.4 13.2 3.9 -43.8 -1.5 40.8 -8.3 -51.5 -3.7 0.6 0.9 34.8 6.3 1.5 6 -13.3 -3.8 6.7 -9.9 18.3 8.8 -88.9 2.9 50.1 -7.9 11.8 -1.6 2.1 0.5 -25.7 0.1 54.6 -2.4 -59.7 14 4.6 -14.2 2.4 11.9 18.7 -7.7 21.4 1.3 -17.2 -3.9 -18.4 -1 42.6 5.3 -43.9 6.2 -20.9 -4.9 68.6 -7.4 1.2 1.1 2.8 11.4 -15.2 -5.2 -5.3 -2.8 -50.6 2.2 -13 -5.4 65 1.5 -25.5 12 -19.1 -6.2 6.3 1.5 23.4 5.2 24.6 -14.8 8.5 11.5 -17.5 -9.7 -16.3 5.4 -8 5.4 37.4 -9.8 -28.5 11.5 -47.4 -2.7 9.6 2 46.8 -9 -17.3 1 -19.2 5.9 -3.7 -8.3 14.7 8.8 50.8 -7.6 -49.8 2.1 -7.2 -4.9 32.5 7 -38.1 1.5 -11.7 -0.4 47.3 -10.8 -24.6 5.5 18.2 -0.6 29.2 4.7 -10 -9.5 11.7 0.3 -2 10.4 -19.5 -3 0.2 3 3.8 -7.5 -10.6 13 -24.4 -6.9 36.4 6.2 -13.4 -6.6 -17.1 -6.6 45.1 4.6 -21.4 -2.9 -1.1 7 -23.2 -11.1 8.4 8.6 20.7 -4.6 -66.3 4.8 31.5 -8.3 20.7 11.6 -30.4 -5.4 29 1.8 0.3 6.5 15.8 1 -47.7 -7.9 48 -7.1 -6.7 5.5 -4.3 0.2 9 5.7 -3 -1 14.8 -7.7 -29.4 -2 37.1 0 -22.3 4.1 15.5 -3.6 -19.7 11 -19.4 -5.2 36.5 5.3 -15.1 -3.8 -0.4 -7.5 -22.2 2.9 45.4 11.2 -86 -8.1 44.2 2 27.8 6.1 -60.8 -13.2 28.8 0.4 16.3 9 -10.6 -4.9 -16.4 -0.2 37.7 2.7 10.5 2.7 9.6 -12.2 -44.1 8.9 27.6 -4.9 -15.9 9.4 9.5 -0.6 -76.6 -5.9 42.6 -4 39 -1.4 18.8 11.1 -13.7 -7 -34.7 -5.6 -36.6 14.9 75.4 -6.2 -47.5 -7.1 -36.6 4.1 85.7 5.1 -61.7 -5.2 42.7 7 11.2 -4.7 -36.8 3.7 4.4 -0.8 18.8 4.8 0.8 -4 10.7 -10.9 -4.8 2.7 18.2 -3.8 -35.8 5.9 -40.7 -2.4 72.7 9 -81.1 -11.8 -1.2 14.4 59.7 -1 -24.5 -13.8 50.3 15.7 -48.6 -0.8 6.5 -14.3 29.5 5.5 -19.9 5.6 -0.9 -6.7 -2.9 -4.5 25.9 0.6 11.4 4.6 -14.6 -2.1 19.8 8.9 -36.7 -4.3 16.3 -2.4 -19.1 -2.8 37.7 6.1 -32.3 -2 -27.2 -4.9 -10.9 0.8 57 6.9 -27.1 -3.7 24.7 -2.5 9.2 5.3 -40.4 -2.6 4.4 0.7 41.7 -2.2 -22.8 8.3 -3.9 -1.6 11.5 4.4 -4.8 -7.5 -12.7 5 2.1 -5.6 -36.1 -5.8 44.1 5 -35.2 7 57.2 1.2 0.9 -10.9 -52.5 5.1 39.4 -4.3 -2.1 0.4 -22.1 5.9 -32.4 -2.1 49.5 3.5 -17.5 -13.1 16.8 9.2 -25.4 -6.5 -47.6 -1.7 59.1 9.7 10.9 -10 -27.2 7.1 10.5 2 23.5 5.3 -3.9 -10.7 -7.5 0.2 -32.6 2.5 40.6 -1.6 -31.1 10.8 19.5 -1.7 26.6 -6.3 -29.6 -7 6.8 11.7 14.3 -0.9 -25.4 -1.7 41 -2.1 -35.1 -6.9 19.8 7.2 -37.1 -3.8 4.5 -2.5 34.1 0.1 -29.4 2.3 -15.2 -3.3 51.2 7 -87.7 0.2 72.9 5.2 13.4 -11.1 -15.5 11.8 -47.6 -3.2 28.1 4.1 2 -8.4 35.2 4.5 -28.6 -1.9 -10.5 -7.4 22.7 7.4 -35.5 -4.8 27.7 -1.6 -66.9 12.4 8.7 -4.5 53.1 -4.8 -21.1 1.4 -24.2 0.3 65.1 -7.1 -18.3 3 -11.6 0.7 23.7 9.6 -26.6 -0.7 -24.2 -11.3 -43.3 1 33.4 0.1 9.4 6.3 65.3 0.7 -3.2 1.4 -0.1 -8.6 -58.8 0.4 71.3 2.1 -76.3 -2.7 61 1.8 14 0.5 -47.8 -1.9 -19 -1 43.4 13.5 -24.8 -12.3 29.4 11.4 -23.6 -2.2 -14.8 -10.7 47 7.4 -12.1 -5.5 -5.7 -3 -4.8 -0.8 31.3 6.9 -27.3 0.5 18.1 2.3 -26.8 6.6 -33.9 -2.6 70.8 -7 -15.5 2.9 -4.1 -2.6 -36.8 7.7 51.3 -0.5 -3.7 -4.3 -21.6 -1.5 -35.3 2.2 19.5 2.9 25.4 0.6 16.1 0.1 -17.1 -6.8 1.6 -6.7 3.6 10.3 -34.7 5.3 -34.6 -5 19.8 -0.4 29.8 1.1 -23 -3.3 -14.3 3.7 67.7 2.9 -9 -15.1 -0.8 3.6 -24 3 26.6 8.4 -99.3 -12.7 62.8 -0.4 -0.5 10.2 -8.4 -0.8 15.3 -8.8 10.7 7.9 16.8 -8.3 -0.9 10.5 -17.9 -9.1 16.7 -1 -70.7 -1 84.6 2.3 -31.8 -1.4 28.2 7.4 -0.5 -7.4 5.1 9 -10.1 -5.2 -76.9 2 61.4 -8.8 -26.1 13 20.7 -10.9 18.3 6.2 -27.3 0.5 5.8 0.8 30.9 6.4 -17.8 -0.6 -38 -5.1 -8.7 1 37 0.1 1.3 -10.5 25.5 5 -136.6 8.5 2.8 -6 12.5" fill="none" stroke="none" marker-start="url(#mor)" marker-mid="url(#mor)" marker-end="url(#mor)"/>
<path d="M137.6 723V828.8" stroke="#111" stroke-width="0.9"/>
<polygon points="122.2,775.6 152.9,775.6 152.9,798.1 147.1,800.4 152.9,802.7 152.9,811 122.2,811 122.2,802.7 128,800.4 122.2,798.1" fill="#fff" stroke="#111" stroke-width="1"/>
<path d="M128 800.4H147.1" stroke="#000" stroke-width="2"/>
<path d="M132.3 778.3l7.1 -3.2 -2.1 51.2 1.5 -32.1 -7.5 31 -1.1 -14.9 12.7 -41.9 1.7 24.7 -6.5 28.3 2.8 0.5 1.6 -34.8 -1.7 41.3 -10.5 -59.1 -0.6 26.7 7.8 -38.3 -7.9 36.2 8.1 25.5 8 -27 -4.5 3.8 -7.5 24.5 -1.5 -36.9 6.4 10 -5.8 34.4 -3.2 -15.6 4.8 -26.9 9.5 34.8 -6.6 -11.9 2.3 -1.7 -4.4 4.4 1.3 5.4 7.9 -18.4 -14.2 23.7 4.9 -42.8 4.7 16.7 -2 14.6 -4.5 4.9 -3.2 -43.2 11.7 -17.2 -3.7 41.4 -5.7 7.7 10.3 -38.9 -4.3 21.6 -2.4 11.2 8 9.1 -7.7 -50.3 -1.7 38.5 9.1 2.4 -6 -6.4 1.4 10.5 -8.4 21.2 0.4 -6.9 1.1 -42.9 -1.9 9.4 14.6 -18.2 -4.4 54.3 -7.3 -36.3 12.6 23 -5.9 -5.2 -10.1 -9.6 6 -2.7 2.8 -1.3 0.2 -7.6 -3.6 16.2 10.2 -13.1 -15.8 0 1.4 -35.7 4.3 58.4 0 -17 -2.4 23.9 11.2 -24.1 -6.4 -40.2 -1.5 79.7 8.3 2 -5.2 -71.9 -9.3 12.1 14.8 10.4 -4.5 3.8 5.4 44.8 -13.7 -33.4 10.3 1 -3.4 -10.7 -5.9 -4.2 2.3 -28.4 -0.2 -22.6 4.9 -6.1 -2 67.9 5.5 -76.9 -12.5 95.3 1.5 -48.1 1.5 10 10.3 0.6 1 5.1 -14.9 0.8 11.6 -1.3 -1.6 21.1 -2.2 -67.8 -1.8 49.4 -1.1 22.9 -0.2 -29.5 -1.5 -14.1 5.5 25.9 -3.6 7.9 -2.4 -13.5 2.5 49.3 8 -17.6 -12.4 2.2 0.8 5.8 -0.4 -33.8 -2.2 3.4 2.3 9.4 4 10.8 -5.3 -32.3 2.6 49.4 8.4 -30.6 -9.3 8.2 8.8 14.5 -5.7 -31 -2 24.4 -4 -6.7 11.3 8.3 -8.7 -36.8 6.9 32.9 -4.4 -40.5 6.7 9 0.6 -16.5 -5.8 52.2 7.9 -41.7 -6.3 9.1 1.4 1.2 1.6 19.7 -4.4 -32.8 4.3 48.6 3.3 -43 -2.5 -3.8 -0.2 -1.1 -10 8.7 9.8 2 -4 1.8 4.7 30.8 -7.3 4.8 0.1 -6.7 -3.2 -40.6 8.1 -37.8 -5.8 67.8 2.1 -7.2 8.8 8.9 -11 -7.4 5 6.7 3.6 -14.9 4 -27.8 -5.8 63.5 -1.3 -59.7 -0.4 25.2 -6.4 33.7 -2.7 -36.1 0.9 6 9.3 9.8 2 27.3 -11.4 -58.2 8.3 50.6 4.8 6 -5.3 -11.7 -1.4 10 0.7 -8.7 5.5 -13.3 -1.4 17.8 1.3 -35.6 0 -52.7 -1.6 70.3 1.6 -42 -12.7 -26.6 4.7 71.8 2.4 -13.4 6.3 2 -1 19.5 -11.8 -52.4 4 48.5 -2.5 -3.9 6 14 -0.1 8.1 7.3 -9.3 -15.2 -6.8 9.7 -40 -0.5 26 -8 13.7 9.4 -15.5 -1.5 6.1 -8 -26.5 5.4 32.9 6.8 -12.2 -12.8 -43.1 5.6 56.1 5.1 -53.4 3 53.3 -3.6 -61 -2.5 63.8 -3.9 -2.7 -3.7 -8.5 11 -22.5 -11.4 -35.9 10 71 -10.4 -20.3 11 11.1 -5.5 -48.9 8.3 36.8 -10.3 15.2 3.3 -3.1 -5 -43.9 -2.1 5.1 2.2 35.4 11.6 25.7 -7.7 -29.9 3.7 -17 3.8 46.5 -7.1 -74 10.1 19.4 -0.5 -27.1 -11.4 -11.5 7.1 26.9 2.5 40.7 -14.2 -13.7 16.4 22 -15.7 -0.1 11.5 -54.6 -4.6 45 3 -25.6 3.4 -14.6 1.4 35.5 -9.2 5.5 2.8 -46.4 -0.8 30.6 -8 1.6 2.6 -13.1 9.9 25.6 -3 -1 -7.4 10.6 6.1 7.8 -1.4 -22.7 -5 -0.3 13.8 8.3 -5.1 -48.8 -4.6 42.6 7.6 -0.3 -12.6 -17.9 2.7 26.4 11.2 25.1 -8.1 -80.1 0.9 46.7 6.7 15.3 -0.3 -70.2 -13.5 23.4 2 -28.6 -2.6 65.6 13.8 -6.8 -9.4 -37.6 0.3 62.3 11.7 1.9 -7.2 -16.8 -7.3 -47 11.6 -27.3 -3.5 21.2 2.2 -2.4 -0.4 -4.6 -11.8 74 11.4 -4.1 -0.9 -27.2 -1 -42.9 0.9 62.6 -3.8 -10.2 8.5 -57 -3.5 74.1 -8.3 -16 5.1 30.2 -1.9 -26.2 -1.8 15.1 -2.7 -46.6 6.5 9.7 6.3 27.5 -2.1 13.9 -4.3 -48.2 3.8 45.4 -4.9 -89.3 7.9 54.3 -9.1 -29.6 -3.1 47.9 7 -17.9 -7.9 0 4.4 9.8 7.8 -10.7 -4.8 12.3 -6.4 -7.9 2.5 -5.3 8.2 19.3 -6.1 12.9 4.9 -82.1 1.8 80.4 1.1 -55.8 -8.2 -7.7 -2.7 45.1 8 21.6 -7.5 -9.3 -0.7 -57 9.2 34.4 -2.3 4.3 1.3 14.9 -1.7 -13.9 -9.4 22.7 -0.2 -9.6 4.2 -6.7 9.9 -9.9 -7.4 31.1 -3.3 -68.5 9.5 27.5 -13.5 44.4 5.5 -11.7 2.4 -35.1 -6.3 12.1 11.7 36.9 2 0 -5.1 -46.9 -2.5 -13.4 -7.4 -41.2 12 64.8 -11.1 0.5 2 18.7 3.2 24.6 8.1 -44 -0.8 -22.1 -13.5 56.1 8.8 -35.6 2.9 11.9 -3 18.2 -9.3 -67.9 15.9 58.1 -3.9 -37.5 -1 -35.8 -7 83.7 11.3 -61.4 -5.6 54.6 0.9 -33.3 -6.6 19.2 9.2 -18.7 -1.7 48.3 -0.1 -31.9 -4.4 32.3 1.5 -20.5 1.9 11.3 -7.4 7.3 -3.5 -20.2 5.1 -4.5 0.7 -13.6 8.8 12 -5.2 29.4 3.6 -35.1 2 -19.8 -6.3 35.1 3.5 16.4 -7.3 2.9 4.9 -40.3 -2.5 -19.9 -6.4 24.9 13.9 -9.8 -1.1 21.3 -5.4 -22.8 -5.8 18.4 0.1 -5.5 9.8 -35.1 -6.5 1.4 -0.6 1.4 4.6 31.5 -9.1 34.7 12.8 -28.6 -6 27.3 -6.6 -13.1 5.9 -15.1 -0.8 0.7 5.9 -26.7 -9.1 -16.3 2.7 34.1 -0.5 32.6 6.2 -32.3 -6.6 -9.9 3.3 42.9 -6.1 -7.5 8 -32.3 -10 -1.2 7.4 -2 -2 -6.1 7.6 16.1 -10 41.7 12.4 -20.1 -7.9 5.8 -2.6 -6.7 0.7 -25.8 10.1 18.9 -11.8 -7.7 -0.2 2.8 4.7 8.5 -0.2 -40.6 0.2 17 -5.2 18 6.1 -22.9 -7.4 48.3 -1.6 -51.8 9.7 41.3 1.1 5.2 -8.2 -0.8 2.1 -11.7 11.3 -5.4 -12.7 -34.6 -3.7 51.4 3 7.1 2.5 -21.3 1.6 0.1 3.5 20.1 5.9 -53.4 -8.5 50.5 7.1 -48.6 -2.5 -14.2 -8.8 37.2 9.5 -22.7 -4.2 56.8 3.8 -13.7 -11.6 -52.5 11.6 16.5 -9.7 36.7 5.2 -56.9 -2.9 2.3 8.1 17.3 -2.1 -33.1 -9 45.1 1 0.8 2.1 14.6 -2.9 -13 -0.9 9.5 14.7 -27.6 -3.4 8.7 -12.5 20.1 10.1 8.1 2.3 -92.4 0.2 84 -0.7 -55.5 -2.5 36.2 -6.2 4 7.2 30.2 3.6 -33.2 -11 12.8 7.3 -37.3 -5.5 49.4 10.1 -2.5 -14.6 -46.5 11.8 19.8 -11 22.2 -0.6 -30.1 15.5 27.3 0 25.9 -12.6 -19.1 0.2 -87 1 69.7 3.4 -0.7 -5 -8.8 0 -12.1 3.4 4.1 -5.1 27.4 0.9 15 0.4 -1.2 10.6 -37.3 -5.1 -1.3 -8.5 36.9 6.4 9.1 4.6 5.5 -4.6 -34.3 -4.7 34.1 13.5 -7 -13.9 -35.5 12.5 38.3 -0.5 -33.7 -12.4 -43.3 3.2 13.3 -2.4 29.6 1.4 21.4 8.9 19.2 -7.1 -74.1 1.2 20.9 -1.2 -27 0.6 43.9 5.5 22.2 -5.4 -13.5 6 -27.1 -4.1 20.2 6.6 -17 -7.7 -16 0.2 63.8 -0.1 -37.8 5.2 -8.7 1.3 8.1 2 20.9 -7.4 9.5 -1.9 -54.9 7.8 -20.6 0.8 78.8 -5.8 -34.7 8.1 24.6 -7.2 -24.2 -1.4 -21.8 -3 42.7 -1.1 -21.5 7.2 7.7 2 -2 -5.9 5.3 6.1 -53.8 -11.1 62.6 10.1 -12.5 1.9 -2.2 1.8 4.1 -12.3 7.4 11.4 -41.9 -11.2 31.9 9.5 1.9 -9.7 -50.1 10.2 61.4 -4.4 -27.6 5.3 16.3 -13.7 -24.8 10.8 38 1 -3.3 1.5 12.6 -10 -69.5 10.5 48.8 0.2 13.9 -8.9 -12.5 10.1 -33 -10.9 -6 -2.8 47.4 1.6 -53.3 2.1 60.2 3.7 -3.2 4.6 14.6 -7.6 -17.9 -0.7 10.1 3.4 -36.7 3 -23.8 2.6 22.3 -3.2 6.5 -5.1 -42.7 1 69.5 7 -38.4 -7.2 32 2.6 -51 -6.1 47.4 8.5 -1.3 2.3 -58.7 -13.2 51.4 8.4 28.8 -3.5 -0.9 9 -17.7 -6.4 -30.7 -9.5 41.3 8.8 5.4 -6.2 -14.6 7.7 -18.1 -5.2 -28.6 9.7 53.9 -10.7 -10.9 -2.5 -12.8 0.5 24.3 1.9 -12.9 -1.8 -54.1 9.7 -12.6 -10.5 86.9 1.1 5.1 1.8 -65.8 -1 61 2.4 -33.1 2.6 -10.7 1.6 42.8 2.1 -51.4 4.7 18.8 -6.2 10 3.6 -19 -11.2 34.9 -2.8 -32.3 8.3 31 -0.6 -36.1 -2.6 30.6 2 -13.2 2.4 21.4 3.7 -1.8 2.2 -5.8 1.1 -32 -9.9 20.1 2.4 -3.5 1.3 -41.3 -1.5 27 0 37.8 5.3 -27.4 -10.6 21.8 10.8 1.1 1.5 -26.6 -1.9 -2.3 -5.6 -97.5 -5 9.7 8 2.8 4 2.8 -8 2.8" fill="none" stroke="none" marker-start="url(#mot)" marker-mid="url(#mot)" marker-end="url(#mot)"/>
<path d="M27.6 662.6V837.1H162.9" fill="none" stroke="#111" stroke-width="1.1"/>
<path d="M24.8 678.4H27.6" stroke="#111" stroke-width="0.9"/>
<text x="22.7" y="681.9" font-size="10" text-anchor="end" fill="#222">4</text>
<path d="M24.8 734.1H27.6" stroke="#111" stroke-width="0.9"/>
<text x="22.7" y="737.6" font-size="10" text-anchor="end" fill="#222">2</text>
<path d="M24.8 789.8H27.6" stroke="#111" stroke-width="0.9"/>
<text x="22.7" y="793.3" font-size="10" text-anchor="end" fill="#222">0</text>
<path d="M52.2 837.1V839.9" stroke="#111" stroke-width="0.9"/>
<text x="52.2" y="849.6" font-size="10" text-anchor="middle" fill="#222">6</text>
<path d="M95.2 837.1V839.9" stroke="#111" stroke-width="0.9"/>
<text x="95.2" y="849.6" font-size="10" text-anchor="middle" fill="#222">7</text>
<path d="M137.7 837.1V839.9" stroke="#111" stroke-width="0.9"/>
<text x="137.7" y="849.6" font-size="10" text-anchor="middle" fill="#222">other</text>
<text x="95.2" y="861.6" font-size="10.2" text-anchor="middle" fill="#111">Cluster</text>
<path d="M52.3 675V670.8H95.3V675" fill="none" stroke="#444" stroke-width="0.8"/>
<text x="73.8" y="669.3" font-size="10.3" text-anchor="middle" fill="#222">0.002</text>
<text transform="translate(181.2 750.1) rotate(-90)" font-size="10.2" text-anchor="middle" fill="#111">BMI*</text>
<text x="171" y="667" font-size="12.5" font-weight="bold" fill="#000">g</text>
<path d="M227 755.1V828.6" stroke="#111" stroke-width="0.9"/>
<polygon points="212.3,783.1 241.7,783.1 241.7,790 236.1,792 241.7,794 241.7,803.7 212.3,803.7 212.3,794 217.9,792 212.3,790" fill="#36494f" stroke="#111" stroke-width="1"/>
<path d="M217.9 792H236.1" stroke="#000" stroke-width="2"/>
<path d="M224.6 763.5l7.2 36.9 -9.9 -21.4 1.2 12.9 0.1 19.4 3.6 -27.1 1.5 6.7 -8.1 -4.1 0 13.7 4.3 -14.4 -3.5 32.8 13.2 -14.1 -2.2 7.9 -1.6 -17.5 1.5 -6.7 -7.2 -8.1 -2 -1 0.2 4.7 -1.4 23.8 7.3 -24.5 -7 16 6.9 18.7 0.2 -31.9 -0.2 -6.7 -6.3 8.9 -3.3 -4.5 4.4 14.1 -3.8 0.3 14.9 5.1 -13.2 4.1 10.2 -2.8 -0.3 4.2 -6 -9 -1.8 -34.6 -4.2 30.6 4.3 -17 11 33.9 -11.7 -14.8 5.8 15.9 -5.3 -2.3 -4.2 -15.9 9.7 -37.5 -1.9 47.8 -3.7 -5.4 9.8 -21.3 -7.9 21 -5.9 -0.5 11 4 -1.9 -15.6 5.7 7.1 -8.6 -14.5 8.8 11.3 -2.3 11.8 1.4 -18.3 -6.5 15.6 0.9 15.6 6 1.6 -9.8 -56.7 5.3 21.5 -4.5 6.7 0.3 16.1 2.7 -5.7 1.5 -16.4 -8.5 -8.7 13.2 19.6 -13.5 7.5 1.6 -27.5 10.7 24.5 -11.5 -7.8 -1.4 -4 14.5 -3.7 -1.3 0.6 1.1 -2.5 -7.2 13.8 -5.1 -26.9 6.1 7.1 -1.6 20.8 6 7 -0.9 -39 -9 15.7 5.3 21 -0.4 3 -8.2 -32.9 14.5 23.9 -11.4 1.6 -1.8 -18 11.9 16.8 -8.9 3.9 3.2 -10.4 -6.1 15.7 8.5 -8.1 -2.8 10 -0.3 10.2 -4.7 -23.5 12.9 -20 -10.8 20.7 11.3 -25 -9.9 21.7 -2.6 -3.7 7.7 35.9 4 -15.8 -8.1 -28.5 -3.7 30 1.9 -34.7 8 3.5 -1.7 12.1 -3.8 23.9 5.5 -21.3 -5.9 9.5 5.9 17.5 -11.6 -14.4 1.8 -3.5 -0.6 -31.1 -0.5 35.4 12.3 7.2 -13.4 -45.2 5 -8 4.7 31.3 -3.1 -44.8 -0.8 37.4 4.3 -17.5 -9.3 19.9 2.9 4.7 3.9 -6 3.8 16.2 -9.5 -16.8 4.5 6.3 7.1 4.2 -14.4 -9.2 9.5 12.9 6 -20 -15 39.6 1.5 -24.2 -0.3 -17.5 8.8 27 -1.7 -25.8 1 -23.2 1.3 35.5 -9.9 -23.5 4.6 35.8 -2.7 -17.7 6.4 -6.4 -2.4 24.3 6.1 0.4 -10.9 14.3 -0.7 -32.1 10.1 -3 -9.8 -28.7 3.1 13.5 7.9 25.8 -2.2 -10.7 4.6 14.7 -4.2 -5.6 3.9 -19.6 -14.7 18.4 3.8 9.6 6.2 -2.7 3.7 22.6 -5.5 -41.5 -5.5 -9 2.2 6.7 -3.9 24.6 4.2 -14.3 6.5 22.5 1.3 -4.2 -12.7 -10.4 3.2 -19.8 8.5 0.4 1.9 51.8 -13.6 -40 14.9 11.9 -12 -20 -2.8 13.1 2.3 6.3 3.9 -19.6 4.2 9.7 -2.6 4.4 -4.3 19.5 -2.9 -0.4 6.4 -2.6 -1.6 -20.7 -4.7 -13.6 1.7 8.1 2 -5.6 -1.8 4 -1.7 13.8 3.8 8.2 -4.1 -12.3 8 -0.6 6 -2.7 -10.1 29.2 -5 -43.2 4.3 2.6 8.9 28.6 -3.9 -17.1 -5.4 -29.5 -2.7 11.4 9.1 28.2 -1.7 -21.8 6.2 17.4 -15.1 -22.6 7.6 25.4 -1.6 6.3 4.6 4.7 2.8 -6.2 -7.7 -15.8 -3.1 40.7 6.5 -33.6 -1.3 -14.1 -1.9 16.9 2.9 -20.2 -4.9 16.8 3.9 9.1 -3.3 -19.3 -0.8 33.9 0.6 -23.4 -0.3 -14.1 2.8 26.8 4.4 -27 -7.3 6.9 1.4 27 -2.7 -13.7 7.8 -18.8 1.9 21.7 3 -31.4 -3.6 8.6 1.1 15.7 -9.1 -19.1 3.4 8.4 -3.7 17.9 6.3 8.1 -2.8 -21.7 -5.7 8.2 11.8 -32.5 -11.2 41.9 13.4 -19.1 -14.2 8.2 10 4 -4.7 -20.9 5.2 13.1 -6.6 13.9 -0.2 9.1 10.2 -22.4 -1.3 -32.4 -11.2 5.9 -1.9 29.1 6 0.6 -3.3 -7.4 11.3 11.7 -14.1 -9.5 0.4 3.4 14.8 5.2 -13 -18.6 -0.2 11.2 3.9 10.6 2 -28.2 0.6 22.2 2.7 10.5 4.2 4.6 -4.6 3.4 -7.2 -108 10 3.1 -4 7.2" fill="none" stroke="none" marker-start="url(#msl)" marker-mid="url(#msl)" marker-end="url(#msl)"/>
<path d="M268.6 736.4V829.1" stroke="#111" stroke-width="0.9"/>
<polygon points="253.5,771.4 283.8,771.4 283.8,783.5 278,785.4 283.8,787.3 283.8,796.3 253.5,796.3 253.5,787.3 259.3,785.4 253.5,783.5" fill="#e3913f" stroke="#111" stroke-width="1"/>
<path d="M259.3 785.4H278" stroke="#000" stroke-width="2"/>
<path d="M263 806.5l13.3 -27.1 -5.6 -25.4 3.4 40.2 -10.2 1.8 -2.8 -9 5.6 -4.3 2.8 -50.1 4.5 69.6 -6 -14 3.5 -13.8 -0.7 -17.6 2.5 26.8 -2.6 -24.2 5 3 -12.7 25.5 5.1 -8.5 -2.2 26.7 9.9 -3.3 -14.3 -15.3 5 -20.8 5.4 36.1 -5.1 18.2 8 -26.3 -8.3 -11.3 -1 -9.9 5.9 -5.4 -0.7 14.3 -5.4 15.2 8.7 -6 -8 -13.7 -0.8 10.6 -0.5 8.6 -3.6 -9.1 14.5 -14.5 -1.2 -2.5 -4 1.9 -0.6 22.6 -1.2 -9.6 1.9 20.2 1.1 -43.5 -2.3 38.4 -6.1 -7.2 5.8 6.7 4.7 -26.6 0.2 23.6 -6.9 -25.6 -4.8 17.3 9.8 -2.7 -5.4 -2 2.2 30.1 -0.8 -53.9 5.1 31.9 -6 18.9 5.3 -19.4 -1.7 26.6 -9 -19.5 10.9 6.9 -4 -14 2.3 -29.1 2.2 -3.4 -1.4 19.4 -8.2 -1.9 6.4 -34.4 -7.5 -1 12.6 56.8 1.1 -3.8 -3.1 11.7 3.6 -42.6 -12.3 36.4 3.6 -2.2 6.7 -36.2 -2.7 42.4 4 -5.6 -7 -14.1 -4.9 -32.3 -1 -24.3 3.5 54.9 -2.8 -27.7 1.8 19.4 3.9 11.7 5.2 -15.8 -0.4 18.1 -4.2 -7.4 1.1 23 -1.6 -24.1 5.5 16.4 -8 10.9 -1.3 -43.8 7.4 36.7 -0.8 -1.7 -5 -18.6 2.5 1.6 -1.5 14.6 0.6 6 -7.3 -17 7.9 -35.3 -7.9 51.8 9.8 10.5 -2 -15.6 -6.7 -35.2 11.2 34.8 -3 -0.1 -0.3 -34.3 -5.9 -6.1 10.5 14.5 -10.6 54.9 -2.3 -41.2 6.9 13.4 5.4 -48.5 -9.4 33.5 1.4 14 5 -15.6 5.2 4.1 -15.9 -27.3 9.4 39.5 -2.1 -44.6 -1.7 8.9 7.4 6.2 -2.3 15 -1.4 31.4 -0.9 -22.5 -8.5 -0.5 15.7 15.9 -10.5 -25.8 5.9 -29.2 0.4 28.7 -3.1 1.4 7.3 23.8 -4.1 -30.7 -0.4 16.6 -6.7 18.2 -1.8 -2.8 6.8 -12.2 -5.1 -14.6 4.9 -4.1 1.9 14.7 -3.4 -1.3 8.1 -6.6 -5.5 17.9 -10.1 -0.3 6.5 -31.8 7.8 4.6 -7.2 3.2 3 -1.1 -3.6 37.2 3.1 -20.7 -7.5 -37.9 11.2 51.8 -8.6 -53.8 9.7 24 -0.1 -3.2 -10.7 16.8 0.1 -29.9 0.1 20.7 1.2 0.7 0.3 -18 0.8 35.7 8.3 -15.2 -9.7 -0.8 -2.9 28.6 11.1 -38.9 -5.7 -35.4 1.1 66.4 -7.2 -22.4 2.1 -2.7 11.6 0.4 -10.5 14.8 11.5 -5.1 -0.7 19.1 -3.5 -15.2 0.2 -49.8 -7.2 17.5 -3.9 22.8 13.7 1.3 -12.7 -18.5 7.1 34.3 3 12 -11.4 -26.2 10.5 13.8 0.1 0.8 -3.6 -20 3.8 15.2 -7.4 0.4 11.1 -28.6 -8 -17 4.4 35.6 -1 11.2 -3.6 -5.5 -7 -9.3 5.3 -16.1 -0.7 30.5 -4.2 -6.7 5.5 -21 -0.2 14.9 3.3 29.3 -7.7 -7.1 0.2 -8.1 9 -18.3 -9 42.4 7.3 -32.3 3.7 -5.3 -5.6 -40.1 6.4 57.6 -9.9 23.2 6.5 -21.4 3.5 8.4 -0.2 -11.4 -6.3 -11.2 -3.5 -21 2.2 17.5 1.2 -4.8 0.2 4.9 3 14.4 -1.7 -7 -4.9 -46.6 5.5 43.6 3.4 1.6 0.5 32.1 1.8 -37.4 -8.3 18.3 -0.6 6.4 -1.3 0 -3.7 1.5 12 -1.5 -4.9 -14.3 1.9 -4.7 4.3 11.4 -14.3 -14.5 13.8 -28.2 -4.1 17.9 5.7 -9.1 0.5 34.2 -6.7 -13.6 2 18.5 -3.4 -40.6 -1.4 43.2 1.3 -8.4 5.5 -27.8 -3.4 -15 -5.2 44.3 -0.3 -3.9 7.3 -19.1 -6.4 12.6 6.5 -48.8 -5.8 22.8 1.2 13.2 2.1 -13.3 1.3 60.2 5.8 -80.3 -15.9 57.6 2.4 -27 5.3 17.6 3.6 -31.1 1 24.1 -3.6 -22.7 2.2 27.9 -7.9 2.9 3.4 -21.2 -3.6 28.4 7.3 -16.1 -10.3 27.8 6.1 -22.1 9.6 -9.5 -9 -16.7 9.5 10.4 -5.6 14.1 2.7 -8.3 -12.4 19.8 -1.1 -26.2 12.9 37.7 0.1 -66.4 -3.7 49.6 2.2 8.4 -4.5 -12.5 -3.9 3 -0.7 -39 8.7 61.3 -11 -28.6 0.5 -14.7 13.4 30.7 -3.3 -35.2 -5.1 31.5 -5.2 -1.6 13.3 -38.1 -8.4 31.1 -5.1 -31.3 10.3 8.8 5.1 16.4 -11.6 -27.9 0.6 48.8 1.9 -26.6 2.2 -25.9 -1.8 49.5 4.2 -9.1 -5.5 7.3 -5.5 5.4 7.9 7.7 5.5 -34.4 -6.1 12 -1.6 -16.3 1.8 6.6 -6.1 20.2 -0.1 -14.5 12.4 -17.4 -12.8 7 9.5 -12.2 3 27.6 2.7 -35.7 -3 25.5 -7 -3.1 5.3 15.6 -7.4 -48.8 -3.5 46 1.1 4.5 4.1 -3.4 -5.6 9.6 11.9 -27.6 -1.6 -25.2 2.8 53 -4.6 -60.5 -8.8 53.9 13.3 -19.3 -12.6 9.7 9.8 -16.6 -4.5 19 -5.6 1.8 6 -13.7 0.2 41.1 0.9 -40.5 3.6 0 -3.6 26.5 2.8 6.7 3.8 -33.8 1.7 -5.7 -5.4 4.1 4.1 -22.1 -0.8 19 -7.5 45.5 6.2 -40.3 -7.8 -1.8 -2.7 -12.2 9.5 38 -10.2 -22.2 13.2 -2 -12.1 37.2 12.8 -52 -2.6 2.3 0.1 -14.8 2.5 45.6 -4.7 -13.7 4.6 -21.9 -11.2 3.5 0 4.7 7.3 28.4 -9.1 -12.4 -1 28.2 0 -28.9 1.7 -32.2 11.3 0 0.1 17.6 0.1 20.9 -2.4 -7.9 -10.1 20 3 -22.3 0 25.7 8.2 -7 -12.4 -21.8 3.2 -9.2 12.2 1.5 -15.8 32.5 1.8 -35.4 14 14.9 -3.8 -11.8 4 57 -5.1 -34.6 -10.7 -14.7 12.8 -16.9 0.7 1.7 -7.2 45.6 -0.3 -43.4 -4.6 26.7 1.1 -4.4 4.8 0.8 3.2 -29.4 -9 42.8 8.4 -20.8 1.5 -9 1.4 9.1 1.6 -7.2 -11.4 3 -2.8 8.9 15.4 -24.3 -8.4 22.9 -5.1 -2.3 9.5 -15.5 -10.8 18.8 7.3 -27.7 -6.2 29.1 -0.2 2.8 6.6 -4.7 -5.2 25.8 3.2 -55 4.1 23.4 0.3 -9.5 4.6 -17.3 -13.8 36.5 1.4 5.4 5.2 -26.4 8.1 -3 -13.7 -2.5 -1.8 26.4 5.8 -13.2 -0.9 0.1 10.3 8.3 -3.5 -2.3 -7.3 39.8 6.7 -53.8 -6.2 33.4 -3.3 9.4 0.6 -130.6 1.5 2.1 9.5 19.5 -1 1.1 -7 13.3 4 -1" fill="none" stroke="none" marker-start="url(#mor)" marker-mid="url(#mor)" marker-end="url(#mor)"/>
<path d="M310.1 743V820.8" stroke="#111" stroke-width="0.9"/>
<polygon points="295.6,776.1 324.5,776.1 324.5,786.6 319,787.9 324.5,789.1 324.5,798.4 295.6,798.4 295.6,789.1 301.1,787.9 295.6,786.6" fill="#fff" stroke="#111" stroke-width="1"/>
<path d="M301.1 787.9H319" stroke="#000" stroke-width="2"/>
<path d="M307.6 805.4l1.8 -47.5 -1.4 -10.7 8.2 23.4 -2.2 1.9 -1.8 2.4 4.4 -3.3 -3.7 20.4 -8.4 -15 -1.5 2.4 1.1 1.5 2.9 26.2 8.3 -11.7 -7.4 9.2 5 13.2 -1.9 -14.9 -7.3 -3.8 3 -14.1 5.4 -2.2 3.8 -36.7 -8.8 58.1 -4.6 4.2 1.5 -6.5 8.4 -10.1 -8.7 -16.6 -1.2 30.5 9.5 -1.2 -5.8 -6.4 -1.5 -29.6 2.8 23 8.9 -30.5 -2.2 -13.1 -8.6 31.1 6.1 21.1 -4 -45.7 8.6 26.2 -2.6 29.2 -8.7 -29.7 5 -10.8 6.6 35.5 -6.1 16.5 -5.5 -26.2 3.8 -17.8 -5.7 27 6.6 1.7 -4.6 -3.9 6.5 -28.3 -4.1 42.6 1.3 -15.1 2.4 0 -6.3 -13 2.3 -0.2 9.7 -5.2 -10.1 -0.5 9 -3.4 -6.5 11.1 -0.8 -21.8 2.3 16.3 -7.8 1.4 3.8 -25 -1.5 36.9 7.2 -17.9 -3.2 24.1 -5.5 17.1 6.4 -24.2 5.6 0.7 -10.4 -1.8 9.8 -6.4 -10.1 -6.1 12.9 -26.8 -9.8 49.6 2.5 -23.9 -1.1 19.6 7.8 -10.7 -2.8 0.9 -2.5 -12.2 2.2 0.9 -11 15.4 6.1 0.5 5.4 -6.1 2 -10.4 -0.8 23.9 -12.8 -28 5.9 -13.2 3.7 24.1 -9.7 36 4.7 -41 2.7 9.5 -4.3 -7.4 11.8 10.2 -10.6 -41.4 1.1 38.2 -3.1 6 -0.3 -5.8 11.6 -27.5 -1.4 60.1 -2.3 -11.1 -9.2 -23.2 -0.6 -7.8 11.8 13.2 -11.5 -25.6 0.6 21.5 8 -9.4 -6.5 15.8 2.4 9.1 2.2 -7.4 -7.5 -8.7 14.4 -7.8 -2.2 5.5 -3.4 13.3 -7 -54.7 11 18.7 -12.5 -8.5 2.3 45 8 -10.2 -9.9 -25.5 6.5 18 -6.8 -2 8.7 -13.2 3.6 12.8 -4.1 -17.9 -2.5 7.7 -0.6 -7.9 2.1 13.2 -7.6 10.8 9.7 -14.9 -4.4 20.9 3.1 27.6 0.2 -24 -7.4 -6.6 -1.7 12.2 12.8 -17.9 -5.5 -8.2 -0.3 11.1 0.2 19.2 -1.6 -44.7 -3.8 34.1 9.3 5.2 -6.1 -34.6 1 9.5 -3.7 18.7 2.5 -4.9 8.5 1.9 -3.1 -34.4 -8.1 41.7 2.4 -15.7 -1.5 5.6 8.2 -34.1 -9.7 39.1 3.3 -3.8 -4.8 -3.1 12 -1.2 -8.7 -45.1 5.5 42.1 3.5 4 2.4 19.7 -13.1 -59.8 -1.2 41 1 10.3 13.7 -12.9 -1.4 -14.6 0.1 -22.3 -1.5 4.4 2.1 22.8 -1.8 -19.3 -9.3 25.1 5.2 26.3 -7.2 -3.4 1.2 -0.8 11.5 20 -4.8 -42.3 -3.4 21 5 0.9 -3.7 -8.1 8.4 10.9 -4.2 -14.5 1.7 -2.3 -1.4 -2 0.9 -9.9 -1.7 21.4 -4.4 -22.4 -4.5 14.3 -0.7 -5.5 2 3.7 0.7 1.5 -2.4 6.2 -0.8 -2.6 3.9 4 11 -15.4 -3.8 20.9 -4.9 -26.9 -3.4 19.4 5.7 -43.4 -8.5 55.6 11.3 -4.3 -5.3 -16.9 4.3 -1.9 0.3 -18 -5.1 46.1 5.6 -9.6 3.7 -22.4 -12.7 6.6 -0.7 -6 0.2 7.2 4.9 16.1 2.1 -18.6 -0.2 -35.1 -4.1 48 -4.4 -30.5 4.3 36.5 -2 -7.3 8.1 -10.2 -1.8 18.6 6 -36.7 -13.2 -0.8 2.5 15.3 5.4 -13.5 5.2 28.9 -14.8 -30.6 1.9 9.9 12.8 38.4 -3.3 -32.3 -1.8 3.5 -5.7 -1.7 2 15.7 2.9 -17 -7.5 -23.7 7.6 24.9 -1 5.1 7 -3.8 -1.9 21 -11.2 -25.5 11.3 -11.8 -11.6 -20.3 1.4 13.3 -1.3 28.2 11.8 25.5 -6.7 -22.6 4 17.1 -9.9 -26.8 14.7 -5.4 -7.9 -4.9 -5.5 -0.3 7.9 16.5 -1.1 6.1 -3.9 -29.8 1.4 9.8 1.2 0.8 6.9 -3.5 -13.3 24.8 7.7 -7.6 -0.8 2.2 1 -20.1 -6.9 1.1 2.8 2.9 3.5 23.2 -7.6 -30.6 8.4 21.3 2.2 18.4 -1 -32.2 -2.7 5.7 -5.8 -8.7 0.3 16.7 12.3 19.1 -7.9 -19.5 -1.2 1.5 0.4 6.3 1.1 -29.1 -5.5 6.8 6.9 22.2 4.8 -4.3 -10.3 11.3 -0.1 -7.8 11.4 -26 -13.4 15.2 -0.1 4.3 2.8 -5.9 9.7 6.3 -12.2 7.5 12 -5.6 -2.1 1.4 -7.1 -40.7 -1.4 20.5 -2.2 -2.9 7.9 24 -2 -9.7 1.9 4.9 -7.5 -26.3 3.4 28.6 -3 -6.4 -0.8 -0.9 12 5.4 1.3 10.5 -0.6 -13.8 -4.9 7.5 -6 -33.5 0.7 45.5 -0.1 -14.8 4.1 17.1 7.1 -48.8 -13.1 9.2 8 48.7 6.4 -34.3 -9.5 -10.3 1.8 6.3 3 25.2 0.9 -19.8 -4 4 -0.9 -11.4 -2.9 -10.6 6.7 48.8 -8.1 -18.4 10 2.4 1.4 -39.1 -5.7 36.1 5.7 4.6 -3.6 -18.6 -4.3 -2.7 -5.8 -26.9 2.7 5.4 11.2 17 0 -1.1 -2.5 17.6 -5.7 13.5 -1 -12.1 -4.7 16.3 4.2 3.9 10.3 -67.8 -13.9 21.7 14.8 23.4 -13.5 15.6 3 -11.8 10.1 -46.1 -15.1 31.6 14.7 7.6 -0.2 -1.7 -5.5 -11.6 -6.6 7.8 2.2 -14.6 11.1 18.5 -5 17.9 2.7 -17.1 -12.9 0.7 8 -19.6 0.6 41.7 5.6 -0.9 -3.4 -27.5 -2.4 23.8 -0.2 -9.5 4.7 -14.1 0.7 -3.7 -0.4 24.2 -3.4 -14.3 -7.5 -8.2 -1 15.2 11.5 -28.8 -8.5 18.7 9.7 -6.4 -6.9 35.3 0.1 -36.2 6.7 -8.6 -8.3 10.6 1.2 -16.3 7.5 17.8 1 -16.1 -1.9 14.6 -1.7 -1.2 -3.6 28.9 -2.6 -6.5 3.6 -31.4 0.5 -34 2 52.6 1.8 -4.4 -3.3 7.2 0.2 -35.5 -2.8 29.3 7 -20.9 -12.1 32.6 10.9 -0.3 -8.3 21.9 4.9 -30.2 0.9 22 4.4 -37.1 -11 0.1 3.2 28.7 -1.5 10.2 2.9 -0.8 1 -39.7 -7.7 -29.7 8.9 23.1 -6.9 4.5 -3.5 27.5 6.7 -21 8 3.6 -1 -1.6 -5.4 -29.4 -4.1 10.6 0 20.5 -2.3 14.4 7.5 -15 -6.5 18.4 3.6 -3.5 -4.4 -28.8 1.8 8.9 4 27.7 3.2 -3.3 -10.8 -44.1 13.4 12 -4.5 -19.7 -2.7 31.4 -5.6 -1.5 6.8 39.9 6.9 -33.3 -14.6 -26.2 -0.8 37.7 11.1 -4.1 -2.5 -0.7 0.3 -13.9 -7 19.2 0.8 -35.7 1.6 23.4 -0.3 17.8 0.7 -11.9 -1.6 -18.2 0.7 29.1 -2.4 -48.4 6 40.5 5.1 5.8 -6.4 -21.1 0.2 -8.4 -5.5 16.3 11 25.2 3.8 -43 -9.2 3.6 8.4 21.8 -9.3 10.2 4.2 -19.1 -3 11.3 -1.9 -36.4 7.1 51.4 -0.3 -26.4 -0.2 31 -3.4 -19.2 1.2 -20.5 -3 16.9 4.6 -27.6 -8.2 23.1 7.6 16.1 4.3 4.5 -5.9 -46.9 -3.6 12.6 -4.9 3.8 0.9 18.5 10.8 1.6 -8.8 -34.8 1.8 22.4 -0.4 -28.3 2.4 35.9 3.4 -17.9 -4.6 25.5 -0.8 -12.7 2.2 22.5 -6.7 -11.1 6.7 -18.1 -4.3 15.3 -0.1 3.5 3.2 -52.6 2 50.2 3.7 3.5 -4.6 1.5 -3.3 -13 3.1 23 2.8 -43.3 3.6 28.1 -12.4 -22.6 4.6 -1.8 6.7 26 -4.9 -6.4 0.6 5 3.1 0.2 -5.1 -11.1 4.7 11.4 2.5 -34.1 -1.6 12.2 -2.7 12.2 -6.9 2 8.8 -4.7 -9 20.3 5.7 -25 0.2 -0.9 -0.1 -7.4 3 12.1 -7.1 4.1 4.3 2.1 5.9 8.9 1 23.5 -4.8 -21.9 2.8 -17.6 -8.3 28.4 -3.8 -17.5 6.3 -14.8 2.2 31.6 -5.6 -39 -1.4 20.8 4.3 -15 -0.2 29.4 -3.5 -3.9 12.5 -47.7 -4.7 23.9 -1.2 24.5 -7.8 -33.2 4.5 10.5 -0.2 15.1 4.4 3.4 -5.5 -16.6 10.8 10.3 -6.4 10.9 -2.1 -0.4 8.2 -3 -0.3 -29.3 -11.4 13.1 7.7 7.5 -10.2 3 10 -11.6 0.2 32.5 0 -34.1 -5 37.5 0.7 -39.6 -3.2 27.2 4.3 -37.2 -5.7 28.9 5 1.4 0.8 -10.7 -3.4 10.7 1.7 -28.2 -3.9 22.7 7.3 -5.2 3.5 16.2 0.8 -25.3 -2 12.4 3.1 8.2 -0.5 -44.1 -3.4 11.3 -9.2 -42.2 6.3 83.5 -6.7 -52.4 7 18.3 1.5 -1.3 -7.5 18.4 -1.7 15.7 1.7 -27 9 -1 3.3 12.6 -6.4 23.5 -0.7 -32.1 0.3 4.8 7 3.4 -1.7 11.7 -7 -23.3 6.1 -12.1 -12.2 19.1 14.3 4.6 -10.3 -9.5 8.3 -17.8 0.3 27.9 -8.2 -2.6 -2.9 7.7 1.4 -2 4.4 -15.9 0.4 6.7 1.1 -35.2 -9 21.4 3.3 16.9 4.9 -13.1 -7.8 18.8 8.8 -4.4 5.4 12.3 -0.8 3 -11.9 -16.8 6.3 -13.1 1 5.8 5.7 13.8 -12.5 -5.1 2.6 5.1 1.3 -28.1 -1.5 31.3 3.3 -3.2 4 -3.4 -1.7 23.6 1.5 -71.6 2.4 50.6 -12.2 -6.4 -1.9 17.1 1.3 -11.9 9 -7.4 -7.1 -3.3 5 20.2 -6.8 5.7 -1 -17.1 0.6 4.7 7 -18.2 0.5 -7.3 5.2 24 -2.1 3.3 -11.6 -12.8 12 -3.8 -1.5 7 0.9 -25.2 -5.2 -7.2 3.5 20.4 1.3 8.7 -4.4 -1.7 -5.2 -12.7 4.8 33.3 9 1.2 -1.4 -29.9 -3.7 21.7 1.5 16.6 -1.4 -59.5 -6.4 36.4 -1.1 13.4 8 -25.9 -0.7 -25.9 -6.9 27.8 5.5 32.8 -3.4 -4.4 2 -15.7 -0.6 1.6 6.3 3.4 -11.5 -8.8 11.4 -21.7 0.4 49.4 -12.3 -22.1 13.5 4 -12.1 -20.5 7.1 37.2 -7.4 -36.6 5.3 14.5 -2.3 -9.1 -4.2 9.3 10.5 1.6 2.4 -1.5 -7.1 4.8 -1.4 3.8 0.4 -22.8 3.7 -10.6 -4.1 7.1 4.7 -0.3 4.3 14.1 -5.7 5.7 -7.6 -41.2 14.5 54.3 -1.9 -27.8 -7.8 6 9.7 23.3 -14.4 -18.5 5.7 -45 -0.9 62.7 6.9 -20.4 -3.5 -11.2 -1.8 -18.7 -4.1 7.3 -0.3 -3.5 2 34.4 8.2 -12 -12.1 -10.2 13 26.2 -8.5 -39.4 9.8 10.9 -13.9 34.9 8.3 -14 -9.3 -11 4.4 -9.7 3 8.4 -1.7 -11 0.7 0.5 2.8 5.5 -4.7 5.9 -1.8 -1 5.4 24 2.8 -4.9 -9.2 -16.7 9.6 -17 -2.8 38.4 -4.5 -23.6 4.2 10 -2.7 17.6 -1.3 -5.6 0.5 -0.6 -4.9 -17.3 1.1 26.3 5.7 -90.9 6.1 59.9 -13.1 -10.1 2.8 49.5 1 -35.1 11.1 -23.3 -13 28 6.1 3.9 -1.8 -5.4 4.2 -4.9 -2.8 -33.6 -7 50 7.7 -24.4 -5.8 26.7 11.2 4.4 -8.1 -16 6.2 8.3 0.5 -7.6 1.3 -7.1 -5.5 4.4 -6.4 -1.8 10.5 -7.9 -5.6 19.3 -1.5 -7.3 0.9 1.4 -1.4 14.3 6.6 -11.1 0.2 -16.1 -2.6 -5.2 1.7 11.1 -3.3 21.5 -3.6 -89.6 6.5 68.2 -6.9 -3.7 3.4 6 -5.9 13.9 1.5 0.2 -2.4 -7.8 2.8 -10.6 -1.4 1.3 -1.6 -17.3 0.3 30.2 15.2 -35.8 -13.2 11.1 7.5 18.3 5 -21.5 -11.8 -44.9 3.4 74 8.3 -3.6 -13.1 -7.6 12.3 22.6 -0.2 -27.4 -8.7 -4.7 2.1 10.6 -5.7 9.6 8.5 -18.5 3.9 -2.9 -10 7 3.6 -1.4 3.5 -106 3 14.4 -11 1 5 10.3 -4 6.2 6 1" fill="none" stroke="none" marker-start="url(#mot)" marker-mid="url(#mot)" marker-end="url(#mot)"/>
<path d="M202.6 662.6V837.1H334.5" fill="none" stroke="#111" stroke-width="1.1"/>
<path d="M199.8 703.4H202.6" stroke="#111" stroke-width="0.9"/>
<text x="197.7" y="706.9" font-size="10" text-anchor="end" fill="#222">4</text>
<path d="M199.8 744.6H202.6" stroke="#111" stroke-width="0.9"/>
<text x="197.7" y="748.1" font-size="10" text-anchor="end" fill="#222">2</text>
<path d="M199.8 785.8H202.6" stroke="#111" stroke-width="0.9"/>
<text x="197.7" y="789.3" font-size="10" text-anchor="end" fill="#222">0</text>
<path d="M199.8 827H202.6" stroke="#111" stroke-width="0.9"/>
<text x="197.7" y="830.5" font-size="10" text-anchor="end" fill="#222">−2</text>
<path d="M227.3 837.1V839.9" stroke="#111" stroke-width="0.9"/>
<text x="227.3" y="849.6" font-size="10" text-anchor="middle" fill="#222">8</text>
<path d="M268.8 837.1V839.9" stroke="#111" stroke-width="0.9"/>
<text x="268.8" y="849.6" font-size="10" text-anchor="middle" fill="#222">9</text>
<path d="M310.3 837.1V839.9" stroke="#111" stroke-width="0.9"/>
<text x="310.3" y="849.6" font-size="10" text-anchor="middle" fill="#222">other</text>
<text x="268.6" y="861.6" font-size="10.2" text-anchor="middle" fill="#111">Cluster</text>
<path d="M227.3 674.7V670.5H268.8V674.7" fill="none" stroke="#444" stroke-width="0.8"/>
<text x="248.1" y="669" font-size="10.3" text-anchor="middle" fill="#222">5.9e−08</text>
<rect x="382.1" y="761.4" width="36.7" height="69.1" fill="#e3913f" stroke="#111" stroke-width="1.1"/>
<rect x="382.1" y="680.2" width="36.7" height="81.2" fill="#36494f" stroke="#111" stroke-width="1.1"/>
<rect x="387" y="789.3" width="26.8" height="13.2" rx="1.8" fill="#fff" stroke="#222" stroke-width="0.5"/>
<text x="400.5" y="799.6" font-size="10.2" text-anchor="middle" fill="#111">46%</text>
<rect x="387" y="714.2" width="26.8" height="13.2" rx="1.8" fill="#fff" stroke="#222" stroke-width="0.5"/>
<text x="400.5" y="724.5" font-size="10.2" text-anchor="middle" fill="#111">54%</text>
<rect x="422.2" y="738.8" width="36.8" height="91.7" fill="#e3913f" stroke="#111" stroke-width="1.1"/>
<rect x="422.2" y="680.2" width="36.8" height="58.6" fill="#36494f" stroke="#111" stroke-width="1.1"/>
<rect x="427.2" y="778.1" width="26.8" height="13.2" rx="1.8" fill="#fff" stroke="#222" stroke-width="0.5"/>
<text x="440.6" y="788.4" font-size="10.2" text-anchor="middle" fill="#111">61%</text>
<rect x="427.2" y="702.9" width="26.8" height="13.2" rx="1.8" fill="#fff" stroke="#222" stroke-width="0.5"/>
<text x="440.6" y="713.2" font-size="10.2" text-anchor="middle" fill="#111">39%</text>
<path d="M375.9 666.4V838.4H463.7" fill="none" stroke="#333" stroke-width="1.1"/>
<path d="M373.1 830.5H375.9" stroke="#333" stroke-width="0.9"/>
<text x="371.3" y="834.1" font-size="10" text-anchor="end" fill="#222">0%</text>
<path d="M373.1 815.5H375.9" stroke="#333" stroke-width="0.9"/>
<text x="371.3" y="819.1" font-size="10" text-anchor="end" fill="#222">10%</text>
<path d="M373.1 800.4H375.9" stroke="#333" stroke-width="0.9"/>
<text x="371.3" y="804" font-size="10" text-anchor="end" fill="#222">20%</text>
<path d="M373.1 785.4H375.9" stroke="#333" stroke-width="0.9"/>
<text x="371.3" y="789" font-size="10" text-anchor="end" fill="#222">30%</text>
<path d="M373.1 770.4H375.9" stroke="#333" stroke-width="0.9"/>
<text x="371.3" y="774" font-size="10" text-anchor="end" fill="#222">40%</text>
<path d="M373.1 755.4H375.9" stroke="#333" stroke-width="0.9"/>
<text x="371.3" y="759" font-size="10" text-anchor="end" fill="#222">50%</text>
<path d="M373.1 740.3H375.9" stroke="#333" stroke-width="0.9"/>
<text x="371.3" y="743.9" font-size="10" text-anchor="end" fill="#222">60%</text>
<path d="M373.1 725.3H375.9" stroke="#333" stroke-width="0.9"/>
<text x="371.3" y="728.9" font-size="10" text-anchor="end" fill="#222">70%</text>
<path d="M373.1 710.3H375.9" stroke="#333" stroke-width="0.9"/>
<text x="371.3" y="713.9" font-size="10" text-anchor="end" fill="#222">80%</text>
<path d="M373.1 695.2H375.9" stroke="#333" stroke-width="0.9"/>
<text x="371.3" y="698.8" font-size="10" text-anchor="end" fill="#222">90%</text>
<path d="M373.1 680.2H375.9" stroke="#333" stroke-width="0.9"/>
<text x="371.3" y="683.8" font-size="10" text-anchor="end" fill="#222">100%</text>
<path d="M400.5 838.4V841.2" stroke="#333" stroke-width="0.9"/>
<text x="400.5" y="849.9" font-size="10" text-anchor="middle" fill="#222">8</text>
<path d="M440.6 838.4V841.2" stroke="#333" stroke-width="0.9"/>
<text x="440.6" y="849.9" font-size="10" text-anchor="middle" fill="#222">9</text>
<text x="419.8" y="861.6" font-size="10.4" text-anchor="middle" fill="#111">Cluster</text>
<text x="343.8" y="666.8" font-size="12.5" font-weight="bold" fill="#000">h</text>
<path d="M400.4 676.4V673.4H440.6V676.4" fill="none" stroke="#666" stroke-width="0.8"/>
<text x="420.5" y="671.7" font-size="10.4" text-anchor="middle" fill="#222">0.00025</text>
<text x="466.9" y="738.2" font-size="8.5" font-weight="bold" fill="#111">Sex</text>
<rect x="467.2" y="744.2" width="14.2" height="14.4" fill="#36494f" stroke="#111" stroke-width="0.9"/>
<text x="486.7" y="754.1" font-size="7.2" fill="#333">Female</text>
<rect x="467.2" y="759.2" width="14.2" height="14.4" fill="#e3913f" stroke="#111" stroke-width="0.9"/>
<text x="486.7" y="769.1" font-size="7.2" fill="#333">Male</text>
<rect x="553.5" y="791.4" width="37.1" height="39.1" fill="#8c8374" stroke="#111" stroke-width="1.1"/>
<rect x="553.5" y="780.9" width="37.1" height="10.5" fill="#6a66a3" stroke="#111" stroke-width="1.1"/>
<rect x="553.5" y="768.9" width="37.1" height="12" fill="#7ab39b" stroke="#111" stroke-width="1.1"/>
<rect x="553.5" y="744.8" width="37.1" height="24" fill="#b6423f" stroke="#111" stroke-width="1.1"/>
<rect x="553.5" y="723.8" width="37.1" height="21" fill="#10a3d8" stroke="#111" stroke-width="1.1"/>
<rect x="553.5" y="711.8" width="37.1" height="12" fill="#e3913f" stroke="#111" stroke-width="1.1"/>
<rect x="553.5" y="680.2" width="37.1" height="31.6" fill="#36494f" stroke="#111" stroke-width="1.1"/>
<rect x="558.6" y="804.4" width="26.8" height="13.2" rx="1.8" fill="#fff" stroke="#222" stroke-width="0.5"/>
<text x="572" y="814.7" font-size="10.2" text-anchor="middle" fill="#111">26%</text>
<rect x="561.5" y="779.6" width="21.1" height="13.2" rx="1.8" fill="#fff" stroke="#222" stroke-width="0.5"/>
<text x="572" y="789.9" font-size="10.2" text-anchor="middle" fill="#111">7%</text>
<rect x="561.5" y="768.3" width="21.1" height="13.2" rx="1.8" fill="#fff" stroke="#222" stroke-width="0.5"/>
<text x="572" y="778.6" font-size="10.2" text-anchor="middle" fill="#111">8%</text>
<rect x="558.6" y="750.3" width="26.8" height="13.2" rx="1.8" fill="#fff" stroke="#222" stroke-width="0.5"/>
<text x="572" y="760.6" font-size="10.2" text-anchor="middle" fill="#111">16%</text>
<rect x="558.6" y="727.7" width="26.8" height="13.2" rx="1.8" fill="#fff" stroke="#222" stroke-width="0.5"/>
<text x="572" y="738" font-size="10.2" text-anchor="middle" fill="#111">14%</text>
<rect x="561.5" y="711.2" width="21.1" height="13.2" rx="1.8" fill="#fff" stroke="#222" stroke-width="0.5"/>
<text x="572" y="721.5" font-size="10.2" text-anchor="middle" fill="#111">8%</text>
<rect x="558.6" y="689.4" width="26.8" height="13.2" rx="1.8" fill="#fff" stroke="#222" stroke-width="0.5"/>
<text x="572" y="699.7" font-size="10.2" text-anchor="middle" fill="#111">21%</text>
<rect x="594.3" y="783.9" width="37" height="46.6" fill="#8c8374" stroke="#111" stroke-width="1.1"/>
<rect x="594.3" y="767.4" width="37" height="16.5" fill="#6a66a3" stroke="#111" stroke-width="1.1"/>
<rect x="594.3" y="755.4" width="37" height="12" fill="#7ab39b" stroke="#111" stroke-width="1.1"/>
<rect x="594.3" y="729.8" width="37" height="25.6" fill="#b6423f" stroke="#111" stroke-width="1.1"/>
<rect x="594.3" y="707.3" width="37" height="22.5" fill="#10a3d8" stroke="#111" stroke-width="1.1"/>
<rect x="594.3" y="698.2" width="37" height="9" fill="#e3913f" stroke="#111" stroke-width="1.1"/>
<rect x="594.3" y="680.2" width="37" height="18" fill="#36494f" stroke="#111" stroke-width="1.1"/>
<rect x="599.4" y="800.6" width="26.8" height="13.2" rx="1.8" fill="#fff" stroke="#222" stroke-width="0.5"/>
<text x="612.8" y="810.9" font-size="10.2" text-anchor="middle" fill="#111">31%</text>
<rect x="599.4" y="769" width="26.8" height="13.2" rx="1.8" fill="#fff" stroke="#222" stroke-width="0.5"/>
<text x="612.8" y="779.3" font-size="10.2" text-anchor="middle" fill="#111">11%</text>
<rect x="602.2" y="754.8" width="21.1" height="13.2" rx="1.8" fill="#fff" stroke="#222" stroke-width="0.5"/>
<text x="612.8" y="765.1" font-size="10.2" text-anchor="middle" fill="#111">8%</text>
<rect x="599.4" y="736" width="26.8" height="13.2" rx="1.8" fill="#fff" stroke="#222" stroke-width="0.5"/>
<text x="612.8" y="746.3" font-size="10.2" text-anchor="middle" fill="#111">17%</text>
<rect x="599.4" y="711.9" width="26.8" height="13.2" rx="1.8" fill="#fff" stroke="#222" stroke-width="0.5"/>
<text x="612.8" y="722.2" font-size="10.2" text-anchor="middle" fill="#111">15%</text>
<rect x="602.2" y="696.1" width="21.1" height="13.2" rx="1.8" fill="#fff" stroke="#222" stroke-width="0.5"/>
<text x="612.8" y="706.4" font-size="10.2" text-anchor="middle" fill="#111">6%</text>
<rect x="599.4" y="682.6" width="26.8" height="13.2" rx="1.8" fill="#fff" stroke="#222" stroke-width="0.5"/>
<text x="612.8" y="692.9" font-size="10.2" text-anchor="middle" fill="#111">12%</text>
<path d="M548.1 666.4V838.4H636.4" fill="none" stroke="#333" stroke-width="1.1"/>
<path d="M545.3 830.5H548.1" stroke="#333" stroke-width="0.9"/>
<text x="543.5" y="834.1" font-size="10" text-anchor="end" fill="#222">0%</text>
<path d="M545.3 815.5H548.1" stroke="#333" stroke-width="0.9"/>
<text x="543.5" y="819.1" font-size="10" text-anchor="end" fill="#222">10%</text>
<path d="M545.3 800.4H548.1" stroke="#333" stroke-width="0.9"/>
<text x="543.5" y="804" font-size="10" text-anchor="end" fill="#222">20%</text>
<path d="M545.3 785.4H548.1" stroke="#333" stroke-width="0.9"/>
<text x="543.5" y="789" font-size="10" text-anchor="end" fill="#222">30%</text>
<path d="M545.3 770.4H548.1" stroke="#333" stroke-width="0.9"/>
<text x="543.5" y="774" font-size="10" text-anchor="end" fill="#222">40%</text>
<path d="M545.3 755.4H548.1" stroke="#333" stroke-width="0.9"/>
<text x="543.5" y="759" font-size="10" text-anchor="end" fill="#222">50%</text>
<path d="M545.3 740.3H548.1" stroke="#333" stroke-width="0.9"/>
<text x="543.5" y="743.9" font-size="10" text-anchor="end" fill="#222">60%</text>
<path d="M545.3 725.3H548.1" stroke="#333" stroke-width="0.9"/>
<text x="543.5" y="728.9" font-size="10" text-anchor="end" fill="#222">70%</text>
<path d="M545.3 710.3H548.1" stroke="#333" stroke-width="0.9"/>
<text x="543.5" y="713.9" font-size="10" text-anchor="end" fill="#222">80%</text>
<path d="M545.3 695.2H548.1" stroke="#333" stroke-width="0.9"/>
<text x="543.5" y="698.8" font-size="10" text-anchor="end" fill="#222">90%</text>
<path d="M545.3 680.2H548.1" stroke="#333" stroke-width="0.9"/>
<text x="543.5" y="683.8" font-size="10" text-anchor="end" fill="#222">100%</text>
<path d="M572 838.4V841.2" stroke="#333" stroke-width="0.9"/>
<text x="572" y="849.9" font-size="10" text-anchor="middle" fill="#222">8</text>
<path d="M612.8 838.4V841.2" stroke="#333" stroke-width="0.9"/>
<text x="612.8" y="849.9" font-size="10" text-anchor="middle" fill="#222">9</text>
<text x="592.2" y="861.6" font-size="10.4" text-anchor="middle" fill="#111">Cluster</text>
<text x="516.5" y="666.8" font-size="12.5" font-weight="bold" fill="#000">i</text>
<path d="M572.1 676.4V673.4H612.7V676.4" fill="none" stroke="#666" stroke-width="0.8"/>
<text x="592.4" y="671.7" font-size="10.4" text-anchor="middle" fill="#222">0.004</text>
<text x="639.8" y="701" font-size="8.5" font-weight="bold" fill="#111">Diagnosis</text>
<rect x="639.2" y="706.4" width="14.2" height="14.4" fill="#36494f" stroke="#111" stroke-width="0.9"/>
<text x="658.7" y="716.3" font-size="7.2" fill="#333">AD+</text>
<rect x="639.2" y="721.4" width="14.2" height="14.4" fill="#e3913f" stroke="#111" stroke-width="0.9"/>
<text x="658.7" y="731.3" font-size="7.2" fill="#333">AD</text>
<rect x="639.2" y="736.4" width="14.2" height="14.4" fill="#10a3d8" stroke="#111" stroke-width="0.9"/>
<text x="658.7" y="746.3" font-size="7.2" fill="#333">LMCI+</text>
<rect x="639.2" y="751.4" width="14.2" height="14.4" fill="#b6423f" stroke="#111" stroke-width="0.9"/>
<text x="658.7" y="761.3" font-size="7.2" fill="#333">LMCI</text>
<rect x="639.2" y="766.4" width="14.2" height="14.4" fill="#7ab39b" stroke="#111" stroke-width="0.9"/>
<text x="658.7" y="776.3" font-size="7.2" fill="#333">EMCI+</text>
<rect x="639.2" y="781.4" width="14.2" height="14.4" fill="#6a66a3" stroke="#111" stroke-width="0.9"/>
<text x="658.7" y="791.3" font-size="7.2" fill="#333">EMCI</text>
<rect x="639.2" y="796.4" width="14.2" height="14.4" fill="#8c8374" stroke="#111" stroke-width="0.9"/>
<text x="658.7" y="806.3" font-size="7.2" fill="#333">CN</text>
</svg></body></html>
